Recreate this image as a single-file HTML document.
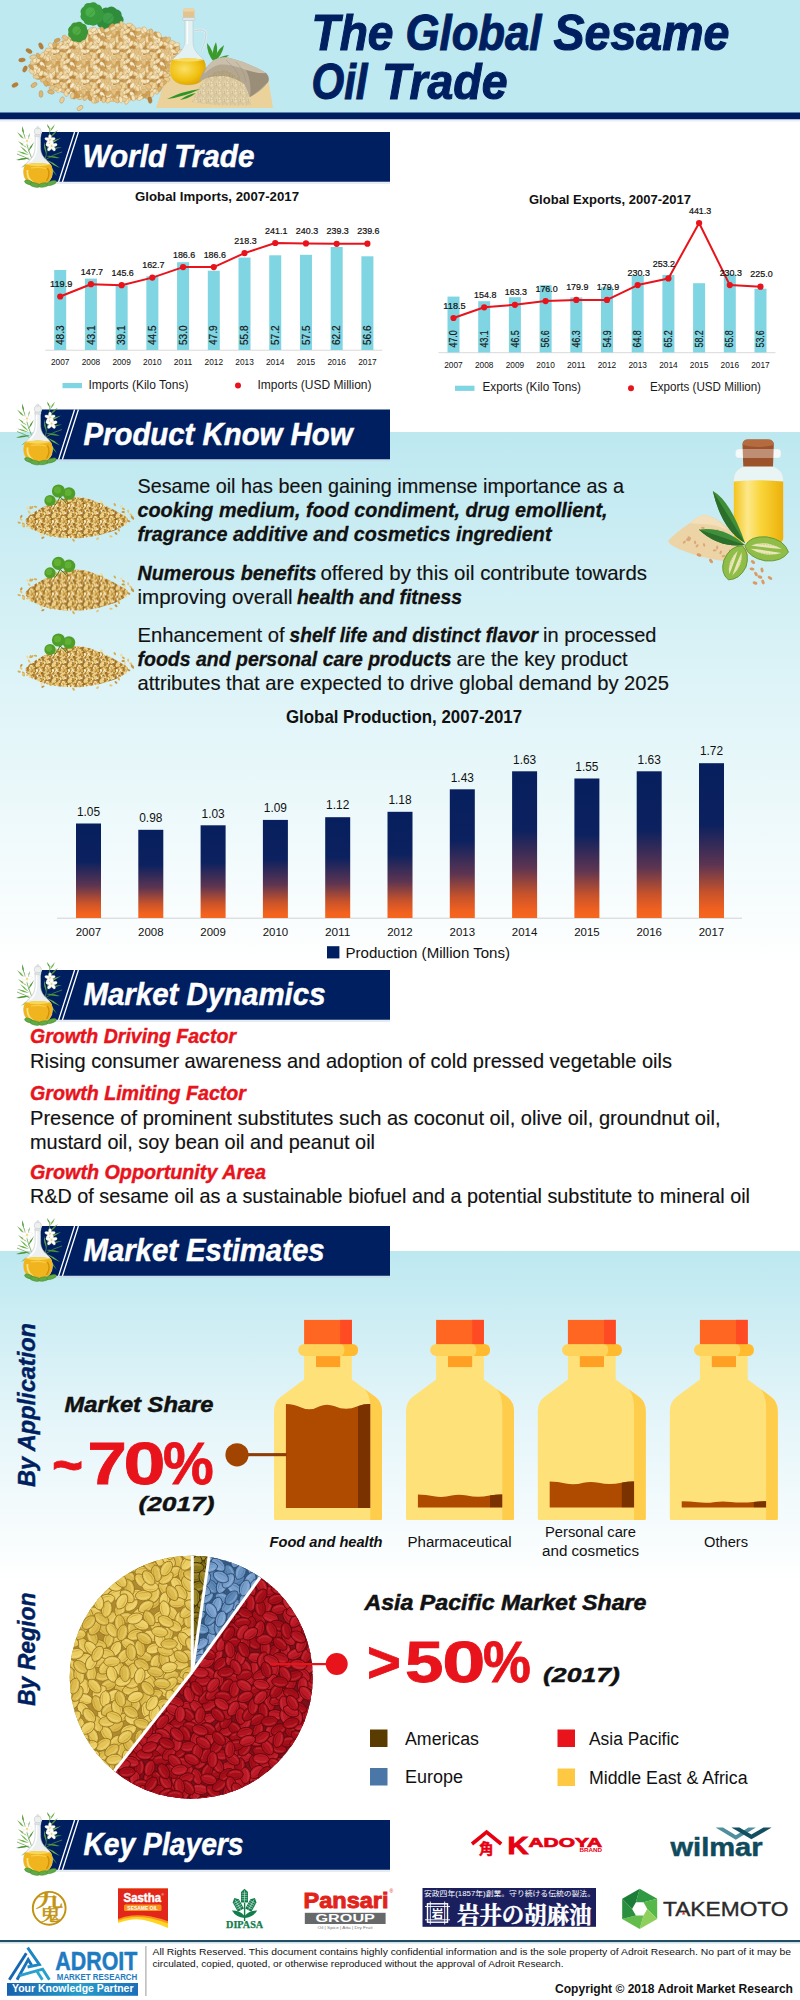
<!DOCTYPE html>
<html lang="en"><head><meta charset="utf-8"><title>The Global Sesame Oil Trade</title>
<style>
html,body{margin:0;padding:0;background:#fff}
svg{display:block}
text{font-family:"Liberation Sans","Noto Sans CJK JP",sans-serif}
</style></head><body>
<svg width="800" height="2000" viewBox="0 0 800 2000">
<defs>
<linearGradient id="gsec1" x1="0" y1="0" x2="0" y2="1"><stop offset="0" stop-color="#bde8f0"/><stop offset="0.45" stop-color="#dcf3f7"/><stop offset="1" stop-color="#ffffff"/></linearGradient>
<linearGradient id="gsec2" x1="0" y1="0" x2="0" y2="1"><stop offset="0" stop-color="#bde8f0"/><stop offset="0.5" stop-color="#e4f5f9"/><stop offset="1" stop-color="#ffffff"/></linearGradient>
<linearGradient id="gbar" x1="0" y1="0" x2="0" y2="1"><stop offset="0" stop-color="#071f5e"/><stop offset="0.40" stop-color="#0c215f"/><stop offset="0.66" stop-color="#5e3551"/><stop offset="0.84" stop-color="#c9532a"/><stop offset="0.95" stop-color="#f2621f"/><stop offset="1" stop-color="#f5661f"/></linearGradient>
<g id="oilicon">
<path d="M33 30 Q28 18 24 2 M33 30 Q24 24 17 22 M45 28 Q49 14 50 -4 M45 28 Q54 22 62 20" stroke="#5a9a40" stroke-width="0.7" fill="none"/>
<path d="M24 3 Q24.6 -1.8 22 -6 Q21.4 -1.2 24 3Z" fill="#4c9636"/>
<path d="M25 8 Q22.2 2.8 17 0 Q19.8 5.2 25 8Z" fill="#6db24a"/>
<path d="M26 12 Q29.5 7.0 30 1 Q26.5 6.0 26 12Z" fill="#4c9636"/>
<path d="M27 16 Q23.5 11.2 18 9 Q21.5 13.8 27 16Z" fill="#6db24a"/>
<path d="M28 20 Q32.3 15.8 34 10 Q29.7 14.2 28 20Z" fill="#4c9636"/>
<path d="M29 23 Q23.5 19.4 17 19 Q22.5 22.6 29 23Z" fill="#6db24a"/>
<path d="M30 26 Q22.8 25.3 16 28 Q23.2 28.7 30 26Z" fill="#4c9636"/>
<path d="M31 29 Q25.1 31.2 21 36 Q26.9 33.8 31 29Z" fill="#6db24a"/>
<path d="M32 31 Q26.8 35.6 24 42 Q29.2 37.4 32 31Z" fill="#4c9636"/>
<path d="M29 22 Q25.5 16.9 20 14 Q23.5 19.1 29 22Z" fill="#6db24a"/>
<path d="M50 -2 Q49.8 -5.6 47 -8 Q47.2 -4.4 50 -2Z" fill="#4c9636"/>
<path d="M50 0 Q53.8 -3.2 55 -8 Q51.2 -4.8 50 0Z" fill="#6db24a"/>
<path d="M49 6 Q54.6 3.2 58 -2 Q52.4 0.8 49 6Z" fill="#4c9636"/>
<path d="M48 12 Q55.2 10.5 61 6 Q53.8 7.5 48 12Z" fill="#6db24a"/>
<path d="M47 18 Q54.8 18.2 62 15 Q54.2 14.8 47 18Z" fill="#4c9636"/>
<path d="M46 22 Q46.4 15.8 44 10 Q43.6 16.2 46 22Z" fill="#6db24a"/>
<path d="M46 24 Q52.8 26.7 60 26 Q53.2 23.3 46 24Z" fill="#4c9636"/>
<path d="M47 28 Q52.6 33.4 60 36 Q54.4 30.6 47 28Z" fill="#6db24a"/>
<path d="M47 31 Q50.7 38.5 57 44 Q53.3 36.5 47 31Z" fill="#4c9636"/>
<path d="M48 14 Q51.8 9.6 53 4 Q49.2 8.4 48 14Z" fill="#6db24a"/>
<ellipse cx="27" cy="6.4" rx="1.6" ry="3.1" fill="#fff" stroke="#e6dfcf" stroke-width="0.3" transform="rotate(0 27 9)"/><ellipse cx="27" cy="6.4" rx="1.6" ry="3.1" fill="#fff" stroke="#e6dfcf" stroke-width="0.3" transform="rotate(72 27 9)"/><ellipse cx="27" cy="6.4" rx="1.6" ry="3.1" fill="#fff" stroke="#e6dfcf" stroke-width="0.3" transform="rotate(144 27 9)"/><ellipse cx="27" cy="6.4" rx="1.6" ry="3.1" fill="#fff" stroke="#e6dfcf" stroke-width="0.3" transform="rotate(216 27 9)"/><ellipse cx="27" cy="6.4" rx="1.6" ry="3.1" fill="#fff" stroke="#e6dfcf" stroke-width="0.3" transform="rotate(288 27 9)"/><circle cx="27" cy="9" r="0.9" fill="#efcf5a"/>
<ellipse cx="50" cy="5.5" rx="1.5" ry="3.0" fill="#fff" stroke="#e6dfcf" stroke-width="0.3" transform="rotate(0 50 8)"/><ellipse cx="50" cy="5.5" rx="1.5" ry="3.0" fill="#fff" stroke="#e6dfcf" stroke-width="0.3" transform="rotate(72 50 8)"/><ellipse cx="50" cy="5.5" rx="1.5" ry="3.0" fill="#fff" stroke="#e6dfcf" stroke-width="0.3" transform="rotate(144 50 8)"/><ellipse cx="50" cy="5.5" rx="1.5" ry="3.0" fill="#fff" stroke="#e6dfcf" stroke-width="0.3" transform="rotate(216 50 8)"/><ellipse cx="50" cy="5.5" rx="1.5" ry="3.0" fill="#fff" stroke="#e6dfcf" stroke-width="0.3" transform="rotate(288 50 8)"/><circle cx="50" cy="8" r="0.9" fill="#efcf5a"/>
<ellipse cx="51.5" cy="11.3" rx="1.6" ry="3.2" fill="#fff" stroke="#e6dfcf" stroke-width="0.3" transform="rotate(0 51.5 14)"/><ellipse cx="51.5" cy="11.3" rx="1.6" ry="3.2" fill="#fff" stroke="#e6dfcf" stroke-width="0.3" transform="rotate(72 51.5 14)"/><ellipse cx="51.5" cy="11.3" rx="1.6" ry="3.2" fill="#fff" stroke="#e6dfcf" stroke-width="0.3" transform="rotate(144 51.5 14)"/><ellipse cx="51.5" cy="11.3" rx="1.6" ry="3.2" fill="#fff" stroke="#e6dfcf" stroke-width="0.3" transform="rotate(216 51.5 14)"/><ellipse cx="51.5" cy="11.3" rx="1.6" ry="3.2" fill="#fff" stroke="#e6dfcf" stroke-width="0.3" transform="rotate(288 51.5 14)"/><circle cx="51.5" cy="14" r="0.9" fill="#efcf5a"/>
<path d="M35.2 3 L35 17 Q34.5 24 29 28.5 Q23.5 33 23.5 39.5 Q23.5 52.5 38 52.5 Q52.5 52.5 52.5 39.5 Q52.5 33 47 28.5 Q41 24 40.6 17 L40.4 3Z" fill="#edf0f0" stroke="#c2c7c7" stroke-width="0.6"/>
<circle cx="37.8" cy="-0.5" r="3.6" fill="#eef0f0" stroke="#c2c7c7" stroke-width="0.6"/><circle cx="37.8" cy="-4.3" r="1.2" fill="#e4e7e7" stroke="#c2c7c7" stroke-width="0.4"/>
<rect x="34.6" y="2.6" width="6.4" height="2.2" rx="1" fill="#dfe3e3" stroke="#c2c7c7" stroke-width="0.4"/>
<path d="M36.6 5 L36.4 17 Q36 25 30 30" stroke="#fff" stroke-width="1.5" fill="none" opacity="0.95"/>
<path d="M25.3 32.5 Q38 29.5 50.7 32.5 Q52.5 35.5 52.5 39.5 Q52.5 52.5 38 52.5 Q23.5 52.5 23.5 39.5 Q23.5 35.5 25.3 32.5Z" fill="#f0b41e"/>
<path d="M25.3 32.5 Q38 29.5 50.7 32.5 Q38 36 25.3 32.5Z" fill="#f9d858"/>
<path d="M27.5 38 Q26.5 46 33 50.5" stroke="#fbe27e" stroke-width="1.8" fill="none"/>
<path d="M31 36 Q38 34.5 46 36.5" stroke="#f8cf4a" stroke-width="1.2" fill="none"/>
<path d="M47.5 36 Q51 42 46.5 49" stroke="#d18f0c" stroke-width="1.3" fill="none"/>
<ellipse cx="29" cy="50.5" rx="4.6" ry="2" fill="#62ab44" stroke="#3f8a2c" stroke-width="0.5" transform="rotate(20 29 50.5)"/>
<ellipse cx="35" cy="53" rx="5" ry="2.1" fill="#62ab44" stroke="#3f8a2c" stroke-width="0.5" transform="rotate(12 35 53)"/>
<ellipse cx="43.5" cy="53" rx="5" ry="2.1" fill="#62ab44" stroke="#3f8a2c" stroke-width="0.5" transform="rotate(-8 43.5 53)"/>
<ellipse cx="51.5" cy="51" rx="5" ry="2" fill="#62ab44" stroke="#3f8a2c" stroke-width="0.5" transform="rotate(-18 51.5 51)"/>
</g>
<g id="sya"><path d="M-8.2 0 Q-6.4 -5.2 0.8 -5.3 Q7.6 -4.4 8.6 0 Q7.6 4.4 0.8 5.3 Q-6.4 5.2 -8.2 0Z" fill="#e4c456" stroke="#9c7a26" stroke-width="0.9"/><path d="M-5.6 2 Q0 5 6.4 1.8 Q1 3.2 -5.6 2Z" fill="#b8922e" opacity="0.55"/><path d="M-4.6 -1.8 Q0 -3.9 5 -2" stroke="#f3df8e" stroke-width="1.6" fill="none" opacity="0.45" stroke-linecap="round"/></g>
<g id="syb"><path d="M-8.2 0 Q-6.4 -5.2 0.8 -5.3 Q7.6 -4.4 8.6 0 Q7.6 4.4 0.8 5.3 Q-6.4 5.2 -8.2 0Z" fill="#dcba4c" stroke="#9c7a26" stroke-width="0.9"/><path d="M-5.6 2 Q0 5 6.4 1.8 Q1 3.2 -5.6 2Z" fill="#b8922e" opacity="0.55"/><path d="M-4.6 -1.8 Q0 -3.9 5 -2" stroke="#f3df8e" stroke-width="1.6" fill="none" opacity="0.45" stroke-linecap="round"/></g>
<g id="syc"><path d="M-8.2 0 Q-6.4 -5.2 0.8 -5.3 Q7.6 -4.4 8.6 0 Q7.6 4.4 0.8 5.3 Q-6.4 5.2 -8.2 0Z" fill="#ebcd62" stroke="#9c7a26" stroke-width="0.9"/><path d="M-5.6 2 Q0 5 6.4 1.8 Q1 3.2 -5.6 2Z" fill="#b8922e" opacity="0.55"/><path d="M-4.6 -1.8 Q0 -3.9 5 -2" stroke="#f3df8e" stroke-width="1.6" fill="none" opacity="0.45" stroke-linecap="round"/></g>
<g id="sra"><path d="M-8.2 0 Q-6.4 -5.2 0.8 -5.3 Q7.6 -4.4 8.6 0 Q7.6 4.4 0.8 5.3 Q-6.4 5.2 -8.2 0Z" fill="#b21420" stroke="#64070f" stroke-width="0.9"/><path d="M-5.6 2 Q0 5 6.4 1.8 Q1 3.2 -5.6 2Z" fill="#760912" opacity="0.55"/><path d="M-4.6 -1.8 Q0 -3.9 5 -2" stroke="#cc3f48" stroke-width="1.6" fill="none" opacity="0.45" stroke-linecap="round"/></g>
<g id="srb"><path d="M-8.2 0 Q-6.4 -5.2 0.8 -5.3 Q7.6 -4.4 8.6 0 Q7.6 4.4 0.8 5.3 Q-6.4 5.2 -8.2 0Z" fill="#a60f1a" stroke="#64070f" stroke-width="0.9"/><path d="M-5.6 2 Q0 5 6.4 1.8 Q1 3.2 -5.6 2Z" fill="#760912" opacity="0.55"/><path d="M-4.6 -1.8 Q0 -3.9 5 -2" stroke="#cc3f48" stroke-width="1.6" fill="none" opacity="0.45" stroke-linecap="round"/></g>
<g id="src"><path d="M-8.2 0 Q-6.4 -5.2 0.8 -5.3 Q7.6 -4.4 8.6 0 Q7.6 4.4 0.8 5.3 Q-6.4 5.2 -8.2 0Z" fill="#bc1a26" stroke="#64070f" stroke-width="0.9"/><path d="M-5.6 2 Q0 5 6.4 1.8 Q1 3.2 -5.6 2Z" fill="#760912" opacity="0.55"/><path d="M-4.6 -1.8 Q0 -3.9 5 -2" stroke="#cc3f48" stroke-width="1.6" fill="none" opacity="0.45" stroke-linecap="round"/></g>
<g id="sba"><path d="M-8.2 0 Q-6.4 -5.2 0.8 -5.3 Q7.6 -4.4 8.6 0 Q7.6 4.4 0.8 5.3 Q-6.4 5.2 -8.2 0Z" fill="#6a95c2" stroke="#2f4f76" stroke-width="0.9"/><path d="M-5.6 2 Q0 5 6.4 1.8 Q1 3.2 -5.6 2Z" fill="#3f6592" opacity="0.55"/><path d="M-4.6 -1.8 Q0 -3.9 5 -2" stroke="#9cbde0" stroke-width="1.6" fill="none" opacity="0.45" stroke-linecap="round"/></g>
<g id="sbb"><path d="M-8.2 0 Q-6.4 -5.2 0.8 -5.3 Q7.6 -4.4 8.6 0 Q7.6 4.4 0.8 5.3 Q-6.4 5.2 -8.2 0Z" fill="#5d87b5" stroke="#2f4f76" stroke-width="0.9"/><path d="M-5.6 2 Q0 5 6.4 1.8 Q1 3.2 -5.6 2Z" fill="#3f6592" opacity="0.55"/><path d="M-4.6 -1.8 Q0 -3.9 5 -2" stroke="#9cbde0" stroke-width="1.6" fill="none" opacity="0.45" stroke-linecap="round"/></g>
<g id="sbc"><path d="M-8.2 0 Q-6.4 -5.2 0.8 -5.3 Q7.6 -4.4 8.6 0 Q7.6 4.4 0.8 5.3 Q-6.4 5.2 -8.2 0Z" fill="#789fcc" stroke="#2f4f76" stroke-width="0.9"/><path d="M-5.6 2 Q0 5 6.4 1.8 Q1 3.2 -5.6 2Z" fill="#3f6592" opacity="0.55"/><path d="M-4.6 -1.8 Q0 -3.9 5 -2" stroke="#9cbde0" stroke-width="1.6" fill="none" opacity="0.45" stroke-linecap="round"/></g>
<g id="soa"><path d="M-8.2 0 Q-6.4 -5.2 0.8 -5.3 Q7.6 -4.4 8.6 0 Q7.6 4.4 0.8 5.3 Q-6.4 5.2 -8.2 0Z" fill="#8f7a1c" stroke="#3f3206" stroke-width="0.9"/><path d="M-5.6 2 Q0 5 6.4 1.8 Q1 3.2 -5.6 2Z" fill="#5a4a0c" opacity="0.55"/><path d="M-4.6 -1.8 Q0 -3.9 5 -2" stroke="#c0ae58" stroke-width="1.6" fill="none" opacity="0.45" stroke-linecap="round"/></g>
<g id="sob"><path d="M-8.2 0 Q-6.4 -5.2 0.8 -5.3 Q7.6 -4.4 8.6 0 Q7.6 4.4 0.8 5.3 Q-6.4 5.2 -8.2 0Z" fill="#816c14" stroke="#3f3206" stroke-width="0.9"/><path d="M-5.6 2 Q0 5 6.4 1.8 Q1 3.2 -5.6 2Z" fill="#5a4a0c" opacity="0.55"/><path d="M-4.6 -1.8 Q0 -3.9 5 -2" stroke="#c0ae58" stroke-width="1.6" fill="none" opacity="0.45" stroke-linecap="round"/></g>
<g id="soc"><path d="M-8.2 0 Q-6.4 -5.2 0.8 -5.3 Q7.6 -4.4 8.6 0 Q7.6 4.4 0.8 5.3 Q-6.4 5.2 -8.2 0Z" fill="#9c8828" stroke="#3f3206" stroke-width="0.9"/><path d="M-5.6 2 Q0 5 6.4 1.8 Q1 3.2 -5.6 2Z" fill="#5a4a0c" opacity="0.55"/><path d="M-4.6 -1.8 Q0 -3.9 5 -2" stroke="#c0ae58" stroke-width="1.6" fill="none" opacity="0.45" stroke-linecap="round"/></g>
<clipPath id="pieclip"><circle cx="191.2" cy="1677.2" r="121.5"/></clipPath>
<pattern id="pbig" width="30" height="30" patternUnits="userSpaceOnUse">
<rect width="30" height="30" fill="#b88a44"/>
<ellipse cx="7.1" cy="16.3" rx="3.1" ry="1.8" fill="#b9823a" stroke="#c59c5a" stroke-width="0.35" transform="rotate(67 7.1 16.3)"/><ellipse cx="17.4" cy="18.2" rx="2.9" ry="1.7" fill="#f1daa8" stroke="#c59c5a" stroke-width="0.35" transform="rotate(164 17.4 18.2)"/><ellipse cx="7.0" cy="-0.1" rx="3.1" ry="1.8" fill="#f3deb0" stroke="#c59c5a" stroke-width="0.35" transform="rotate(85 7.0 -0.1)"/><ellipse cx="7.0" cy="29.9" rx="3.1" ry="1.8" fill="#f3deb0" stroke="#c59c5a" stroke-width="0.35" transform="rotate(85 7.0 29.9)"/><ellipse cx="19.2" cy="4.5" rx="3.0" ry="1.7" fill="#f3deb0" stroke="#c59c5a" stroke-width="0.35" transform="rotate(114 19.2 4.5)"/><ellipse cx="19.2" cy="34.5" rx="3.0" ry="1.7" fill="#f3deb0" stroke="#c59c5a" stroke-width="0.35" transform="rotate(114 19.2 34.5)"/><ellipse cx="0.5" cy="23.3" rx="2.7" ry="1.6" fill="#b9823a" stroke="#c59c5a" stroke-width="0.35" transform="rotate(29 0.5 23.3)"/><ellipse cx="30.5" cy="23.3" rx="2.7" ry="1.6" fill="#b9823a" stroke="#c59c5a" stroke-width="0.35" transform="rotate(29 30.5 23.3)"/><ellipse cx="23.4" cy="24.7" rx="3.3" ry="1.9" fill="#b9823a" stroke="#c59c5a" stroke-width="0.35" transform="rotate(48 23.4 24.7)"/><ellipse cx="-3.6" cy="21.4" rx="3.3" ry="1.9" fill="#f8ecce" stroke="#c59c5a" stroke-width="0.35" transform="rotate(166 -3.6 21.4)"/><ellipse cx="26.4" cy="21.4" rx="3.3" ry="1.9" fill="#f8ecce" stroke="#c59c5a" stroke-width="0.35" transform="rotate(166 26.4 21.4)"/><ellipse cx="17.3" cy="-1.1" rx="2.7" ry="1.6" fill="#cf9e54" stroke="#c59c5a" stroke-width="0.35" transform="rotate(24 17.3 -1.1)"/><ellipse cx="17.3" cy="28.9" rx="2.7" ry="1.6" fill="#cf9e54" stroke="#c59c5a" stroke-width="0.35" transform="rotate(24 17.3 28.9)"/><ellipse cx="4.1" cy="6.5" rx="3.4" ry="1.9" fill="#f8ecce" stroke="#c59c5a" stroke-width="0.35" transform="rotate(174 4.1 6.5)"/><ellipse cx="34.1" cy="6.5" rx="3.4" ry="1.9" fill="#f8ecce" stroke="#c59c5a" stroke-width="0.35" transform="rotate(174 34.1 6.5)"/><ellipse cx="-4.3" cy="12.6" rx="3.0" ry="1.7" fill="#b9823a" stroke="#c59c5a" stroke-width="0.35" transform="rotate(150 -4.3 12.6)"/><ellipse cx="25.7" cy="12.6" rx="3.0" ry="1.7" fill="#b9823a" stroke="#c59c5a" stroke-width="0.35" transform="rotate(150 25.7 12.6)"/><ellipse cx="17.6" cy="17.5" rx="3.5" ry="2.0" fill="#f6e6c0" stroke="#c59c5a" stroke-width="0.35" transform="rotate(163 17.6 17.5)"/><ellipse cx="0.9" cy="8.4" rx="3.3" ry="1.9" fill="#f5e4ba" stroke="#c59c5a" stroke-width="0.35" transform="rotate(109 0.9 8.4)"/><ellipse cx="30.9" cy="8.4" rx="3.3" ry="1.9" fill="#f5e4ba" stroke="#c59c5a" stroke-width="0.35" transform="rotate(109 30.9 8.4)"/><ellipse cx="9.8" cy="16.3" rx="3.3" ry="1.9" fill="#e4c384" stroke="#c59c5a" stroke-width="0.35" transform="rotate(103 9.8 16.3)"/><ellipse cx="6.3" cy="24.9" rx="2.8" ry="1.6" fill="#ebcd90" stroke="#c59c5a" stroke-width="0.35" transform="rotate(103 6.3 24.9)"/><ellipse cx="14.5" cy="19.2" rx="3.4" ry="2.0" fill="#cf9e54" stroke="#c59c5a" stroke-width="0.35" transform="rotate(87 14.5 19.2)"/><ellipse cx="12.3" cy="4.5" rx="3.4" ry="2.0" fill="#f8ecce" stroke="#c59c5a" stroke-width="0.35" transform="rotate(53 12.3 4.5)"/><ellipse cx="12.3" cy="34.5" rx="3.4" ry="2.0" fill="#f8ecce" stroke="#c59c5a" stroke-width="0.35" transform="rotate(53 12.3 34.5)"/><ellipse cx="1.3" cy="18.4" rx="2.9" ry="1.7" fill="#b9823a" stroke="#c59c5a" stroke-width="0.35" transform="rotate(8 1.3 18.4)"/><ellipse cx="31.3" cy="18.4" rx="2.9" ry="1.7" fill="#b9823a" stroke="#c59c5a" stroke-width="0.35" transform="rotate(8 31.3 18.4)"/><ellipse cx="-3.6" cy="-0.6" rx="2.9" ry="1.7" fill="#efd7a2" stroke="#c59c5a" stroke-width="0.35" transform="rotate(91 -3.6 -0.6)"/><ellipse cx="-3.6" cy="29.4" rx="2.9" ry="1.7" fill="#efd7a2" stroke="#c59c5a" stroke-width="0.35" transform="rotate(91 -3.6 29.4)"/><ellipse cx="26.4" cy="-0.6" rx="2.9" ry="1.7" fill="#efd7a2" stroke="#c59c5a" stroke-width="0.35" transform="rotate(91 26.4 -0.6)"/><ellipse cx="26.4" cy="29.4" rx="2.9" ry="1.7" fill="#efd7a2" stroke="#c59c5a" stroke-width="0.35" transform="rotate(91 26.4 29.4)"/><ellipse cx="2.3" cy="18.0" rx="3.5" ry="2.1" fill="#d9ae66" stroke="#c59c5a" stroke-width="0.35" transform="rotate(6 2.3 18.0)"/><ellipse cx="32.3" cy="18.0" rx="3.5" ry="2.1" fill="#d9ae66" stroke="#c59c5a" stroke-width="0.35" transform="rotate(6 32.3 18.0)"/><ellipse cx="8.7" cy="7.9" rx="2.9" ry="1.7" fill="#cf9e54" stroke="#c59c5a" stroke-width="0.35" transform="rotate(124 8.7 7.9)"/><ellipse cx="-1.2" cy="-3.1" rx="3.4" ry="2.0" fill="#f1daa8" stroke="#c59c5a" stroke-width="0.35" transform="rotate(68 -1.2 -3.1)"/><ellipse cx="-1.2" cy="26.9" rx="3.4" ry="2.0" fill="#f1daa8" stroke="#c59c5a" stroke-width="0.35" transform="rotate(68 -1.2 26.9)"/><ellipse cx="28.8" cy="-3.1" rx="3.4" ry="2.0" fill="#f1daa8" stroke="#c59c5a" stroke-width="0.35" transform="rotate(68 28.8 -3.1)"/><ellipse cx="28.8" cy="26.9" rx="3.4" ry="2.0" fill="#f1daa8" stroke="#c59c5a" stroke-width="0.35" transform="rotate(68 28.8 26.9)"/><ellipse cx="11.6" cy="-4.0" rx="3.2" ry="1.9" fill="#e4c384" stroke="#c59c5a" stroke-width="0.35" transform="rotate(123 11.6 -4.0)"/><ellipse cx="11.6" cy="26.0" rx="3.2" ry="1.9" fill="#e4c384" stroke="#c59c5a" stroke-width="0.35" transform="rotate(123 11.6 26.0)"/><ellipse cx="-1.8" cy="15.2" rx="3.5" ry="2.0" fill="#d9ae66" stroke="#c59c5a" stroke-width="0.35" transform="rotate(78 -1.8 15.2)"/><ellipse cx="28.2" cy="15.2" rx="3.5" ry="2.0" fill="#d9ae66" stroke="#c59c5a" stroke-width="0.35" transform="rotate(78 28.2 15.2)"/><ellipse cx="13.1" cy="7.7" rx="2.6" ry="1.5" fill="#cf9e54" stroke="#c59c5a" stroke-width="0.35" transform="rotate(55 13.1 7.7)"/><ellipse cx="12.5" cy="17.4" rx="3.2" ry="1.8" fill="#b9823a" stroke="#c59c5a" stroke-width="0.35" transform="rotate(4 12.5 17.4)"/><ellipse cx="4.0" cy="19.0" rx="3.3" ry="1.9" fill="#cf9e54" stroke="#c59c5a" stroke-width="0.35" transform="rotate(60 4.0 19.0)"/><ellipse cx="34.0" cy="19.0" rx="3.3" ry="1.9" fill="#cf9e54" stroke="#c59c5a" stroke-width="0.35" transform="rotate(60 34.0 19.0)"/><ellipse cx="10.6" cy="21.2" rx="3.2" ry="1.8" fill="#efd7a2" stroke="#c59c5a" stroke-width="0.35" transform="rotate(133 10.6 21.2)"/><ellipse cx="-1.4" cy="0.6" rx="3.1" ry="1.8" fill="#f6e6c0" stroke="#c59c5a" stroke-width="0.35" transform="rotate(66 -1.4 0.6)"/><ellipse cx="-1.4" cy="30.6" rx="3.1" ry="1.8" fill="#f6e6c0" stroke="#c59c5a" stroke-width="0.35" transform="rotate(66 -1.4 30.6)"/><ellipse cx="28.6" cy="0.6" rx="3.1" ry="1.8" fill="#f6e6c0" stroke="#c59c5a" stroke-width="0.35" transform="rotate(66 28.6 0.6)"/><ellipse cx="28.6" cy="30.6" rx="3.1" ry="1.8" fill="#f6e6c0" stroke="#c59c5a" stroke-width="0.35" transform="rotate(66 28.6 30.6)"/><ellipse cx="17.8" cy="9.6" rx="3.3" ry="1.9" fill="#cf9e54" stroke="#c59c5a" stroke-width="0.35" transform="rotate(66 17.8 9.6)"/><ellipse cx="25.3" cy="7.9" rx="3.4" ry="1.9" fill="#e4c384" stroke="#c59c5a" stroke-width="0.35" transform="rotate(142 25.3 7.9)"/><ellipse cx="0.8" cy="17.1" rx="3.1" ry="1.8" fill="#ebcd90" stroke="#c59c5a" stroke-width="0.35" transform="rotate(132 0.8 17.1)"/><ellipse cx="30.8" cy="17.1" rx="3.1" ry="1.8" fill="#ebcd90" stroke="#c59c5a" stroke-width="0.35" transform="rotate(132 30.8 17.1)"/><ellipse cx="19.6" cy="8.1" rx="3.0" ry="1.8" fill="#f6e6c0" stroke="#c59c5a" stroke-width="0.35" transform="rotate(59 19.6 8.1)"/><ellipse cx="20.9" cy="3.1" rx="3.3" ry="1.9" fill="#cf9e54" stroke="#c59c5a" stroke-width="0.35" transform="rotate(58 20.9 3.1)"/><ellipse cx="20.9" cy="33.1" rx="3.3" ry="1.9" fill="#cf9e54" stroke="#c59c5a" stroke-width="0.35" transform="rotate(58 20.9 33.1)"/><ellipse cx="6.7" cy="24.3" rx="2.9" ry="1.7" fill="#e4c384" stroke="#c59c5a" stroke-width="0.35" transform="rotate(173 6.7 24.3)"/><ellipse cx="19.5" cy="-3.5" rx="3.4" ry="2.0" fill="#d9ae66" stroke="#c59c5a" stroke-width="0.35" transform="rotate(81 19.5 -3.5)"/><ellipse cx="19.5" cy="26.5" rx="3.4" ry="2.0" fill="#d9ae66" stroke="#c59c5a" stroke-width="0.35" transform="rotate(81 19.5 26.5)"/><ellipse cx="1.0" cy="-1.3" rx="2.8" ry="1.6" fill="#b9823a" stroke="#c59c5a" stroke-width="0.35" transform="rotate(57 1.0 -1.3)"/><ellipse cx="1.0" cy="28.7" rx="2.8" ry="1.6" fill="#b9823a" stroke="#c59c5a" stroke-width="0.35" transform="rotate(57 1.0 28.7)"/><ellipse cx="31.0" cy="-1.3" rx="2.8" ry="1.6" fill="#b9823a" stroke="#c59c5a" stroke-width="0.35" transform="rotate(57 31.0 -1.3)"/><ellipse cx="31.0" cy="28.7" rx="2.8" ry="1.6" fill="#b9823a" stroke="#c59c5a" stroke-width="0.35" transform="rotate(57 31.0 28.7)"/><ellipse cx="8.4" cy="24.2" rx="3.0" ry="1.7" fill="#b9823a" stroke="#c59c5a" stroke-width="0.35" transform="rotate(116 8.4 24.2)"/><ellipse cx="3.9" cy="8.8" rx="3.1" ry="1.8" fill="#ebcd90" stroke="#c59c5a" stroke-width="0.35" transform="rotate(143 3.9 8.8)"/><ellipse cx="33.9" cy="8.8" rx="3.1" ry="1.8" fill="#ebcd90" stroke="#c59c5a" stroke-width="0.35" transform="rotate(143 33.9 8.8)"/><ellipse cx="19.0" cy="8.7" rx="3.5" ry="2.0" fill="#efd7a2" stroke="#c59c5a" stroke-width="0.35" transform="rotate(102 19.0 8.7)"/><ellipse cx="4.7" cy="0.1" rx="3.6" ry="2.1" fill="#b9823a" stroke="#c59c5a" stroke-width="0.35" transform="rotate(170 4.7 0.1)"/><ellipse cx="4.7" cy="30.1" rx="3.6" ry="2.1" fill="#b9823a" stroke="#c59c5a" stroke-width="0.35" transform="rotate(170 4.7 30.1)"/><ellipse cx="13.0" cy="-1.5" rx="2.7" ry="1.5" fill="#d9ae66" stroke="#c59c5a" stroke-width="0.35" transform="rotate(167 13.0 -1.5)"/><ellipse cx="13.0" cy="28.5" rx="2.7" ry="1.5" fill="#d9ae66" stroke="#c59c5a" stroke-width="0.35" transform="rotate(167 13.0 28.5)"/><ellipse cx="13.7" cy="22.6" rx="3.1" ry="1.8" fill="#ebcd90" stroke="#c59c5a" stroke-width="0.35" transform="rotate(135 13.7 22.6)"/><ellipse cx="-3.3" cy="-4.2" rx="2.7" ry="1.6" fill="#ebcd90" stroke="#c59c5a" stroke-width="0.35" transform="rotate(154 -3.3 -4.2)"/><ellipse cx="-3.3" cy="25.8" rx="2.7" ry="1.6" fill="#ebcd90" stroke="#c59c5a" stroke-width="0.35" transform="rotate(154 -3.3 25.8)"/><ellipse cx="26.7" cy="-4.2" rx="2.7" ry="1.6" fill="#ebcd90" stroke="#c59c5a" stroke-width="0.35" transform="rotate(154 26.7 -4.2)"/><ellipse cx="26.7" cy="25.8" rx="2.7" ry="1.6" fill="#ebcd90" stroke="#c59c5a" stroke-width="0.35" transform="rotate(154 26.7 25.8)"/><ellipse cx="7.3" cy="1.1" rx="3.5" ry="2.0" fill="#f3deb0" stroke="#c59c5a" stroke-width="0.35" transform="rotate(145 7.3 1.1)"/><ellipse cx="7.3" cy="31.1" rx="3.5" ry="2.0" fill="#f3deb0" stroke="#c59c5a" stroke-width="0.35" transform="rotate(145 7.3 31.1)"/><ellipse cx="-3.1" cy="-3.0" rx="3.1" ry="1.8" fill="#efd7a2" stroke="#c59c5a" stroke-width="0.35" transform="rotate(104 -3.1 -3.0)"/><ellipse cx="-3.1" cy="27.0" rx="3.1" ry="1.8" fill="#efd7a2" stroke="#c59c5a" stroke-width="0.35" transform="rotate(104 -3.1 27.0)"/><ellipse cx="26.9" cy="-3.0" rx="3.1" ry="1.8" fill="#efd7a2" stroke="#c59c5a" stroke-width="0.35" transform="rotate(104 26.9 -3.0)"/><ellipse cx="26.9" cy="27.0" rx="3.1" ry="1.8" fill="#efd7a2" stroke="#c59c5a" stroke-width="0.35" transform="rotate(104 26.9 27.0)"/><ellipse cx="3.6" cy="15.1" rx="3.1" ry="1.8" fill="#efd7a2" stroke="#c59c5a" stroke-width="0.35" transform="rotate(43 3.6 15.1)"/><ellipse cx="33.6" cy="15.1" rx="3.1" ry="1.8" fill="#efd7a2" stroke="#c59c5a" stroke-width="0.35" transform="rotate(43 33.6 15.1)"/><ellipse cx="12.4" cy="-1.8" rx="2.8" ry="1.6" fill="#cf9e54" stroke="#c59c5a" stroke-width="0.35" transform="rotate(110 12.4 -1.8)"/><ellipse cx="12.4" cy="28.2" rx="2.8" ry="1.6" fill="#cf9e54" stroke="#c59c5a" stroke-width="0.35" transform="rotate(110 12.4 28.2)"/><ellipse cx="-0.8" cy="16.2" rx="3.0" ry="1.7" fill="#efd7a2" stroke="#c59c5a" stroke-width="0.35" transform="rotate(146 -0.8 16.2)"/><ellipse cx="29.2" cy="16.2" rx="3.0" ry="1.7" fill="#efd7a2" stroke="#c59c5a" stroke-width="0.35" transform="rotate(146 29.2 16.2)"/><ellipse cx="5.9" cy="16.0" rx="2.9" ry="1.7" fill="#f5e4ba" stroke="#c59c5a" stroke-width="0.35" transform="rotate(147 5.9 16.0)"/><ellipse cx="8.2" cy="-3.3" rx="3.1" ry="1.8" fill="#efd7a2" stroke="#c59c5a" stroke-width="0.35" transform="rotate(23 8.2 -3.3)"/><ellipse cx="8.2" cy="26.7" rx="3.1" ry="1.8" fill="#efd7a2" stroke="#c59c5a" stroke-width="0.35" transform="rotate(23 8.2 26.7)"/><ellipse cx="17.1" cy="12.0" rx="2.9" ry="1.7" fill="#d9ae66" stroke="#c59c5a" stroke-width="0.35" transform="rotate(136 17.1 12.0)"/><ellipse cx="15.8" cy="12.7" rx="3.4" ry="2.0" fill="#efd7a2" stroke="#c59c5a" stroke-width="0.35" transform="rotate(85 15.8 12.7)"/><ellipse cx="23.3" cy="1.4" rx="3.5" ry="2.1" fill="#f1daa8" stroke="#c59c5a" stroke-width="0.35" transform="rotate(9 23.3 1.4)"/><ellipse cx="23.3" cy="31.4" rx="3.5" ry="2.1" fill="#f1daa8" stroke="#c59c5a" stroke-width="0.35" transform="rotate(9 23.3 31.4)"/><ellipse cx="-4.4" cy="2.6" rx="2.8" ry="1.6" fill="#cf9e54" stroke="#c59c5a" stroke-width="0.35" transform="rotate(90 -4.4 2.6)"/><ellipse cx="-4.4" cy="32.6" rx="2.8" ry="1.6" fill="#cf9e54" stroke="#c59c5a" stroke-width="0.35" transform="rotate(90 -4.4 32.6)"/><ellipse cx="25.6" cy="2.6" rx="2.8" ry="1.6" fill="#cf9e54" stroke="#c59c5a" stroke-width="0.35" transform="rotate(90 25.6 2.6)"/><ellipse cx="25.6" cy="32.6" rx="2.8" ry="1.6" fill="#cf9e54" stroke="#c59c5a" stroke-width="0.35" transform="rotate(90 25.6 32.6)"/><ellipse cx="2.2" cy="11.6" rx="3.0" ry="1.7" fill="#ebcd90" stroke="#c59c5a" stroke-width="0.35" transform="rotate(70 2.2 11.6)"/><ellipse cx="32.2" cy="11.6" rx="3.0" ry="1.7" fill="#ebcd90" stroke="#c59c5a" stroke-width="0.35" transform="rotate(70 32.2 11.6)"/><ellipse cx="5.7" cy="9.9" rx="2.6" ry="1.5" fill="#f3deb0" stroke="#c59c5a" stroke-width="0.35" transform="rotate(22 5.7 9.9)"/><ellipse cx="21.7" cy="23.9" rx="3.0" ry="1.7" fill="#efd7a2" stroke="#c59c5a" stroke-width="0.35" transform="rotate(102 21.7 23.9)"/><ellipse cx="18.1" cy="23.5" rx="3.2" ry="1.9" fill="#efd7a2" stroke="#c59c5a" stroke-width="0.35" transform="rotate(68 18.1 23.5)"/><ellipse cx="12.9" cy="11.2" rx="3.0" ry="1.8" fill="#cf9e54" stroke="#c59c5a" stroke-width="0.35" transform="rotate(89 12.9 11.2)"/><ellipse cx="20.8" cy="13.8" rx="2.9" ry="1.7" fill="#f3deb0" stroke="#c59c5a" stroke-width="0.35" transform="rotate(44 20.8 13.8)"/><ellipse cx="17.7" cy="24.1" rx="3.5" ry="2.0" fill="#f5e4ba" stroke="#c59c5a" stroke-width="0.35" transform="rotate(40 17.7 24.1)"/><ellipse cx="-1.9" cy="11.2" rx="2.7" ry="1.6" fill="#ebcd90" stroke="#c59c5a" stroke-width="0.35" transform="rotate(162 -1.9 11.2)"/><ellipse cx="28.1" cy="11.2" rx="2.7" ry="1.6" fill="#ebcd90" stroke="#c59c5a" stroke-width="0.35" transform="rotate(162 28.1 11.2)"/><ellipse cx="20.7" cy="-1.8" rx="3.4" ry="2.0" fill="#f3deb0" stroke="#c59c5a" stroke-width="0.35" transform="rotate(132 20.7 -1.8)"/><ellipse cx="20.7" cy="28.2" rx="3.4" ry="2.0" fill="#f3deb0" stroke="#c59c5a" stroke-width="0.35" transform="rotate(132 20.7 28.2)"/><ellipse cx="20.0" cy="22.0" rx="3.4" ry="2.0" fill="#e4c384" stroke="#c59c5a" stroke-width="0.35" transform="rotate(101 20.0 22.0)"/><ellipse cx="21.5" cy="14.2" rx="2.7" ry="1.6" fill="#f8ecce" stroke="#c59c5a" stroke-width="0.35" transform="rotate(42 21.5 14.2)"/><ellipse cx="2.8" cy="3.0" rx="3.4" ry="2.0" fill="#f5e4ba" stroke="#c59c5a" stroke-width="0.35" transform="rotate(158 2.8 3.0)"/><ellipse cx="2.8" cy="33.0" rx="3.4" ry="2.0" fill="#f5e4ba" stroke="#c59c5a" stroke-width="0.35" transform="rotate(158 2.8 33.0)"/><ellipse cx="32.8" cy="3.0" rx="3.4" ry="2.0" fill="#f5e4ba" stroke="#c59c5a" stroke-width="0.35" transform="rotate(158 32.8 3.0)"/><ellipse cx="32.8" cy="33.0" rx="3.4" ry="2.0" fill="#f5e4ba" stroke="#c59c5a" stroke-width="0.35" transform="rotate(158 32.8 33.0)"/><ellipse cx="10.2" cy="-4.4" rx="3.3" ry="1.9" fill="#e4c384" stroke="#c59c5a" stroke-width="0.35" transform="rotate(5 10.2 -4.4)"/><ellipse cx="10.2" cy="25.6" rx="3.3" ry="1.9" fill="#e4c384" stroke="#c59c5a" stroke-width="0.35" transform="rotate(5 10.2 25.6)"/><ellipse cx="25.1" cy="-1.4" rx="2.7" ry="1.5" fill="#e4c384" stroke="#c59c5a" stroke-width="0.35" transform="rotate(104 25.1 -1.4)"/><ellipse cx="25.1" cy="28.6" rx="2.7" ry="1.5" fill="#e4c384" stroke="#c59c5a" stroke-width="0.35" transform="rotate(104 25.1 28.6)"/><ellipse cx="23.0" cy="15.3" rx="3.2" ry="1.8" fill="#e4c384" stroke="#c59c5a" stroke-width="0.35" transform="rotate(129 23.0 15.3)"/><ellipse cx="3.0" cy="16.6" rx="2.8" ry="1.6" fill="#b9823a" stroke="#c59c5a" stroke-width="0.35" transform="rotate(99 3.0 16.6)"/><ellipse cx="33.0" cy="16.6" rx="2.8" ry="1.6" fill="#b9823a" stroke="#c59c5a" stroke-width="0.35" transform="rotate(99 33.0 16.6)"/><ellipse cx="2.3" cy="-0.0" rx="3.2" ry="1.9" fill="#f1daa8" stroke="#c59c5a" stroke-width="0.35" transform="rotate(116 2.3 -0.0)"/><ellipse cx="2.3" cy="30.0" rx="3.2" ry="1.9" fill="#f1daa8" stroke="#c59c5a" stroke-width="0.35" transform="rotate(116 2.3 30.0)"/><ellipse cx="32.3" cy="-0.0" rx="3.2" ry="1.9" fill="#f1daa8" stroke="#c59c5a" stroke-width="0.35" transform="rotate(116 32.3 -0.0)"/><ellipse cx="32.3" cy="30.0" rx="3.2" ry="1.9" fill="#f1daa8" stroke="#c59c5a" stroke-width="0.35" transform="rotate(116 32.3 30.0)"/><ellipse cx="22.6" cy="11.8" rx="3.5" ry="2.0" fill="#f8ecce" stroke="#c59c5a" stroke-width="0.35" transform="rotate(66 22.6 11.8)"/><ellipse cx="16.7" cy="-1.0" rx="3.5" ry="2.1" fill="#d9ae66" stroke="#c59c5a" stroke-width="0.35" transform="rotate(68 16.7 -1.0)"/><ellipse cx="16.7" cy="29.0" rx="3.5" ry="2.1" fill="#d9ae66" stroke="#c59c5a" stroke-width="0.35" transform="rotate(68 16.7 29.0)"/><ellipse cx="12.4" cy="22.4" rx="3.3" ry="1.9" fill="#b9823a" stroke="#c59c5a" stroke-width="0.35" transform="rotate(29 12.4 22.4)"/><ellipse cx="20.2" cy="15.5" rx="3.0" ry="1.7" fill="#f6e6c0" stroke="#c59c5a" stroke-width="0.35" transform="rotate(87 20.2 15.5)"/><ellipse cx="-3.4" cy="4.9" rx="3.5" ry="2.0" fill="#f1daa8" stroke="#c59c5a" stroke-width="0.35" transform="rotate(90 -3.4 4.9)"/><ellipse cx="26.6" cy="4.9" rx="3.5" ry="2.0" fill="#f1daa8" stroke="#c59c5a" stroke-width="0.35" transform="rotate(90 26.6 4.9)"/><ellipse cx="15.5" cy="13.3" rx="2.8" ry="1.6" fill="#f5e4ba" stroke="#c59c5a" stroke-width="0.35" transform="rotate(129 15.5 13.3)"/><ellipse cx="22.6" cy="4.4" rx="3.4" ry="2.0" fill="#d9ae66" stroke="#c59c5a" stroke-width="0.35" transform="rotate(93 22.6 4.4)"/><ellipse cx="22.6" cy="34.4" rx="3.4" ry="2.0" fill="#d9ae66" stroke="#c59c5a" stroke-width="0.35" transform="rotate(93 22.6 34.4)"/><ellipse cx="16.1" cy="23.4" rx="3.2" ry="1.8" fill="#f8ecce" stroke="#c59c5a" stroke-width="0.35" transform="rotate(121 16.1 23.4)"/><ellipse cx="17.5" cy="-0.5" rx="2.7" ry="1.5" fill="#ebcd90" stroke="#c59c5a" stroke-width="0.35" transform="rotate(160 17.5 -0.5)"/><ellipse cx="17.5" cy="29.5" rx="2.7" ry="1.5" fill="#ebcd90" stroke="#c59c5a" stroke-width="0.35" transform="rotate(160 17.5 29.5)"/><ellipse cx="14.4" cy="11.5" rx="2.9" ry="1.7" fill="#cf9e54" stroke="#c59c5a" stroke-width="0.35" transform="rotate(31 14.4 11.5)"/><ellipse cx="14.5" cy="-4.1" rx="3.3" ry="1.9" fill="#f1daa8" stroke="#c59c5a" stroke-width="0.35" transform="rotate(75 14.5 -4.1)"/><ellipse cx="14.5" cy="25.9" rx="3.3" ry="1.9" fill="#f1daa8" stroke="#c59c5a" stroke-width="0.35" transform="rotate(75 14.5 25.9)"/><ellipse cx="6.2" cy="17.4" rx="3.2" ry="1.8" fill="#f6e6c0" stroke="#c59c5a" stroke-width="0.35" transform="rotate(162 6.2 17.4)"/><ellipse cx="14.4" cy="21.6" rx="3.4" ry="2.0" fill="#f8ecce" stroke="#c59c5a" stroke-width="0.35" transform="rotate(154 14.4 21.6)"/><ellipse cx="-3.5" cy="1.4" rx="3.2" ry="1.9" fill="#d9ae66" stroke="#c59c5a" stroke-width="0.35" transform="rotate(164 -3.5 1.4)"/><ellipse cx="-3.5" cy="31.4" rx="3.2" ry="1.9" fill="#d9ae66" stroke="#c59c5a" stroke-width="0.35" transform="rotate(164 -3.5 31.4)"/><ellipse cx="26.5" cy="1.4" rx="3.2" ry="1.9" fill="#d9ae66" stroke="#c59c5a" stroke-width="0.35" transform="rotate(164 26.5 1.4)"/><ellipse cx="26.5" cy="31.4" rx="3.2" ry="1.9" fill="#d9ae66" stroke="#c59c5a" stroke-width="0.35" transform="rotate(164 26.5 31.4)"/><ellipse cx="23.3" cy="2.1" rx="2.9" ry="1.7" fill="#ebcd90" stroke="#c59c5a" stroke-width="0.35" transform="rotate(39 23.3 2.1)"/><ellipse cx="23.3" cy="32.1" rx="2.9" ry="1.7" fill="#ebcd90" stroke="#c59c5a" stroke-width="0.35" transform="rotate(39 23.3 32.1)"/><ellipse cx="5.7" cy="7.8" rx="3.4" ry="2.0" fill="#f6e6c0" stroke="#c59c5a" stroke-width="0.35" transform="rotate(34 5.7 7.8)"/><ellipse cx="-3.0" cy="7.7" rx="2.8" ry="1.6" fill="#cf9e54" stroke="#c59c5a" stroke-width="0.35" transform="rotate(156 -3.0 7.7)"/><ellipse cx="27.0" cy="7.7" rx="2.8" ry="1.6" fill="#cf9e54" stroke="#c59c5a" stroke-width="0.35" transform="rotate(156 27.0 7.7)"/><ellipse cx="2.7" cy="24.0" rx="3.4" ry="2.0" fill="#ebcd90" stroke="#c59c5a" stroke-width="0.35" transform="rotate(21 2.7 24.0)"/><ellipse cx="32.7" cy="24.0" rx="3.4" ry="2.0" fill="#ebcd90" stroke="#c59c5a" stroke-width="0.35" transform="rotate(21 32.7 24.0)"/><ellipse cx="8.8" cy="10.7" rx="2.9" ry="1.7" fill="#f6e6c0" stroke="#c59c5a" stroke-width="0.35" transform="rotate(104 8.8 10.7)"/><ellipse cx="0.9" cy="9.9" rx="2.8" ry="1.6" fill="#e4c384" stroke="#c59c5a" stroke-width="0.35" transform="rotate(68 0.9 9.9)"/><ellipse cx="30.9" cy="9.9" rx="2.8" ry="1.6" fill="#e4c384" stroke="#c59c5a" stroke-width="0.35" transform="rotate(68 30.9 9.9)"/><ellipse cx="17.6" cy="-1.3" rx="2.9" ry="1.7" fill="#f3deb0" stroke="#c59c5a" stroke-width="0.35" transform="rotate(70 17.6 -1.3)"/><ellipse cx="17.6" cy="28.7" rx="2.9" ry="1.7" fill="#f3deb0" stroke="#c59c5a" stroke-width="0.35" transform="rotate(70 17.6 28.7)"/><ellipse cx="-3.5" cy="2.3" rx="3.5" ry="2.0" fill="#f1daa8" stroke="#c59c5a" stroke-width="0.35" transform="rotate(78 -3.5 2.3)"/><ellipse cx="-3.5" cy="32.3" rx="3.5" ry="2.0" fill="#f1daa8" stroke="#c59c5a" stroke-width="0.35" transform="rotate(78 -3.5 32.3)"/><ellipse cx="26.5" cy="2.3" rx="3.5" ry="2.0" fill="#f1daa8" stroke="#c59c5a" stroke-width="0.35" transform="rotate(78 26.5 2.3)"/><ellipse cx="26.5" cy="32.3" rx="3.5" ry="2.0" fill="#f1daa8" stroke="#c59c5a" stroke-width="0.35" transform="rotate(78 26.5 32.3)"/><ellipse cx="-2.7" cy="2.9" rx="3.3" ry="1.9" fill="#cf9e54" stroke="#c59c5a" stroke-width="0.35" transform="rotate(169 -2.7 2.9)"/><ellipse cx="-2.7" cy="32.9" rx="3.3" ry="1.9" fill="#cf9e54" stroke="#c59c5a" stroke-width="0.35" transform="rotate(169 -2.7 32.9)"/><ellipse cx="27.3" cy="2.9" rx="3.3" ry="1.9" fill="#cf9e54" stroke="#c59c5a" stroke-width="0.35" transform="rotate(169 27.3 2.9)"/><ellipse cx="27.3" cy="32.9" rx="3.3" ry="1.9" fill="#cf9e54" stroke="#c59c5a" stroke-width="0.35" transform="rotate(169 27.3 32.9)"/><ellipse cx="11.1" cy="13.5" rx="3.2" ry="1.9" fill="#f6e6c0" stroke="#c59c5a" stroke-width="0.35" transform="rotate(119 11.1 13.5)"/><ellipse cx="24.2" cy="8.0" rx="3.3" ry="1.9" fill="#cf9e54" stroke="#c59c5a" stroke-width="0.35" transform="rotate(136 24.2 8.0)"/><ellipse cx="16.1" cy="3.4" rx="2.7" ry="1.6" fill="#cf9e54" stroke="#c59c5a" stroke-width="0.35" transform="rotate(89 16.1 3.4)"/><ellipse cx="16.1" cy="33.4" rx="2.7" ry="1.6" fill="#cf9e54" stroke="#c59c5a" stroke-width="0.35" transform="rotate(89 16.1 33.4)"/><ellipse cx="8.8" cy="21.8" rx="3.2" ry="1.9" fill="#f6e6c0" stroke="#c59c5a" stroke-width="0.35" transform="rotate(134 8.8 21.8)"/><ellipse cx="18.9" cy="5.4" rx="3.1" ry="1.8" fill="#f6e6c0" stroke="#c59c5a" stroke-width="0.35" transform="rotate(160 18.9 5.4)"/><ellipse cx="3.2" cy="16.8" rx="3.3" ry="1.9" fill="#f6e6c0" stroke="#c59c5a" stroke-width="0.35" transform="rotate(166 3.2 16.8)"/><ellipse cx="33.2" cy="16.8" rx="3.3" ry="1.9" fill="#f6e6c0" stroke="#c59c5a" stroke-width="0.35" transform="rotate(166 33.2 16.8)"/><ellipse cx="17.9" cy="16.6" rx="3.1" ry="1.8" fill="#f1daa8" stroke="#c59c5a" stroke-width="0.35" transform="rotate(117 17.9 16.6)"/><ellipse cx="23.5" cy="21.2" rx="3.3" ry="1.9" fill="#f5e4ba" stroke="#c59c5a" stroke-width="0.35" transform="rotate(19 23.5 21.2)"/><ellipse cx="16.3" cy="22.2" rx="2.9" ry="1.7" fill="#ebcd90" stroke="#c59c5a" stroke-width="0.35" transform="rotate(65 16.3 22.2)"/><ellipse cx="1.6" cy="4.1" rx="2.9" ry="1.7" fill="#ebcd90" stroke="#c59c5a" stroke-width="0.35" transform="rotate(86 1.6 4.1)"/><ellipse cx="1.6" cy="34.1" rx="2.9" ry="1.7" fill="#ebcd90" stroke="#c59c5a" stroke-width="0.35" transform="rotate(86 1.6 34.1)"/><ellipse cx="31.6" cy="4.1" rx="2.9" ry="1.7" fill="#ebcd90" stroke="#c59c5a" stroke-width="0.35" transform="rotate(86 31.6 4.1)"/><ellipse cx="31.6" cy="34.1" rx="2.9" ry="1.7" fill="#ebcd90" stroke="#c59c5a" stroke-width="0.35" transform="rotate(86 31.6 34.1)"/><ellipse cx="23.1" cy="10.6" rx="3.1" ry="1.8" fill="#f8ecce" stroke="#c59c5a" stroke-width="0.35" transform="rotate(60 23.1 10.6)"/><ellipse cx="24.3" cy="2.1" rx="2.8" ry="1.6" fill="#e4c384" stroke="#c59c5a" stroke-width="0.35" transform="rotate(90 24.3 2.1)"/><ellipse cx="24.3" cy="32.1" rx="2.8" ry="1.6" fill="#e4c384" stroke="#c59c5a" stroke-width="0.35" transform="rotate(90 24.3 32.1)"/><ellipse cx="17.7" cy="20.4" rx="2.8" ry="1.6" fill="#e4c384" stroke="#c59c5a" stroke-width="0.35" transform="rotate(102 17.7 20.4)"/><ellipse cx="5.7" cy="12.5" rx="3.2" ry="1.8" fill="#f5e4ba" stroke="#c59c5a" stroke-width="0.35" transform="rotate(134 5.7 12.5)"/><ellipse cx="4.4" cy="12.0" rx="2.8" ry="1.6" fill="#f3deb0" stroke="#c59c5a" stroke-width="0.35" transform="rotate(35 4.4 12.0)"/><ellipse cx="34.4" cy="12.0" rx="2.8" ry="1.6" fill="#f3deb0" stroke="#c59c5a" stroke-width="0.35" transform="rotate(35 34.4 12.0)"/><ellipse cx="5.4" cy="-3.9" rx="2.7" ry="1.5" fill="#ebcd90" stroke="#c59c5a" stroke-width="0.35" transform="rotate(67 5.4 -3.9)"/><ellipse cx="5.4" cy="26.1" rx="2.7" ry="1.5" fill="#ebcd90" stroke="#c59c5a" stroke-width="0.35" transform="rotate(67 5.4 26.1)"/><ellipse cx="24.1" cy="-3.3" rx="2.9" ry="1.7" fill="#f8ecce" stroke="#c59c5a" stroke-width="0.35" transform="rotate(171 24.1 -3.3)"/><ellipse cx="24.1" cy="26.7" rx="2.9" ry="1.7" fill="#f8ecce" stroke="#c59c5a" stroke-width="0.35" transform="rotate(171 24.1 26.7)"/><ellipse cx="-2.8" cy="9.3" rx="3.3" ry="1.9" fill="#f3deb0" stroke="#c59c5a" stroke-width="0.35" transform="rotate(90 -2.8 9.3)"/><ellipse cx="27.2" cy="9.3" rx="3.3" ry="1.9" fill="#f3deb0" stroke="#c59c5a" stroke-width="0.35" transform="rotate(90 27.2 9.3)"/><ellipse cx="9.0" cy="-4.2" rx="2.8" ry="1.6" fill="#b9823a" stroke="#c59c5a" stroke-width="0.35" transform="rotate(87 9.0 -4.2)"/><ellipse cx="9.0" cy="25.8" rx="2.8" ry="1.6" fill="#b9823a" stroke="#c59c5a" stroke-width="0.35" transform="rotate(87 9.0 25.8)"/><ellipse cx="19.0" cy="3.2" rx="3.1" ry="1.8" fill="#d9ae66" stroke="#c59c5a" stroke-width="0.35" transform="rotate(136 19.0 3.2)"/><ellipse cx="19.0" cy="33.2" rx="3.1" ry="1.8" fill="#d9ae66" stroke="#c59c5a" stroke-width="0.35" transform="rotate(136 19.0 33.2)"/><ellipse cx="15.7" cy="13.8" rx="2.8" ry="1.6" fill="#f3deb0" stroke="#c59c5a" stroke-width="0.35" transform="rotate(35 15.7 13.8)"/><ellipse cx="24.4" cy="-2.2" rx="3.2" ry="1.8" fill="#e4c384" stroke="#c59c5a" stroke-width="0.35" transform="rotate(170 24.4 -2.2)"/><ellipse cx="24.4" cy="27.8" rx="3.2" ry="1.8" fill="#e4c384" stroke="#c59c5a" stroke-width="0.35" transform="rotate(170 24.4 27.8)"/><ellipse cx="-1.2" cy="-3.2" rx="3.2" ry="1.9" fill="#e4c384" stroke="#c59c5a" stroke-width="0.35" transform="rotate(24 -1.2 -3.2)"/><ellipse cx="-1.2" cy="26.8" rx="3.2" ry="1.9" fill="#e4c384" stroke="#c59c5a" stroke-width="0.35" transform="rotate(24 -1.2 26.8)"/><ellipse cx="28.8" cy="-3.2" rx="3.2" ry="1.9" fill="#e4c384" stroke="#c59c5a" stroke-width="0.35" transform="rotate(24 28.8 -3.2)"/><ellipse cx="28.8" cy="26.8" rx="3.2" ry="1.9" fill="#e4c384" stroke="#c59c5a" stroke-width="0.35" transform="rotate(24 28.8 26.8)"/><ellipse cx="1.5" cy="10.8" rx="3.1" ry="1.8" fill="#e4c384" stroke="#c59c5a" stroke-width="0.35" transform="rotate(42 1.5 10.8)"/><ellipse cx="31.5" cy="10.8" rx="3.1" ry="1.8" fill="#e4c384" stroke="#c59c5a" stroke-width="0.35" transform="rotate(42 31.5 10.8)"/><ellipse cx="0.6" cy="10.2" rx="3.3" ry="1.9" fill="#cf9e54" stroke="#c59c5a" stroke-width="0.35" transform="rotate(59 0.6 10.2)"/><ellipse cx="30.6" cy="10.2" rx="3.3" ry="1.9" fill="#cf9e54" stroke="#c59c5a" stroke-width="0.35" transform="rotate(59 30.6 10.2)"/><ellipse cx="4.0" cy="-4.3" rx="3.3" ry="1.9" fill="#efd7a2" stroke="#c59c5a" stroke-width="0.35" transform="rotate(108 4.0 -4.3)"/><ellipse cx="4.0" cy="25.7" rx="3.3" ry="1.9" fill="#efd7a2" stroke="#c59c5a" stroke-width="0.35" transform="rotate(108 4.0 25.7)"/><ellipse cx="34.0" cy="-4.3" rx="3.3" ry="1.9" fill="#efd7a2" stroke="#c59c5a" stroke-width="0.35" transform="rotate(108 34.0 -4.3)"/><ellipse cx="34.0" cy="25.7" rx="3.3" ry="1.9" fill="#efd7a2" stroke="#c59c5a" stroke-width="0.35" transform="rotate(108 34.0 25.7)"/><ellipse cx="22.2" cy="10.3" rx="3.4" ry="2.0" fill="#e4c384" stroke="#c59c5a" stroke-width="0.35" transform="rotate(145 22.2 10.3)"/><ellipse cx="13.1" cy="22.7" rx="3.4" ry="2.0" fill="#e4c384" stroke="#c59c5a" stroke-width="0.35" transform="rotate(87 13.1 22.7)"/><ellipse cx="12.3" cy="-4.6" rx="3.1" ry="1.8" fill="#f8ecce" stroke="#c59c5a" stroke-width="0.35" transform="rotate(127 12.3 -4.6)"/><ellipse cx="12.3" cy="25.4" rx="3.1" ry="1.8" fill="#f8ecce" stroke="#c59c5a" stroke-width="0.35" transform="rotate(127 12.3 25.4)"/><ellipse cx="21.0" cy="16.1" rx="3.1" ry="1.8" fill="#f6e6c0" stroke="#c59c5a" stroke-width="0.35" transform="rotate(76 21.0 16.1)"/><ellipse cx="0.7" cy="13.7" rx="2.8" ry="1.6" fill="#f1daa8" stroke="#c59c5a" stroke-width="0.35" transform="rotate(124 0.7 13.7)"/><ellipse cx="30.7" cy="13.7" rx="2.8" ry="1.6" fill="#f1daa8" stroke="#c59c5a" stroke-width="0.35" transform="rotate(124 30.7 13.7)"/>
</pattern>
<pattern id="psmall" width="16" height="16" patternUnits="userSpaceOnUse">
<rect width="16" height="16" fill="#a97a30"/>
<ellipse cx="10.0" cy="11.9" rx="1.2" ry="0.7" fill="#8f6420" transform="rotate(143 10.0 11.9)"/><ellipse cx="7.4" cy="-0.9" rx="1.3" ry="0.7" fill="#f3e0a6" transform="rotate(117 7.4 -0.9)"/><ellipse cx="7.4" cy="15.1" rx="1.3" ry="0.7" fill="#f3e0a6" transform="rotate(117 7.4 15.1)"/><ellipse cx="7.5" cy="3.9" rx="1.2" ry="0.7" fill="#c4943e" transform="rotate(98 7.5 3.9)"/><ellipse cx="3.5" cy="4.5" rx="1.3" ry="0.8" fill="#b27e2e" transform="rotate(165 3.5 4.5)"/><ellipse cx="12.8" cy="2.2" rx="1.3" ry="0.7" fill="#f3e0a6" transform="rotate(111 12.8 2.2)"/><ellipse cx="-0.4" cy="0.1" rx="1.6" ry="0.9" fill="#f3e0a6" transform="rotate(139 -0.4 0.1)"/><ellipse cx="-0.4" cy="16.1" rx="1.6" ry="0.9" fill="#f3e0a6" transform="rotate(139 -0.4 16.1)"/><ellipse cx="15.6" cy="0.1" rx="1.6" ry="0.9" fill="#f3e0a6" transform="rotate(139 15.6 0.1)"/><ellipse cx="15.6" cy="16.1" rx="1.6" ry="0.9" fill="#f3e0a6" transform="rotate(139 15.6 16.1)"/><ellipse cx="4.6" cy="-0.6" rx="1.3" ry="0.8" fill="#c4943e" transform="rotate(97 4.6 -0.6)"/><ellipse cx="4.6" cy="15.4" rx="1.3" ry="0.8" fill="#c4943e" transform="rotate(97 4.6 15.4)"/><ellipse cx="-0.5" cy="3.2" rx="1.4" ry="0.8" fill="#b27e2e" transform="rotate(174 -0.5 3.2)"/><ellipse cx="15.5" cy="3.2" rx="1.4" ry="0.8" fill="#b27e2e" transform="rotate(174 15.5 3.2)"/><ellipse cx="5.8" cy="2.7" rx="1.4" ry="0.8" fill="#d7ad52" transform="rotate(26 5.8 2.7)"/><ellipse cx="13.1" cy="9.4" rx="1.3" ry="0.7" fill="#fcf4da" transform="rotate(107 13.1 9.4)"/><ellipse cx="5.7" cy="4.9" rx="1.4" ry="0.8" fill="#f3e0a6" transform="rotate(125 5.7 4.9)"/><ellipse cx="11.3" cy="0.9" rx="1.6" ry="1.0" fill="#e6c572" transform="rotate(176 11.3 0.9)"/><ellipse cx="11.3" cy="16.9" rx="1.6" ry="1.0" fill="#e6c572" transform="rotate(176 11.3 16.9)"/><ellipse cx="5.7" cy="6.5" rx="1.4" ry="0.8" fill="#b27e2e" transform="rotate(99 5.7 6.5)"/><ellipse cx="9.3" cy="0.1" rx="1.5" ry="0.9" fill="#f3e0a6" transform="rotate(8 9.3 0.1)"/><ellipse cx="9.3" cy="16.1" rx="1.5" ry="0.9" fill="#f3e0a6" transform="rotate(8 9.3 16.1)"/><ellipse cx="-0.7" cy="1.9" rx="1.4" ry="0.8" fill="#e9cc80" transform="rotate(44 -0.7 1.9)"/><ellipse cx="-0.7" cy="17.9" rx="1.4" ry="0.8" fill="#e9cc80" transform="rotate(44 -0.7 17.9)"/><ellipse cx="15.3" cy="1.9" rx="1.4" ry="0.8" fill="#e9cc80" transform="rotate(44 15.3 1.9)"/><ellipse cx="15.3" cy="17.9" rx="1.4" ry="0.8" fill="#e9cc80" transform="rotate(44 15.3 17.9)"/><ellipse cx="5.7" cy="8.4" rx="1.5" ry="0.9" fill="#d7ad52" transform="rotate(140 5.7 8.4)"/><ellipse cx="12.5" cy="5.9" rx="1.6" ry="1.0" fill="#b27e2e" transform="rotate(53 12.5 5.9)"/><ellipse cx="1.5" cy="5.5" rx="1.4" ry="0.8" fill="#f3e0a6" transform="rotate(110 1.5 5.5)"/><ellipse cx="17.5" cy="5.5" rx="1.4" ry="0.8" fill="#f3e0a6" transform="rotate(110 17.5 5.5)"/><ellipse cx="-1.2" cy="8.7" rx="1.4" ry="0.8" fill="#fcf4da" transform="rotate(56 -1.2 8.7)"/><ellipse cx="14.8" cy="8.7" rx="1.4" ry="0.8" fill="#fcf4da" transform="rotate(56 14.8 8.7)"/><ellipse cx="12.8" cy="10.0" rx="1.7" ry="1.0" fill="#edd28a" transform="rotate(130 12.8 10.0)"/><ellipse cx="2.6" cy="0.8" rx="1.6" ry="0.9" fill="#8f6420" transform="rotate(178 2.6 0.8)"/><ellipse cx="2.6" cy="16.8" rx="1.6" ry="0.9" fill="#8f6420" transform="rotate(178 2.6 16.8)"/><ellipse cx="0.5" cy="11.8" rx="1.4" ry="0.8" fill="#edd28a" transform="rotate(62 0.5 11.8)"/><ellipse cx="16.5" cy="11.8" rx="1.4" ry="0.8" fill="#edd28a" transform="rotate(62 16.5 11.8)"/><ellipse cx="6.7" cy="0.9" rx="1.6" ry="0.9" fill="#e6c572" transform="rotate(165 6.7 0.9)"/><ellipse cx="6.7" cy="16.9" rx="1.6" ry="0.9" fill="#e6c572" transform="rotate(165 6.7 16.9)"/><ellipse cx="5.3" cy="3.3" rx="1.5" ry="0.9" fill="#f3e0a6" transform="rotate(177 5.3 3.3)"/><ellipse cx="12.6" cy="1.7" rx="1.3" ry="0.7" fill="#f3e0a6" transform="rotate(78 12.6 1.7)"/><ellipse cx="12.6" cy="17.7" rx="1.3" ry="0.7" fill="#f3e0a6" transform="rotate(78 12.6 17.7)"/><ellipse cx="6.7" cy="2.3" rx="1.7" ry="1.0" fill="#f3e0a6" transform="rotate(166 6.7 2.3)"/><ellipse cx="7.3" cy="7.8" rx="1.4" ry="0.8" fill="#e9cc80" transform="rotate(131 7.3 7.8)"/><ellipse cx="7.5" cy="-1.6" rx="1.7" ry="1.0" fill="#8f6420" transform="rotate(20 7.5 -1.6)"/><ellipse cx="7.5" cy="14.4" rx="1.7" ry="1.0" fill="#8f6420" transform="rotate(20 7.5 14.4)"/><ellipse cx="10.0" cy="8.0" rx="1.4" ry="0.8" fill="#d7ad52" transform="rotate(61 10.0 8.0)"/><ellipse cx="8.2" cy="8.8" rx="1.6" ry="0.9" fill="#d7ad52" transform="rotate(91 8.2 8.8)"/><ellipse cx="12.4" cy="11.1" rx="1.4" ry="0.8" fill="#edd28a" transform="rotate(120 12.4 11.1)"/><ellipse cx="11.3" cy="4.5" rx="1.6" ry="1.0" fill="#edd28a" transform="rotate(87 11.3 4.5)"/><ellipse cx="5.4" cy="2.9" rx="1.5" ry="0.9" fill="#e9cc80" transform="rotate(153 5.4 2.9)"/><ellipse cx="4.0" cy="10.7" rx="1.5" ry="0.9" fill="#8f6420" transform="rotate(83 4.0 10.7)"/><ellipse cx="12.8" cy="5.6" rx="1.4" ry="0.8" fill="#b27e2e" transform="rotate(116 12.8 5.6)"/><ellipse cx="13.5" cy="-2.1" rx="1.6" ry="1.0" fill="#fcf4da" transform="rotate(124 13.5 -2.1)"/><ellipse cx="13.5" cy="13.9" rx="1.6" ry="1.0" fill="#fcf4da" transform="rotate(124 13.5 13.9)"/><ellipse cx="8.3" cy="8.5" rx="1.6" ry="1.0" fill="#fcf4da" transform="rotate(30 8.3 8.5)"/><ellipse cx="7.6" cy="11.1" rx="1.3" ry="0.8" fill="#b27e2e" transform="rotate(130 7.6 11.1)"/><ellipse cx="12.5" cy="9.3" rx="1.4" ry="0.8" fill="#b27e2e" transform="rotate(120 12.5 9.3)"/><ellipse cx="8.9" cy="-2.1" rx="1.3" ry="0.8" fill="#e6c572" transform="rotate(49 8.9 -2.1)"/><ellipse cx="8.9" cy="13.9" rx="1.3" ry="0.8" fill="#e6c572" transform="rotate(49 8.9 13.9)"/><ellipse cx="9.4" cy="10.0" rx="1.5" ry="0.9" fill="#f3e0a6" transform="rotate(33 9.4 10.0)"/><ellipse cx="0.7" cy="7.5" rx="1.6" ry="0.9" fill="#e6c572" transform="rotate(41 0.7 7.5)"/><ellipse cx="16.7" cy="7.5" rx="1.6" ry="0.9" fill="#e6c572" transform="rotate(41 16.7 7.5)"/><ellipse cx="1.8" cy="-0.5" rx="1.2" ry="0.7" fill="#8f6420" transform="rotate(87 1.8 -0.5)"/><ellipse cx="1.8" cy="15.5" rx="1.2" ry="0.7" fill="#8f6420" transform="rotate(87 1.8 15.5)"/><ellipse cx="17.8" cy="-0.5" rx="1.2" ry="0.7" fill="#8f6420" transform="rotate(87 17.8 -0.5)"/><ellipse cx="17.8" cy="15.5" rx="1.2" ry="0.7" fill="#8f6420" transform="rotate(87 17.8 15.5)"/><ellipse cx="7.4" cy="6.1" rx="1.3" ry="0.8" fill="#c4943e" transform="rotate(110 7.4 6.1)"/><ellipse cx="-1.5" cy="0.0" rx="1.6" ry="0.9" fill="#edd28a" transform="rotate(73 -1.5 0.0)"/><ellipse cx="-1.5" cy="16.0" rx="1.6" ry="0.9" fill="#edd28a" transform="rotate(73 -1.5 16.0)"/><ellipse cx="14.5" cy="0.0" rx="1.6" ry="0.9" fill="#edd28a" transform="rotate(73 14.5 0.0)"/><ellipse cx="14.5" cy="16.0" rx="1.6" ry="0.9" fill="#edd28a" transform="rotate(73 14.5 16.0)"/><ellipse cx="-2.1" cy="11.0" rx="1.5" ry="0.9" fill="#e6c572" transform="rotate(99 -2.1 11.0)"/><ellipse cx="13.9" cy="11.0" rx="1.5" ry="0.9" fill="#e6c572" transform="rotate(99 13.9 11.0)"/><ellipse cx="4.8" cy="4.7" rx="1.6" ry="1.0" fill="#edd28a" transform="rotate(92 4.8 4.7)"/><ellipse cx="13.1" cy="6.7" rx="1.4" ry="0.8" fill="#8f6420" transform="rotate(146 13.1 6.7)"/><ellipse cx="2.3" cy="9.5" rx="1.7" ry="1.0" fill="#c4943e" transform="rotate(101 2.3 9.5)"/><ellipse cx="9.7" cy="5.6" rx="1.4" ry="0.8" fill="#e6c572" transform="rotate(161 9.7 5.6)"/><ellipse cx="5.2" cy="-1.3" rx="1.5" ry="0.9" fill="#fcf4da" transform="rotate(97 5.2 -1.3)"/><ellipse cx="5.2" cy="14.7" rx="1.5" ry="0.9" fill="#fcf4da" transform="rotate(97 5.2 14.7)"/><ellipse cx="-1.7" cy="6.0" rx="1.4" ry="0.8" fill="#c4943e" transform="rotate(78 -1.7 6.0)"/><ellipse cx="14.3" cy="6.0" rx="1.4" ry="0.8" fill="#c4943e" transform="rotate(78 14.3 6.0)"/><ellipse cx="7.7" cy="11.3" rx="1.5" ry="0.9" fill="#f3e0a6" transform="rotate(69 7.7 11.3)"/><ellipse cx="4.2" cy="-0.3" rx="1.2" ry="0.7" fill="#b27e2e" transform="rotate(89 4.2 -0.3)"/><ellipse cx="4.2" cy="15.7" rx="1.2" ry="0.7" fill="#b27e2e" transform="rotate(89 4.2 15.7)"/><ellipse cx="-0.9" cy="4.9" rx="1.4" ry="0.8" fill="#f3e0a6" transform="rotate(167 -0.9 4.9)"/><ellipse cx="15.1" cy="4.9" rx="1.4" ry="0.8" fill="#f3e0a6" transform="rotate(167 15.1 4.9)"/><ellipse cx="2.0" cy="9.9" rx="1.2" ry="0.7" fill="#edd28a" transform="rotate(80 2.0 9.9)"/><ellipse cx="18.0" cy="9.9" rx="1.2" ry="0.7" fill="#edd28a" transform="rotate(80 18.0 9.9)"/><ellipse cx="2.2" cy="6.3" rx="1.4" ry="0.8" fill="#8f6420" transform="rotate(86 2.2 6.3)"/><ellipse cx="-1.0" cy="12.5" rx="1.6" ry="0.9" fill="#edd28a" transform="rotate(44 -1.0 12.5)"/><ellipse cx="15.0" cy="12.5" rx="1.6" ry="0.9" fill="#edd28a" transform="rotate(44 15.0 12.5)"/><ellipse cx="11.5" cy="4.6" rx="1.5" ry="0.8" fill="#e9cc80" transform="rotate(89 11.5 4.6)"/><ellipse cx="13.8" cy="-1.9" rx="1.6" ry="0.9" fill="#e6c572" transform="rotate(161 13.8 -1.9)"/><ellipse cx="13.8" cy="14.1" rx="1.6" ry="0.9" fill="#e6c572" transform="rotate(161 13.8 14.1)"/><ellipse cx="4.8" cy="8.5" rx="1.6" ry="0.9" fill="#edd28a" transform="rotate(61 4.8 8.5)"/><ellipse cx="0.4" cy="5.6" rx="1.2" ry="0.7" fill="#f3e0a6" transform="rotate(123 0.4 5.6)"/><ellipse cx="16.4" cy="5.6" rx="1.2" ry="0.7" fill="#f3e0a6" transform="rotate(123 16.4 5.6)"/><ellipse cx="4.0" cy="7.3" rx="1.3" ry="0.8" fill="#8f6420" transform="rotate(165 4.0 7.3)"/><ellipse cx="6.9" cy="12.9" rx="1.6" ry="0.9" fill="#e9cc80" transform="rotate(107 6.9 12.9)"/><ellipse cx="13.5" cy="7.6" rx="1.6" ry="0.9" fill="#c4943e" transform="rotate(123 13.5 7.6)"/><ellipse cx="7.4" cy="12.1" rx="1.5" ry="0.9" fill="#e6c572" transform="rotate(55 7.4 12.1)"/><ellipse cx="6.9" cy="4.6" rx="1.3" ry="0.8" fill="#edd28a" transform="rotate(141 6.9 4.6)"/><ellipse cx="7.7" cy="8.8" rx="1.5" ry="0.9" fill="#fcf4da" transform="rotate(90 7.7 8.8)"/><ellipse cx="6.8" cy="8.7" rx="1.3" ry="0.8" fill="#c4943e" transform="rotate(9 6.8 8.7)"/><ellipse cx="1.4" cy="1.0" rx="1.5" ry="0.9" fill="#fcf4da" transform="rotate(170 1.4 1.0)"/><ellipse cx="1.4" cy="17.0" rx="1.5" ry="0.9" fill="#fcf4da" transform="rotate(170 1.4 17.0)"/><ellipse cx="17.4" cy="1.0" rx="1.5" ry="0.9" fill="#fcf4da" transform="rotate(170 17.4 1.0)"/><ellipse cx="17.4" cy="17.0" rx="1.5" ry="0.9" fill="#fcf4da" transform="rotate(170 17.4 17.0)"/><ellipse cx="-0.3" cy="-0.0" rx="1.3" ry="0.7" fill="#e6c572" transform="rotate(126 -0.3 -0.0)"/><ellipse cx="-0.3" cy="16.0" rx="1.3" ry="0.7" fill="#e6c572" transform="rotate(126 -0.3 16.0)"/><ellipse cx="15.7" cy="-0.0" rx="1.3" ry="0.7" fill="#e6c572" transform="rotate(126 15.7 -0.0)"/><ellipse cx="15.7" cy="16.0" rx="1.3" ry="0.7" fill="#e6c572" transform="rotate(126 15.7 16.0)"/><ellipse cx="2.0" cy="9.8" rx="1.5" ry="0.9" fill="#d7ad52" transform="rotate(148 2.0 9.8)"/><ellipse cx="18.0" cy="9.8" rx="1.5" ry="0.9" fill="#d7ad52" transform="rotate(148 18.0 9.8)"/><ellipse cx="2.2" cy="4.7" rx="1.3" ry="0.8" fill="#f3e0a6" transform="rotate(165 2.2 4.7)"/><ellipse cx="18.2" cy="4.7" rx="1.3" ry="0.8" fill="#f3e0a6" transform="rotate(165 18.2 4.7)"/><ellipse cx="3.0" cy="12.8" rx="1.3" ry="0.7" fill="#c4943e" transform="rotate(12 3.0 12.8)"/><ellipse cx="1.7" cy="6.1" rx="1.5" ry="0.9" fill="#e6c572" transform="rotate(13 1.7 6.1)"/><ellipse cx="17.7" cy="6.1" rx="1.5" ry="0.9" fill="#e6c572" transform="rotate(13 17.7 6.1)"/><ellipse cx="1.9" cy="6.4" rx="1.4" ry="0.8" fill="#e6c572" transform="rotate(112 1.9 6.4)"/><ellipse cx="17.9" cy="6.4" rx="1.4" ry="0.8" fill="#e6c572" transform="rotate(112 17.9 6.4)"/><ellipse cx="5.0" cy="9.6" rx="1.6" ry="0.9" fill="#fcf4da" transform="rotate(88 5.0 9.6)"/><ellipse cx="2.2" cy="4.7" rx="1.4" ry="0.8" fill="#8f6420" transform="rotate(102 2.2 4.7)"/><ellipse cx="-0.9" cy="8.8" rx="1.5" ry="0.9" fill="#d7ad52" transform="rotate(40 -0.9 8.8)"/><ellipse cx="15.1" cy="8.8" rx="1.5" ry="0.9" fill="#d7ad52" transform="rotate(40 15.1 8.8)"/><ellipse cx="4.1" cy="12.0" rx="1.6" ry="0.9" fill="#f3e0a6" transform="rotate(93 4.1 12.0)"/><ellipse cx="13.8" cy="7.3" rx="1.5" ry="0.9" fill="#f3e0a6" transform="rotate(70 13.8 7.3)"/><ellipse cx="10.5" cy="1.4" rx="1.6" ry="0.9" fill="#d7ad52" transform="rotate(120 10.5 1.4)"/><ellipse cx="10.5" cy="17.4" rx="1.6" ry="0.9" fill="#d7ad52" transform="rotate(120 10.5 17.4)"/><ellipse cx="8.1" cy="7.3" rx="1.4" ry="0.8" fill="#e9cc80" transform="rotate(70 8.1 7.3)"/><ellipse cx="5.2" cy="12.7" rx="1.3" ry="0.7" fill="#b27e2e" transform="rotate(5 5.2 12.7)"/><ellipse cx="2.4" cy="-0.8" rx="1.6" ry="0.9" fill="#c4943e" transform="rotate(123 2.4 -0.8)"/><ellipse cx="2.4" cy="15.2" rx="1.6" ry="0.9" fill="#c4943e" transform="rotate(123 2.4 15.2)"/>
</pattern>
<pattern id="pfine" width="8" height="8" patternUnits="userSpaceOnUse">
<rect width="8" height="8" fill="#d9c79e"/>
<ellipse cx="3.7" cy="3.0" rx="0.8" ry="0.4" fill="#eadcb8" transform="rotate(25 3.7 3.0)"/><ellipse cx="3.7" cy="4.8" rx="0.9" ry="0.5" fill="#eadcb8" transform="rotate(60 3.7 4.8)"/><ellipse cx="1.4" cy="-0.4" rx="0.7" ry="0.4" fill="#d3bc8c" transform="rotate(171 1.4 -0.4)"/><ellipse cx="1.4" cy="7.6" rx="0.7" ry="0.4" fill="#d3bc8c" transform="rotate(171 1.4 7.6)"/><ellipse cx="1.9" cy="0.9" rx="0.9" ry="0.5" fill="#eadcb8" transform="rotate(91 1.9 0.9)"/><ellipse cx="1.9" cy="8.9" rx="0.9" ry="0.5" fill="#eadcb8" transform="rotate(91 1.9 8.9)"/><ellipse cx="3.1" cy="6.0" rx="0.7" ry="0.4" fill="#f3e8cc" transform="rotate(18 3.1 6.0)"/><ellipse cx="1.8" cy="6.3" rx="0.9" ry="0.5" fill="#f3e8cc" transform="rotate(160 1.8 6.3)"/><ellipse cx="3.2" cy="2.7" rx="0.9" ry="0.5" fill="#eadcb8" transform="rotate(8 3.2 2.7)"/><ellipse cx="0.4" cy="3.0" rx="0.7" ry="0.4" fill="#eadcb8" transform="rotate(89 0.4 3.0)"/><ellipse cx="8.4" cy="3.0" rx="0.7" ry="0.4" fill="#eadcb8" transform="rotate(89 8.4 3.0)"/><ellipse cx="5.9" cy="-1.2" rx="0.7" ry="0.4" fill="#eadcb8" transform="rotate(174 5.9 -1.2)"/><ellipse cx="5.9" cy="6.8" rx="0.7" ry="0.4" fill="#eadcb8" transform="rotate(174 5.9 6.8)"/><ellipse cx="4.6" cy="-0.8" rx="0.9" ry="0.5" fill="#eadcb8" transform="rotate(37 4.6 -0.8)"/><ellipse cx="4.6" cy="7.2" rx="0.9" ry="0.5" fill="#eadcb8" transform="rotate(37 4.6 7.2)"/><ellipse cx="1.1" cy="-0.7" rx="0.8" ry="0.5" fill="#d3bc8c" transform="rotate(90 1.1 -0.7)"/><ellipse cx="1.1" cy="7.3" rx="0.8" ry="0.5" fill="#d3bc8c" transform="rotate(90 1.1 7.3)"/><ellipse cx="9.1" cy="-0.7" rx="0.8" ry="0.5" fill="#d3bc8c" transform="rotate(90 9.1 -0.7)"/><ellipse cx="9.1" cy="7.3" rx="0.8" ry="0.5" fill="#d3bc8c" transform="rotate(90 9.1 7.3)"/><ellipse cx="1.6" cy="0.6" rx="0.8" ry="0.5" fill="#eadcb8" transform="rotate(35 1.6 0.6)"/><ellipse cx="1.6" cy="8.6" rx="0.8" ry="0.5" fill="#eadcb8" transform="rotate(35 1.6 8.6)"/><ellipse cx="1.2" cy="-0.5" rx="0.7" ry="0.4" fill="#eadcb8" transform="rotate(130 1.2 -0.5)"/><ellipse cx="1.2" cy="7.5" rx="0.7" ry="0.4" fill="#eadcb8" transform="rotate(130 1.2 7.5)"/><ellipse cx="9.2" cy="-0.5" rx="0.7" ry="0.4" fill="#eadcb8" transform="rotate(130 9.2 -0.5)"/><ellipse cx="9.2" cy="7.5" rx="0.7" ry="0.4" fill="#eadcb8" transform="rotate(130 9.2 7.5)"/><ellipse cx="4.4" cy="4.9" rx="0.9" ry="0.5" fill="#f3e8cc" transform="rotate(27 4.4 4.9)"/><ellipse cx="4.6" cy="0.3" rx="0.9" ry="0.5" fill="#d3bc8c" transform="rotate(156 4.6 0.3)"/><ellipse cx="4.6" cy="8.3" rx="0.9" ry="0.5" fill="#d3bc8c" transform="rotate(156 4.6 8.3)"/><ellipse cx="1.9" cy="4.9" rx="0.9" ry="0.5" fill="#f3e8cc" transform="rotate(8 1.9 4.9)"/><ellipse cx="4.2" cy="4.5" rx="0.7" ry="0.4" fill="#f3e8cc" transform="rotate(124 4.2 4.5)"/><ellipse cx="-0.9" cy="2.9" rx="0.9" ry="0.5" fill="#dfcca2" transform="rotate(38 -0.9 2.9)"/><ellipse cx="7.1" cy="2.9" rx="0.9" ry="0.5" fill="#dfcca2" transform="rotate(38 7.1 2.9)"/><ellipse cx="4.6" cy="0.1" rx="0.7" ry="0.4" fill="#f3e8cc" transform="rotate(144 4.6 0.1)"/><ellipse cx="4.6" cy="8.1" rx="0.7" ry="0.4" fill="#f3e8cc" transform="rotate(144 4.6 8.1)"/><ellipse cx="0.9" cy="1.8" rx="0.8" ry="0.4" fill="#eadcb8" transform="rotate(49 0.9 1.8)"/><ellipse cx="8.9" cy="1.8" rx="0.8" ry="0.4" fill="#eadcb8" transform="rotate(49 8.9 1.8)"/><ellipse cx="2.3" cy="4.1" rx="0.9" ry="0.5" fill="#d3bc8c" transform="rotate(10 2.3 4.1)"/><ellipse cx="6.5" cy="4.0" rx="0.8" ry="0.5" fill="#dfcca2" transform="rotate(128 6.5 4.0)"/><ellipse cx="0.5" cy="5.2" rx="0.8" ry="0.5" fill="#d3bc8c" transform="rotate(17 0.5 5.2)"/><ellipse cx="8.5" cy="5.2" rx="0.8" ry="0.5" fill="#d3bc8c" transform="rotate(17 8.5 5.2)"/><ellipse cx="-0.4" cy="4.5" rx="0.7" ry="0.4" fill="#f3e8cc" transform="rotate(25 -0.4 4.5)"/><ellipse cx="7.6" cy="4.5" rx="0.7" ry="0.4" fill="#f3e8cc" transform="rotate(25 7.6 4.5)"/><ellipse cx="6.7" cy="2.1" rx="0.7" ry="0.4" fill="#dfcca2" transform="rotate(9 6.7 2.1)"/><ellipse cx="1.3" cy="1.0" rx="0.7" ry="0.4" fill="#eadcb8" transform="rotate(27 1.3 1.0)"/><ellipse cx="1.3" cy="9.0" rx="0.7" ry="0.4" fill="#eadcb8" transform="rotate(27 1.3 9.0)"/><ellipse cx="1.7" cy="3.1" rx="0.7" ry="0.4" fill="#f3e8cc" transform="rotate(110 1.7 3.1)"/><ellipse cx="3.8" cy="2.2" rx="0.8" ry="0.5" fill="#f3e8cc" transform="rotate(173 3.8 2.2)"/><ellipse cx="0.5" cy="3.6" rx="0.8" ry="0.5" fill="#d3bc8c" transform="rotate(127 0.5 3.6)"/><ellipse cx="8.5" cy="3.6" rx="0.8" ry="0.5" fill="#d3bc8c" transform="rotate(127 8.5 3.6)"/><ellipse cx="6.4" cy="5.3" rx="0.8" ry="0.4" fill="#d3bc8c" transform="rotate(49 6.4 5.3)"/><ellipse cx="-0.6" cy="2.2" rx="0.7" ry="0.4" fill="#eadcb8" transform="rotate(23 -0.6 2.2)"/><ellipse cx="7.4" cy="2.2" rx="0.7" ry="0.4" fill="#eadcb8" transform="rotate(23 7.4 2.2)"/><ellipse cx="6.3" cy="-1.1" rx="0.8" ry="0.5" fill="#d3bc8c" transform="rotate(37 6.3 -1.1)"/><ellipse cx="6.3" cy="6.9" rx="0.8" ry="0.5" fill="#d3bc8c" transform="rotate(37 6.3 6.9)"/><ellipse cx="4.5" cy="3.1" rx="0.8" ry="0.5" fill="#d3bc8c" transform="rotate(31 4.5 3.1)"/><ellipse cx="2.1" cy="0.5" rx="0.8" ry="0.5" fill="#d3bc8c" transform="rotate(117 2.1 0.5)"/><ellipse cx="2.1" cy="8.5" rx="0.8" ry="0.5" fill="#d3bc8c" transform="rotate(117 2.1 8.5)"/><ellipse cx="4.2" cy="4.3" rx="0.9" ry="0.5" fill="#eadcb8" transform="rotate(164 4.2 4.3)"/><ellipse cx="4.6" cy="-0.4" rx="0.9" ry="0.5" fill="#dfcca2" transform="rotate(12 4.6 -0.4)"/><ellipse cx="4.6" cy="7.6" rx="0.9" ry="0.5" fill="#dfcca2" transform="rotate(12 4.6 7.6)"/><ellipse cx="0.8" cy="5.6" rx="0.9" ry="0.5" fill="#d3bc8c" transform="rotate(82 0.8 5.6)"/><ellipse cx="8.8" cy="5.6" rx="0.9" ry="0.5" fill="#d3bc8c" transform="rotate(82 8.8 5.6)"/><ellipse cx="5.8" cy="5.4" rx="0.9" ry="0.5" fill="#dfcca2" transform="rotate(5 5.8 5.4)"/><ellipse cx="1.8" cy="6.6" rx="0.9" ry="0.5" fill="#d3bc8c" transform="rotate(131 1.8 6.6)"/><ellipse cx="0.3" cy="4.8" rx="0.8" ry="0.5" fill="#d3bc8c" transform="rotate(110 0.3 4.8)"/><ellipse cx="8.3" cy="4.8" rx="0.8" ry="0.5" fill="#d3bc8c" transform="rotate(110 8.3 4.8)"/>
</pattern>
<g id="spile">
<path d="M25 521 Q27 516 36 511 Q46 505 56 501 Q66 497 75 497 Q86 497 97 502 Q110 507 121 514 Q128 517 128 520 Q127 525 116 530 Q100 536 82 538 Q62 539 46 535 Q28 529 25 521Z" fill="url(#psmall)"/>
<ellipse cx="23.9" cy="525.9" rx="1.7" ry="1" fill="#d7ad52" transform="rotate(84 23.9 525.9)"/><ellipse cx="97.6" cy="538.6" rx="1.7" ry="1" fill="#e6c572" transform="rotate(143 97.6 538.6)"/><ellipse cx="27.7" cy="525.8" rx="1.7" ry="1" fill="#e6c572" transform="rotate(160 27.7 525.8)"/><ellipse cx="32.1" cy="507.6" rx="1.7" ry="1" fill="#d7ad52" transform="rotate(133 32.1 507.6)"/><ellipse cx="35.5" cy="506.8" rx="1.7" ry="1" fill="#d7ad52" transform="rotate(6 35.5 506.8)"/><ellipse cx="30.4" cy="507.7" rx="1.7" ry="1" fill="#d7ad52" transform="rotate(106 30.4 507.7)"/><ellipse cx="21.3" cy="516.5" rx="1.7" ry="1" fill="#c4943e" transform="rotate(119 21.3 516.5)"/><ellipse cx="46.0" cy="501.8" rx="1.7" ry="1" fill="#e6c572" transform="rotate(168 46.0 501.8)"/><ellipse cx="62.2" cy="501.0" rx="1.7" ry="1" fill="#e6c572" transform="rotate(52 62.2 501.0)"/><ellipse cx="29.1" cy="512.1" rx="1.7" ry="1" fill="#e6c572" transform="rotate(52 29.1 512.1)"/><ellipse cx="130.8" cy="514.6" rx="1.7" ry="1" fill="#e6c572" transform="rotate(38 130.8 514.6)"/><ellipse cx="19.2" cy="522.7" rx="1.7" ry="1" fill="#d7ad52" transform="rotate(13 19.2 522.7)"/><ellipse cx="85.3" cy="501.7" rx="1.7" ry="1" fill="#c4943e" transform="rotate(60 85.3 501.7)"/><ellipse cx="78.6" cy="500.3" rx="1.7" ry="1" fill="#e6c572" transform="rotate(18 78.6 500.3)"/><ellipse cx="23.4" cy="523.8" rx="1.7" ry="1" fill="#d7ad52" transform="rotate(34 23.4 523.8)"/><ellipse cx="131.9" cy="517.2" rx="1.7" ry="1" fill="#c4943e" transform="rotate(69 131.9 517.2)"/><ellipse cx="30.6" cy="528.0" rx="1.7" ry="1" fill="#f0dc9e" transform="rotate(175 30.6 528.0)"/><ellipse cx="126.2" cy="518.8" rx="1.7" ry="1" fill="#e6c572" transform="rotate(179 126.2 518.8)"/><ellipse cx="125.4" cy="524.3" rx="1.7" ry="1" fill="#f0dc9e" transform="rotate(2 125.4 524.3)"/><ellipse cx="101.7" cy="503.7" rx="1.7" ry="1" fill="#d7ad52" transform="rotate(38 101.7 503.7)"/><ellipse cx="128.7" cy="521.1" rx="1.7" ry="1" fill="#c4943e" transform="rotate(23 128.7 521.1)"/><ellipse cx="101.3" cy="501.9" rx="1.7" ry="1" fill="#f0dc9e" transform="rotate(113 101.3 501.9)"/><ellipse cx="123.4" cy="508.8" rx="1.7" ry="1" fill="#d7ad52" transform="rotate(34 123.4 508.8)"/><ellipse cx="55.5" cy="500.2" rx="1.7" ry="1" fill="#e6c572" transform="rotate(14 55.5 500.2)"/><ellipse cx="116.0" cy="533.4" rx="1.7" ry="1" fill="#c4943e" transform="rotate(43 116.0 533.4)"/><ellipse cx="73.5" cy="540.2" rx="1.7" ry="1" fill="#d7ad52" transform="rotate(53 73.5 540.2)"/><ellipse cx="128.2" cy="511.3" rx="1.7" ry="1" fill="#e6c572" transform="rotate(86 128.2 511.3)"/><ellipse cx="65.2" cy="537.1" rx="1.7" ry="1" fill="#f0dc9e" transform="rotate(3 65.2 537.1)"/><ellipse cx="31.9" cy="528.2" rx="1.7" ry="1" fill="#d7ad52" transform="rotate(51 31.9 528.2)"/><ellipse cx="118.8" cy="530.0" rx="1.7" ry="1" fill="#d7ad52" transform="rotate(60 118.8 530.0)"/><ellipse cx="27.5" cy="508.1" rx="1.7" ry="1" fill="#f0dc9e" transform="rotate(64 27.5 508.1)"/><ellipse cx="124.8" cy="514.0" rx="1.7" ry="1" fill="#f0dc9e" transform="rotate(87 124.8 514.0)"/><ellipse cx="51.7" cy="534.9" rx="1.7" ry="1" fill="#e6c572" transform="rotate(98 51.7 534.9)"/><ellipse cx="121.3" cy="506.1" rx="1.7" ry="1" fill="#f0dc9e" transform="rotate(143 121.3 506.1)"/><ellipse cx="42.9" cy="537.7" rx="1.7" ry="1" fill="#c4943e" transform="rotate(157 42.9 537.7)"/><ellipse cx="123.2" cy="512.0" rx="1.7" ry="1" fill="#c4943e" transform="rotate(3 123.2 512.0)"/><ellipse cx="39.7" cy="531.0" rx="1.7" ry="1" fill="#e6c572" transform="rotate(16 39.7 531.0)"/><ellipse cx="133.0" cy="518.1" rx="1.7" ry="1" fill="#c4943e" transform="rotate(70 133.0 518.1)"/><ellipse cx="23.2" cy="525.4" rx="1.7" ry="1" fill="#e6c572" transform="rotate(135 23.2 525.4)"/><ellipse cx="57.3" cy="534.9" rx="1.7" ry="1" fill="#e6c572" transform="rotate(172 57.3 534.9)"/><ellipse cx="21.1" cy="519.4" rx="1.7" ry="1" fill="#e6c572" transform="rotate(46 21.1 519.4)"/><ellipse cx="41.5" cy="534.7" rx="1.7" ry="1" fill="#f0dc9e" transform="rotate(93 41.5 534.7)"/><ellipse cx="50.3" cy="535.3" rx="1.7" ry="1" fill="#d7ad52" transform="rotate(78 50.3 535.3)"/><ellipse cx="114.8" cy="504.6" rx="1.7" ry="1" fill="#d7ad52" transform="rotate(57 114.8 504.6)"/><ellipse cx="111.0" cy="536.4" rx="1.7" ry="1" fill="#e6c572" transform="rotate(7 111.0 536.4)"/>
<circle cx="50" cy="500.5" r="5.6" fill="#4f9e2a"/><circle cx="49" cy="499.5" r="3.1" fill="#66b436" opacity="0.8"/>
<circle cx="69" cy="493.5" r="6.3" fill="#4f9e2a"/><circle cx="68" cy="492.5" r="3.5" fill="#66b436" opacity="0.8"/>
<circle cx="58.5" cy="491" r="6.6" fill="#4f9e2a"/><circle cx="57.5" cy="490" r="3.6" fill="#66b436" opacity="0.8"/>
<path d="M60 497 Q58 502 55 505 M60 497 Q64 500 66 503" stroke="#3c7d1e" stroke-width="1" fill="none"/>
</g>
<linearGradient id="goil" x1="0" y1="0" x2="1" y2="0"><stop offset="0" stop-color="#f3c41c"/><stop offset="0.28" stop-color="#fde88a"/><stop offset="0.55" stop-color="#f9d53a"/><stop offset="1" stop-color="#ecb00a"/></linearGradient>
<radialGradient id="goil2" cx="0.4" cy="0.4" r="0.7"><stop offset="0" stop-color="#fbe066"/><stop offset="0.6" stop-color="#f0c010"/><stop offset="1" stop-color="#d99a00"/></radialGradient>
<linearGradient id="gadr" x1="0" y1="0" x2="1" y2="1"><stop offset="0" stop-color="#2bb0e6"/><stop offset="1" stop-color="#1b5ca8"/></linearGradient>
<linearGradient id="gstrip" x1="0" y1="0" x2="1" y2="0"><stop offset="0" stop-color="#1762ae"/><stop offset="0.55" stop-color="#279dcc"/><stop offset="1" stop-color="#1b6fb8"/></linearGradient>
</defs>
<rect x="0" y="0" width="800" height="2000" fill="#fff"/>
<rect x="0" y="0" width="800" height="113" fill="#bfe9f1"/>
<rect x="0" y="112.5" width="800" height="7" fill="#001f60"/>
<rect x="0" y="119.5" width="800" height="2" fill="#e9eef5"/>
<rect x="0" y="432" width="800" height="534" fill="url(#gsec1)"/>
<rect x="0" y="1251" width="800" height="331" fill="url(#gsec2)"/>
<text font-size="50.5" font-weight="bold" font-style="italic" fill="#001f60" stroke="#001f60" stroke-width="1.1"><tspan x="311.5" y="49.5" textLength="82" lengthAdjust="spacingAndGlyphs">The</tspan> <tspan x="405.5" y="49.5" textLength="136" lengthAdjust="spacingAndGlyphs">Global</tspan> <tspan x="553.5" y="49.5" textLength="176" lengthAdjust="spacingAndGlyphs">Sesame</tspan></text>
<text font-size="50.5" font-weight="bold" font-style="italic" fill="#001f60" stroke="#001f60" stroke-width="1.1"><tspan x="311.5" y="99" textLength="56" lengthAdjust="spacingAndGlyphs">Oil</tspan> <tspan x="382" y="99" textLength="125.5" lengthAdjust="spacingAndGlyphs">Trade</tspan></text>
<g transform="translate(0,132)">
<rect x="40" y="49.7" width="350" height="2.3" fill="#c9d3e2" opacity="0.45"/>
<polygon points="42,0 390,0 390,49.7 26.1,49.7" fill="#001f60"/>
<path d="M74.6 0 L58.6 50 M78.4 0 L62.4 50" stroke="#fff" stroke-width="1.3" fill="none"/>
<text x="82.5" y="35" font-size="31.2" font-weight="bold" font-style="italic" fill="#fff" textLength="172" lengthAdjust="spacingAndGlyphs" stroke="#fff" stroke-width="0.5">World Trade</text>
<use href="#oilicon" x="0" y="0"/>
</g>
<g transform="translate(0,409.5)">
<rect x="40" y="49.7" width="350" height="2.3" fill="#c9d3e2" opacity="0.45"/>
<polygon points="42,0 390,0 390,49.7 26.1,49.7" fill="#001f60"/>
<path d="M74.6 0 L58.6 50 M78.4 0 L62.4 50" stroke="#fff" stroke-width="1.3" fill="none"/>
<text x="83.5" y="35" font-size="31.2" font-weight="bold" font-style="italic" fill="#fff" textLength="269" lengthAdjust="spacingAndGlyphs" stroke="#fff" stroke-width="0.5">Product Know How</text>
<use href="#oilicon" x="0" y="0"/>
</g>
<g transform="translate(0,970)">
<rect x="40" y="49.7" width="350" height="2.3" fill="#c9d3e2" opacity="0.45"/>
<polygon points="42,0 390,0 390,49.7 26.1,49.7" fill="#001f60"/>
<path d="M74.6 0 L58.6 50 M78.4 0 L62.4 50" stroke="#fff" stroke-width="1.3" fill="none"/>
<text x="83.5" y="35" font-size="31.2" font-weight="bold" font-style="italic" fill="#fff" textLength="242" lengthAdjust="spacingAndGlyphs" stroke="#fff" stroke-width="0.5">Market Dynamics</text>
<use href="#oilicon" x="0" y="0"/>
</g>
<g transform="translate(0,1226)">
<rect x="40" y="49.7" width="350" height="2.3" fill="#c9d3e2" opacity="0.45"/>
<polygon points="42,0 390,0 390,49.7 26.1,49.7" fill="#001f60"/>
<path d="M74.6 0 L58.6 50 M78.4 0 L62.4 50" stroke="#fff" stroke-width="1.3" fill="none"/>
<text x="83.5" y="35" font-size="31.2" font-weight="bold" font-style="italic" fill="#fff" textLength="241" lengthAdjust="spacingAndGlyphs" stroke="#fff" stroke-width="0.5">Market Estimates</text>
<use href="#oilicon" x="0" y="0"/>
</g>
<g transform="translate(0,1820)">
<rect x="40" y="49.7" width="350" height="2.3" fill="#c9d3e2" opacity="0.45"/>
<polygon points="42,0 390,0 390,49.7 26.1,49.7" fill="#001f60"/>
<path d="M74.6 0 L58.6 50 M78.4 0 L62.4 50" stroke="#fff" stroke-width="1.3" fill="none"/>
<text x="83.5" y="35" font-size="31.2" font-weight="bold" font-style="italic" fill="#fff" textLength="160" lengthAdjust="spacingAndGlyphs" stroke="#fff" stroke-width="0.5">Key Players</text>
<use href="#oilicon" x="0" y="0"/>
</g>
<rect x="45.2" y="349.7" width="337.2" height="1" fill="#d9d9d9"/>
<rect x="54.2" y="270.0" width="12" height="80.0" fill="#7fd5e2"/>
<rect x="84.92" y="278.6" width="12" height="71.4" fill="#7fd5e2"/>
<rect x="115.64" y="285.3" width="12" height="64.7" fill="#7fd5e2"/>
<rect x="146.36" y="276.3" width="12" height="73.7" fill="#7fd5e2"/>
<rect x="177.08" y="262.2" width="12" height="87.8" fill="#7fd5e2"/>
<rect x="207.8" y="270.7" width="12" height="79.3" fill="#7fd5e2"/>
<rect x="238.52" y="257.6" width="12" height="92.4" fill="#7fd5e2"/>
<rect x="269.24" y="255.3" width="12" height="94.7" fill="#7fd5e2"/>
<rect x="299.96" y="254.8" width="12" height="95.2" fill="#7fd5e2"/>
<rect x="330.68" y="247.0" width="12" height="103.0" fill="#7fd5e2"/>
<rect x="361.4" y="256.3" width="12" height="93.7" fill="#7fd5e2"/>
<text transform="translate(63.8,345) rotate(-90)" font-size="10.3" fill="#1a1a1a" stroke="#1a1a1a" stroke-width="0.2" textLength="19.5" lengthAdjust="spacingAndGlyphs">48.3</text>
<text transform="translate(94.52,345) rotate(-90)" font-size="10.3" fill="#1a1a1a" stroke="#1a1a1a" stroke-width="0.2" textLength="19.5" lengthAdjust="spacingAndGlyphs">43.1</text>
<text transform="translate(125.24,345) rotate(-90)" font-size="10.3" fill="#1a1a1a" stroke="#1a1a1a" stroke-width="0.2" textLength="19.5" lengthAdjust="spacingAndGlyphs">39.1</text>
<text transform="translate(155.96,345) rotate(-90)" font-size="10.3" fill="#1a1a1a" stroke="#1a1a1a" stroke-width="0.2" textLength="19.5" lengthAdjust="spacingAndGlyphs">44.5</text>
<text transform="translate(186.68,345) rotate(-90)" font-size="10.3" fill="#1a1a1a" stroke="#1a1a1a" stroke-width="0.2" textLength="19.5" lengthAdjust="spacingAndGlyphs">53.0</text>
<text transform="translate(217.4,345) rotate(-90)" font-size="10.3" fill="#1a1a1a" stroke="#1a1a1a" stroke-width="0.2" textLength="19.5" lengthAdjust="spacingAndGlyphs">47.9</text>
<text transform="translate(248.12,345) rotate(-90)" font-size="10.3" fill="#1a1a1a" stroke="#1a1a1a" stroke-width="0.2" textLength="19.5" lengthAdjust="spacingAndGlyphs">55.8</text>
<text transform="translate(278.84,345) rotate(-90)" font-size="10.3" fill="#1a1a1a" stroke="#1a1a1a" stroke-width="0.2" textLength="19.5" lengthAdjust="spacingAndGlyphs">57.2</text>
<text transform="translate(309.56,345) rotate(-90)" font-size="10.3" fill="#1a1a1a" stroke="#1a1a1a" stroke-width="0.2" textLength="19.5" lengthAdjust="spacingAndGlyphs">57.5</text>
<text transform="translate(340.28,345) rotate(-90)" font-size="10.3" fill="#1a1a1a" stroke="#1a1a1a" stroke-width="0.2" textLength="19.5" lengthAdjust="spacingAndGlyphs">62.2</text>
<text transform="translate(371,345) rotate(-90)" font-size="10.3" fill="#1a1a1a" stroke="#1a1a1a" stroke-width="0.2" textLength="19.5" lengthAdjust="spacingAndGlyphs">56.6</text>
<polyline points="60.2,296.5 90.92,284.2 121.64,285.2 152.36,277.6 183.08,267.1 213.8,267.1 244.52,253.1 275.24,243.0 305.96,243.4 336.68,243.8 367.4,243.7" fill="none" stroke="#e8131b" stroke-width="2" stroke-linejoin="round"/>
<circle cx="60.2" cy="296.5" r="3.1" fill="#e8131b"/>
<circle cx="90.92" cy="284.2" r="3.1" fill="#e8131b"/>
<circle cx="121.64" cy="285.2" r="3.1" fill="#e8131b"/>
<circle cx="152.36" cy="277.6" r="3.1" fill="#e8131b"/>
<circle cx="183.08" cy="267.1" r="3.1" fill="#e8131b"/>
<circle cx="213.8" cy="267.1" r="3.1" fill="#e8131b"/>
<circle cx="244.52" cy="253.1" r="3.1" fill="#e8131b"/>
<circle cx="275.24" cy="243.0" r="3.1" fill="#e8131b"/>
<circle cx="305.96" cy="243.4" r="3.1" fill="#e8131b"/>
<circle cx="336.68" cy="243.8" r="3.1" fill="#e8131b"/>
<circle cx="367.4" cy="243.7" r="3.1" fill="#e8131b"/>
<text x="61.2" y="287" font-size="9.6" fill="#111" text-anchor="middle" textLength="22.3" lengthAdjust="spacingAndGlyphs" stroke="#111" stroke-width="0.22">119.9</text>
<text x="91.92" y="274.729" font-size="9.6" fill="#111" text-anchor="middle" textLength="22.3" lengthAdjust="spacingAndGlyphs" stroke="#111" stroke-width="0.22">147.7</text>
<text x="122.64" y="275.656" font-size="9.6" fill="#111" text-anchor="middle" textLength="22.3" lengthAdjust="spacingAndGlyphs" stroke="#111" stroke-width="0.22">145.6</text>
<text x="153.36" y="268.108" font-size="9.6" fill="#111" text-anchor="middle" textLength="22.3" lengthAdjust="spacingAndGlyphs" stroke="#111" stroke-width="0.22">162.7</text>
<text x="184.08" y="257.559" font-size="9.6" fill="#111" text-anchor="middle" textLength="22.3" lengthAdjust="spacingAndGlyphs" stroke="#111" stroke-width="0.22">186.6</text>
<text x="214.8" y="257.559" font-size="9.6" fill="#111" text-anchor="middle" textLength="22.3" lengthAdjust="spacingAndGlyphs" stroke="#111" stroke-width="0.22">186.6</text>
<text x="245.52" y="243.566" font-size="9.6" fill="#111" text-anchor="middle" textLength="22.3" lengthAdjust="spacingAndGlyphs" stroke="#111" stroke-width="0.22">218.3</text>
<text x="276.24" y="233.502" font-size="9.6" fill="#111" text-anchor="middle" textLength="22.3" lengthAdjust="spacingAndGlyphs" stroke="#111" stroke-width="0.22">241.1</text>
<text x="306.96" y="233.855" font-size="9.6" fill="#111" text-anchor="middle" textLength="22.3" lengthAdjust="spacingAndGlyphs" stroke="#111" stroke-width="0.22">240.3</text>
<text x="337.68" y="234.297" font-size="9.6" fill="#111" text-anchor="middle" textLength="22.3" lengthAdjust="spacingAndGlyphs" stroke="#111" stroke-width="0.22">239.3</text>
<text x="368.4" y="234.164" font-size="9.6" fill="#111" text-anchor="middle" textLength="22.3" lengthAdjust="spacingAndGlyphs" stroke="#111" stroke-width="0.22">239.6</text>
<text x="60.2" y="365" font-size="8.8" fill="#111" text-anchor="middle" textLength="18.5" lengthAdjust="spacingAndGlyphs">2007</text>
<text x="90.92" y="365" font-size="8.8" fill="#111" text-anchor="middle" textLength="18.5" lengthAdjust="spacingAndGlyphs">2008</text>
<text x="121.64" y="365" font-size="8.8" fill="#111" text-anchor="middle" textLength="18.5" lengthAdjust="spacingAndGlyphs">2009</text>
<text x="152.36" y="365" font-size="8.8" fill="#111" text-anchor="middle" textLength="18.5" lengthAdjust="spacingAndGlyphs">2010</text>
<text x="183.08" y="365" font-size="8.8" fill="#111" text-anchor="middle" textLength="18.5" lengthAdjust="spacingAndGlyphs">2011</text>
<text x="213.8" y="365" font-size="8.8" fill="#111" text-anchor="middle" textLength="18.5" lengthAdjust="spacingAndGlyphs">2012</text>
<text x="244.52" y="365" font-size="8.8" fill="#111" text-anchor="middle" textLength="18.5" lengthAdjust="spacingAndGlyphs">2013</text>
<text x="275.24" y="365" font-size="8.8" fill="#111" text-anchor="middle" textLength="18.5" lengthAdjust="spacingAndGlyphs">2014</text>
<text x="305.96" y="365" font-size="8.8" fill="#111" text-anchor="middle" textLength="18.5" lengthAdjust="spacingAndGlyphs">2015</text>
<text x="336.68" y="365" font-size="8.8" fill="#111" text-anchor="middle" textLength="18.5" lengthAdjust="spacingAndGlyphs">2016</text>
<text x="367.4" y="365" font-size="8.8" fill="#111" text-anchor="middle" textLength="18.5" lengthAdjust="spacingAndGlyphs">2017</text>
<text x="135" y="201" font-size="13.2" font-weight="bold" fill="#111" textLength="164" lengthAdjust="spacingAndGlyphs">Global Imports, 2007-2017</text>
<rect x="62.5" y="383" width="19.5" height="5.2" fill="#7fd5e2"/>
<text x="88.5" y="388.6" font-size="12.3" fill="#1a1a1a" textLength="100" lengthAdjust="spacingAndGlyphs">Imports (Kilo Tons)</text>
<circle cx="238" cy="385.6" r="3" fill="#e8131b"/>
<text x="257.5" y="388.6" font-size="12.3" fill="#1a1a1a" textLength="114" lengthAdjust="spacingAndGlyphs">Imports (USD Million)</text>
<rect x="438.5" y="352.2" width="337" height="1" fill="#d9d9d9"/>
<rect x="447.5" y="296.6" width="12" height="55.9" fill="#7fd5e2"/>
<rect x="478.2" y="301.2" width="12" height="51.3" fill="#7fd5e2"/>
<rect x="508.9" y="297.2" width="12" height="55.3" fill="#7fd5e2"/>
<rect x="539.6" y="285.1" width="12" height="67.4" fill="#7fd5e2"/>
<rect x="570.3" y="297.4" width="12" height="55.1" fill="#7fd5e2"/>
<rect x="601" y="287.2" width="12" height="65.3" fill="#7fd5e2"/>
<rect x="631.7" y="275.4" width="12" height="77.1" fill="#7fd5e2"/>
<rect x="662.4" y="274.9" width="12" height="77.6" fill="#7fd5e2"/>
<rect x="693.1" y="283.2" width="12" height="69.3" fill="#7fd5e2"/>
<rect x="723.8" y="274.2" width="12" height="78.3" fill="#7fd5e2"/>
<rect x="754.5" y="288.7" width="12" height="63.8" fill="#7fd5e2"/>
<text transform="translate(457.1,347.5) rotate(-90)" font-size="10" fill="#1a1a1a" stroke="#1a1a1a" stroke-width="0.2" textLength="17.2" lengthAdjust="spacingAndGlyphs">47.0</text>
<text transform="translate(487.8,347.5) rotate(-90)" font-size="10" fill="#1a1a1a" stroke="#1a1a1a" stroke-width="0.2" textLength="17.2" lengthAdjust="spacingAndGlyphs">43.1</text>
<text transform="translate(518.5,347.5) rotate(-90)" font-size="10" fill="#1a1a1a" stroke="#1a1a1a" stroke-width="0.2" textLength="17.2" lengthAdjust="spacingAndGlyphs">46.5</text>
<text transform="translate(549.2,347.5) rotate(-90)" font-size="10" fill="#1a1a1a" stroke="#1a1a1a" stroke-width="0.2" textLength="17.2" lengthAdjust="spacingAndGlyphs">56.6</text>
<text transform="translate(579.9,347.5) rotate(-90)" font-size="10" fill="#1a1a1a" stroke="#1a1a1a" stroke-width="0.2" textLength="17.2" lengthAdjust="spacingAndGlyphs">46.3</text>
<text transform="translate(610.6,347.5) rotate(-90)" font-size="10" fill="#1a1a1a" stroke="#1a1a1a" stroke-width="0.2" textLength="17.2" lengthAdjust="spacingAndGlyphs">54.9</text>
<text transform="translate(641.3,347.5) rotate(-90)" font-size="10" fill="#1a1a1a" stroke="#1a1a1a" stroke-width="0.2" textLength="17.2" lengthAdjust="spacingAndGlyphs">64.8</text>
<text transform="translate(672,347.5) rotate(-90)" font-size="10" fill="#1a1a1a" stroke="#1a1a1a" stroke-width="0.2" textLength="17.2" lengthAdjust="spacingAndGlyphs">65.2</text>
<text transform="translate(702.7,347.5) rotate(-90)" font-size="10" fill="#1a1a1a" stroke="#1a1a1a" stroke-width="0.2" textLength="17.2" lengthAdjust="spacingAndGlyphs">58.2</text>
<text transform="translate(733.4,347.5) rotate(-90)" font-size="10" fill="#1a1a1a" stroke="#1a1a1a" stroke-width="0.2" textLength="17.2" lengthAdjust="spacingAndGlyphs">65.8</text>
<text transform="translate(764.1,347.5) rotate(-90)" font-size="10" fill="#1a1a1a" stroke="#1a1a1a" stroke-width="0.2" textLength="17.2" lengthAdjust="spacingAndGlyphs">53.6</text>
<polyline points="453.5,318.0 484.2,307.3 514.9,304.8 545.6,301.1 576.3,299.9 607,299.9 637.7,285.1 668.4,278.4 699.1,223.0 729.8,285.1 760.5,286.7" fill="none" stroke="#e8131b" stroke-width="2" stroke-linejoin="round"/>
<circle cx="453.5" cy="318.0" r="3.1" fill="#e8131b"/>
<circle cx="484.2" cy="307.3" r="3.1" fill="#e8131b"/>
<circle cx="514.9" cy="304.8" r="3.1" fill="#e8131b"/>
<circle cx="545.6" cy="301.1" r="3.1" fill="#e8131b"/>
<circle cx="576.3" cy="299.9" r="3.1" fill="#e8131b"/>
<circle cx="607" cy="299.9" r="3.1" fill="#e8131b"/>
<circle cx="637.7" cy="285.1" r="3.1" fill="#e8131b"/>
<circle cx="668.4" cy="278.4" r="3.1" fill="#e8131b"/>
<circle cx="699.1" cy="223.0" r="3.1" fill="#e8131b"/>
<circle cx="729.8" cy="285.1" r="3.1" fill="#e8131b"/>
<circle cx="760.5" cy="286.7" r="3.1" fill="#e8131b"/>
<text x="454.5" y="308.5" font-size="9.6" fill="#111" text-anchor="middle" textLength="22.3" lengthAdjust="spacingAndGlyphs" stroke="#111" stroke-width="0.22">118.5</text>
<text x="485.2" y="297.817" font-size="9.6" fill="#111" text-anchor="middle" textLength="22.3" lengthAdjust="spacingAndGlyphs" stroke="#111" stroke-width="0.22">154.8</text>
<text x="515.9" y="295.315" font-size="9.6" fill="#111" text-anchor="middle" textLength="22.3" lengthAdjust="spacingAndGlyphs" stroke="#111" stroke-width="0.22">163.3</text>
<text x="546.6" y="291.578" font-size="9.6" fill="#111" text-anchor="middle" textLength="22.3" lengthAdjust="spacingAndGlyphs" stroke="#111" stroke-width="0.22">176.0</text>
<text x="577.3" y="290.43" font-size="9.6" fill="#111" text-anchor="middle" textLength="22.3" lengthAdjust="spacingAndGlyphs" stroke="#111" stroke-width="0.22">179.9</text>
<text x="608" y="290.43" font-size="9.6" fill="#111" text-anchor="middle" textLength="22.3" lengthAdjust="spacingAndGlyphs" stroke="#111" stroke-width="0.22">179.9</text>
<text x="638.7" y="275.597" font-size="9.6" fill="#111" text-anchor="middle" textLength="22.3" lengthAdjust="spacingAndGlyphs" stroke="#111" stroke-width="0.22">230.3</text>
<text x="663.9" y="267.458" font-size="9.6" fill="#111" text-anchor="middle" textLength="22.3" lengthAdjust="spacingAndGlyphs" stroke="#111" stroke-width="0.22">253.2</text>
<text x="700.1" y="213.5" font-size="9.6" fill="#111" text-anchor="middle" textLength="22.3" lengthAdjust="spacingAndGlyphs" stroke="#111" stroke-width="0.22">441.3</text>
<text x="730.8" y="275.597" font-size="9.6" fill="#111" text-anchor="middle" textLength="22.3" lengthAdjust="spacingAndGlyphs" stroke="#111" stroke-width="0.22">230.3</text>
<text x="761.5" y="277.157" font-size="9.6" fill="#111" text-anchor="middle" textLength="22.3" lengthAdjust="spacingAndGlyphs" stroke="#111" stroke-width="0.22">225.0</text>
<text x="453.5" y="367.5" font-size="8.8" fill="#111" text-anchor="middle" textLength="18.5" lengthAdjust="spacingAndGlyphs">2007</text>
<text x="484.2" y="367.5" font-size="8.8" fill="#111" text-anchor="middle" textLength="18.5" lengthAdjust="spacingAndGlyphs">2008</text>
<text x="514.9" y="367.5" font-size="8.8" fill="#111" text-anchor="middle" textLength="18.5" lengthAdjust="spacingAndGlyphs">2009</text>
<text x="545.6" y="367.5" font-size="8.8" fill="#111" text-anchor="middle" textLength="18.5" lengthAdjust="spacingAndGlyphs">2010</text>
<text x="576.3" y="367.5" font-size="8.8" fill="#111" text-anchor="middle" textLength="18.5" lengthAdjust="spacingAndGlyphs">2011</text>
<text x="607" y="367.5" font-size="8.8" fill="#111" text-anchor="middle" textLength="18.5" lengthAdjust="spacingAndGlyphs">2012</text>
<text x="637.7" y="367.5" font-size="8.8" fill="#111" text-anchor="middle" textLength="18.5" lengthAdjust="spacingAndGlyphs">2013</text>
<text x="668.4" y="367.5" font-size="8.8" fill="#111" text-anchor="middle" textLength="18.5" lengthAdjust="spacingAndGlyphs">2014</text>
<text x="699.1" y="367.5" font-size="8.8" fill="#111" text-anchor="middle" textLength="18.5" lengthAdjust="spacingAndGlyphs">2015</text>
<text x="729.8" y="367.5" font-size="8.8" fill="#111" text-anchor="middle" textLength="18.5" lengthAdjust="spacingAndGlyphs">2016</text>
<text x="760.5" y="367.5" font-size="8.8" fill="#111" text-anchor="middle" textLength="18.5" lengthAdjust="spacingAndGlyphs">2017</text>
<text x="529" y="204" font-size="13.2" font-weight="bold" fill="#111" textLength="162" lengthAdjust="spacingAndGlyphs">Global Exports, 2007-2017</text>
<rect x="455" y="385.7" width="19.5" height="5.2" fill="#7fd5e2"/>
<text x="482.5" y="391.3" font-size="12.3" fill="#1a1a1a" textLength="98.5" lengthAdjust="spacingAndGlyphs">Exports (Kilo Tons)</text>
<circle cx="631" cy="388.3" r="3" fill="#e8131b"/>
<text x="650" y="391.3" font-size="12.3" fill="#1a1a1a" textLength="111" lengthAdjust="spacingAndGlyphs">Exports (USD Million)</text>
<text x="137.5" y="493" font-size="20.4" fill="#111" textLength="486.5" lengthAdjust="spacingAndGlyphs" stroke="#111" stroke-width="0.15">Sesame oil has been gaining immense importance as a</text>
<text x="137.5" y="517" font-size="20.4" font-weight="bold" font-style="italic" fill="#111" textLength="470" lengthAdjust="spacingAndGlyphs" stroke="#111" stroke-width="0.3">cooking medium, food condiment, drug emollient,</text>
<text x="137.5" y="540.5" font-size="20.4" font-weight="bold" font-style="italic" fill="#111" textLength="414" lengthAdjust="spacingAndGlyphs" stroke="#111" stroke-width="0.3">fragrance additive and cosmetics ingredient</text>
<text x="137.5" y="580" font-size="20.4" font-weight="bold" font-style="italic" fill="#111" textLength="179" lengthAdjust="spacingAndGlyphs" stroke="#111" stroke-width="0.3">Numerous benefits</text>
<text x="320.5" y="580" font-size="20.4" fill="#111" textLength="326.5" lengthAdjust="spacingAndGlyphs" stroke="#111" stroke-width="0.15">offered by this oil contribute towards</text>
<text x="137.5" y="603.7" font-size="20.4" fill="#111" textLength="155" lengthAdjust="spacingAndGlyphs" stroke="#111" stroke-width="0.15">improving overall</text>
<text x="297" y="603.7" font-size="20.4" font-weight="bold" font-style="italic" fill="#111" textLength="165" lengthAdjust="spacingAndGlyphs" stroke="#111" stroke-width="0.3">health and fitness</text>
<text x="137.5" y="642" font-size="20.4" fill="#111" textLength="147" lengthAdjust="spacingAndGlyphs" stroke="#111" stroke-width="0.15">Enhancement of</text>
<text x="289.5" y="642" font-size="20.4" font-weight="bold" font-style="italic" fill="#111" textLength="248.5" lengthAdjust="spacingAndGlyphs" stroke="#111" stroke-width="0.3">shelf life and distinct flavor</text>
<text x="543" y="642" font-size="20.4" fill="#111" textLength="113.5" lengthAdjust="spacingAndGlyphs" stroke="#111" stroke-width="0.15">in processed</text>
<text x="137.5" y="665.7" font-size="20.4" font-weight="bold" font-style="italic" fill="#111" textLength="314" lengthAdjust="spacingAndGlyphs" stroke="#111" stroke-width="0.3">foods and personal care products</text>
<text x="456.5" y="665.7" font-size="20.4" fill="#111" textLength="171" lengthAdjust="spacingAndGlyphs" stroke="#111" stroke-width="0.15">are the key product</text>
<text x="137.5" y="690" font-size="20.4" fill="#111" textLength="531.5" lengthAdjust="spacingAndGlyphs" stroke="#111" stroke-width="0.15">attributes that are expected to drive global demand by 2025</text>
<text x="286" y="722.5" font-size="17.6" font-weight="bold" fill="#111" textLength="236" lengthAdjust="spacingAndGlyphs">Global Production, 2007-2017</text>
<rect x="57" y="917.7" width="685" height="1" fill="#cfd3d6"/>
<rect x="76" y="823.5" width="25" height="94.5" fill="url(#gbar)"/>
<text x="88.5" y="815.7" font-size="11.9" fill="#111" text-anchor="middle">1.05</text>
<text x="88.5" y="936" font-size="11.8" fill="#111" text-anchor="middle" textLength="25.5" lengthAdjust="spacingAndGlyphs">2007</text>
<rect x="138.3" y="829.8" width="25" height="88.2" fill="url(#gbar)"/>
<text x="150.8" y="822" font-size="11.9" fill="#111" text-anchor="middle">0.98</text>
<text x="150.8" y="936" font-size="11.8" fill="#111" text-anchor="middle" textLength="25.5" lengthAdjust="spacingAndGlyphs">2008</text>
<rect x="200.6" y="825.3" width="25" height="92.7" fill="url(#gbar)"/>
<text x="213.1" y="817.5" font-size="11.9" fill="#111" text-anchor="middle">1.03</text>
<text x="213.1" y="936" font-size="11.8" fill="#111" text-anchor="middle" textLength="25.5" lengthAdjust="spacingAndGlyphs">2009</text>
<rect x="262.9" y="819.9" width="25" height="98.1" fill="url(#gbar)"/>
<text x="275.4" y="812.1" font-size="11.9" fill="#111" text-anchor="middle">1.09</text>
<text x="275.4" y="936" font-size="11.8" fill="#111" text-anchor="middle" textLength="25.5" lengthAdjust="spacingAndGlyphs">2010</text>
<rect x="325.2" y="817.2" width="25" height="100.8" fill="url(#gbar)"/>
<text x="337.7" y="809.4" font-size="11.9" fill="#111" text-anchor="middle">1.12</text>
<text x="337.7" y="936" font-size="11.8" fill="#111" text-anchor="middle" textLength="25.5" lengthAdjust="spacingAndGlyphs">2011</text>
<rect x="387.5" y="811.8" width="25" height="106.2" fill="url(#gbar)"/>
<text x="400" y="804" font-size="11.9" fill="#111" text-anchor="middle">1.18</text>
<text x="400" y="936" font-size="11.8" fill="#111" text-anchor="middle" textLength="25.5" lengthAdjust="spacingAndGlyphs">2012</text>
<rect x="449.8" y="789.3" width="25" height="128.7" fill="url(#gbar)"/>
<text x="462.3" y="781.5" font-size="11.9" fill="#111" text-anchor="middle">1.43</text>
<text x="462.3" y="936" font-size="11.8" fill="#111" text-anchor="middle" textLength="25.5" lengthAdjust="spacingAndGlyphs">2013</text>
<rect x="512.1" y="771.3" width="25" height="146.7" fill="url(#gbar)"/>
<text x="524.6" y="763.5" font-size="11.9" fill="#111" text-anchor="middle">1.63</text>
<text x="524.6" y="936" font-size="11.8" fill="#111" text-anchor="middle" textLength="25.5" lengthAdjust="spacingAndGlyphs">2014</text>
<rect x="574.4" y="778.5" width="25" height="139.5" fill="url(#gbar)"/>
<text x="586.9" y="770.7" font-size="11.9" fill="#111" text-anchor="middle">1.55</text>
<text x="586.9" y="936" font-size="11.8" fill="#111" text-anchor="middle" textLength="25.5" lengthAdjust="spacingAndGlyphs">2015</text>
<rect x="636.7" y="771.3" width="25" height="146.7" fill="url(#gbar)"/>
<text x="649.2" y="763.5" font-size="11.9" fill="#111" text-anchor="middle">1.63</text>
<text x="649.2" y="936" font-size="11.8" fill="#111" text-anchor="middle" textLength="25.5" lengthAdjust="spacingAndGlyphs">2016</text>
<rect x="699" y="763.2" width="25" height="154.8" fill="url(#gbar)"/>
<text x="711.5" y="755.4" font-size="11.9" fill="#111" text-anchor="middle">1.72</text>
<text x="711.5" y="936" font-size="11.8" fill="#111" text-anchor="middle" textLength="25.5" lengthAdjust="spacingAndGlyphs">2017</text>
<rect x="327" y="946.2" width="12.4" height="12.2" fill="#001f60"/>
<text x="345.5" y="958.2" font-size="14.6" fill="#111" textLength="164.5" lengthAdjust="spacingAndGlyphs">Production (Million Tons)</text>
<text x="30" y="1042.5" font-size="19.8" font-weight="bold" font-style="italic" fill="#e8131b" textLength="206" lengthAdjust="spacingAndGlyphs" stroke="#e8131b" stroke-width="0.4">Growth Driving Factor</text>
<text x="30" y="1067.5" font-size="20.3" fill="#111" textLength="642" lengthAdjust="spacingAndGlyphs" stroke="#111" stroke-width="0.15">Rising consumer awareness and adoption of cold pressed vegetable oils</text>
<text x="30" y="1100" font-size="19.8" font-weight="bold" font-style="italic" fill="#e8131b" textLength="216" lengthAdjust="spacingAndGlyphs" stroke="#e8131b" stroke-width="0.4">Growth Limiting Factor</text>
<text x="30" y="1125" font-size="20.3" fill="#111" textLength="690.5" lengthAdjust="spacingAndGlyphs" stroke="#111" stroke-width="0.15">Presence of prominent substitutes such as coconut oil, olive oil, groundnut oil,</text>
<text x="30" y="1149" font-size="20.3" fill="#111" textLength="345" lengthAdjust="spacingAndGlyphs" stroke="#111" stroke-width="0.15">mustard oil, soy bean oil and peanut oil</text>
<text x="30" y="1179" font-size="19.8" font-weight="bold" font-style="italic" fill="#e8131b" textLength="236" lengthAdjust="spacingAndGlyphs" stroke="#e8131b" stroke-width="0.4">Growth Opportunity Area</text>
<text x="30" y="1202.5" font-size="20.3" fill="#111" textLength="720" lengthAdjust="spacingAndGlyphs" stroke="#111" stroke-width="0.15">R&amp;D of sesame oil as a sustainable biofuel and a potential substitute to mineral oil</text>
<text transform="translate(35.2,1487) rotate(-90)" font-size="24.2" font-weight="bold" font-style="italic" fill="#001f60" stroke="#001f60" stroke-width="0.45" textLength="164" lengthAdjust="spacingAndGlyphs">By Application</text>
<text transform="translate(35.1,1706) rotate(-90)" font-size="24.2" font-weight="bold" font-style="italic" fill="#001f60" stroke="#001f60" stroke-width="0.45" textLength="113.5" lengthAdjust="spacingAndGlyphs">By Region</text>
<text x="64.5" y="1412" font-size="21.8" font-weight="bold" font-style="italic" fill="#111" textLength="149" lengthAdjust="spacingAndGlyphs" stroke="#111" stroke-width="0.5">Market Share</text>
<text font-size="60" font-weight="bold" fill="#e8131b" stroke="#e8131b" stroke-width="0.8"><tspan x="52.0" y="1485" textLength="31.1" lengthAdjust="spacingAndGlyphs">~</tspan><tspan x="87.5" y="1483.75" textLength="39.3" lengthAdjust="spacingAndGlyphs">7</tspan><tspan x="123.5" y="1483.75" textLength="42.0" lengthAdjust="spacingAndGlyphs">0</tspan><tspan x="163.1" y="1483.75" textLength="50.7" lengthAdjust="spacingAndGlyphs">%</tspan></text>
<text x="138.5" y="1511" font-size="20.4" font-weight="bold" font-style="italic" fill="#111" textLength="76" lengthAdjust="spacingAndGlyphs" stroke="#111" stroke-width="0.4">(2017)</text>
<g transform="translate(274,0)">
<path d="M30.1 1350 L77.9 1350 L77.9 1379.4 L101.5 1397 Q108 1402 108 1411.5 L108 1518.5 Q108 1520 106.5 1520 L1.5 1520 Q0 1520 0 1518.5 L0 1411.5 Q0 1402 6.5 1397 L30.1 1379.4 Z" fill="#ffe17a"/>
<path d="M91 1389.2 L101.5 1397 Q108 1402 108 1411.5 L108 1518.5 Q108 1520 106.5 1520 L96.3 1520 L96.3 1408 Q96.3 1396 91 1389.2Z" fill="#ffcd4c"/>
<rect x="24.2" y="1343.9" width="59.8" height="12.2" rx="6.1" fill="#ffd359"/>
<path d="M68 1343.9 L77.9 1343.9 Q84 1343.9 84 1350 Q84 1356.1 77.9 1356.1 L68 1356.1 Q73 1350 68 1343.9Z" fill="#ffba30"/>
<rect x="30.1" y="1319.9" width="47.8" height="24.2" fill="#ff6621"/>
<rect x="66.2" y="1319.9" width="11.7" height="24.2" fill="#ff4b23"/>
<rect x="42" y="1356.1" width="24.2" height="11" fill="#ffa024"/>
<path d="M11.9 1404 Q20.3 1404 27.9 1407.8 Q36.4 1411.5 45.7 1406.2 Q52.4 1403.2 60.9 1406.2 Q71.8 1411.2 83.6 1406.2 Q91.2 1403.5 96.3 1404 L96.3 1508 L11.9 1508 Z" fill="#ae4b00"/>
<clipPath id="lq274"><path d="M11.9 1404 Q20.3 1404 27.9 1407.8 Q36.4 1411.5 45.7 1406.2 Q52.4 1403.2 60.9 1406.2 Q71.8 1411.2 83.6 1406.2 Q91.2 1403.5 96.3 1404 L96.3 1508 L11.9 1508 Z"/></clipPath>
<rect x="84" y="1401" width="12.3" height="107.0" fill="#7a3300" clip-path="url(#lq274)"/>
</g>
<g transform="translate(406,0)">
<path d="M30.1 1350 L77.9 1350 L77.9 1379.4 L101.5 1397 Q108 1402 108 1411.5 L108 1518.5 Q108 1520 106.5 1520 L1.5 1520 Q0 1520 0 1518.5 L0 1411.5 Q0 1402 6.5 1397 L30.1 1379.4 Z" fill="#ffe17a"/>
<path d="M91 1389.2 L101.5 1397 Q108 1402 108 1411.5 L108 1518.5 Q108 1520 106.5 1520 L96.3 1520 L96.3 1408 Q96.3 1396 91 1389.2Z" fill="#ffcd4c"/>
<rect x="24.2" y="1343.9" width="59.8" height="12.2" rx="6.1" fill="#ffd359"/>
<path d="M68 1343.9 L77.9 1343.9 Q84 1343.9 84 1350 Q84 1356.1 77.9 1356.1 L68 1356.1 Q73 1350 68 1343.9Z" fill="#ffba30"/>
<rect x="30.1" y="1319.9" width="47.8" height="24.2" fill="#ff6621"/>
<rect x="66.2" y="1319.9" width="11.7" height="24.2" fill="#ff4b23"/>
<rect x="42" y="1356.1" width="24.2" height="11" fill="#ffa024"/>
<path d="M11.9 1494.5 Q20.3 1494.5 27.9 1496.3 Q36.4 1498.1 45.7 1495.6 Q52.4 1494.1 60.9 1495.6 Q71.8 1498.0 83.6 1495.6 Q91.2 1494.3 96.3 1494.5 L96.3 1507.4 L11.9 1507.4 Z" fill="#ae4b00"/>
<clipPath id="lq406"><path d="M11.9 1494.5 Q20.3 1494.5 27.9 1496.3 Q36.4 1498.1 45.7 1495.6 Q52.4 1494.1 60.9 1495.6 Q71.8 1498.0 83.6 1495.6 Q91.2 1494.3 96.3 1494.5 L96.3 1507.4 L11.9 1507.4 Z"/></clipPath>
<rect x="84" y="1491.5" width="12.3" height="15.9" fill="#7a3300" clip-path="url(#lq406)"/>
</g>
<g transform="translate(537.8,0)">
<path d="M30.1 1350 L77.9 1350 L77.9 1379.4 L101.5 1397 Q108 1402 108 1411.5 L108 1518.5 Q108 1520 106.5 1520 L1.5 1520 Q0 1520 0 1518.5 L0 1411.5 Q0 1402 6.5 1397 L30.1 1379.4 Z" fill="#ffe17a"/>
<path d="M91 1389.2 L101.5 1397 Q108 1402 108 1411.5 L108 1518.5 Q108 1520 106.5 1520 L96.3 1520 L96.3 1408 Q96.3 1396 91 1389.2Z" fill="#ffcd4c"/>
<rect x="24.2" y="1343.9" width="59.8" height="12.2" rx="6.1" fill="#ffd359"/>
<path d="M68 1343.9 L77.9 1343.9 Q84 1343.9 84 1350 Q84 1356.1 77.9 1356.1 L68 1356.1 Q73 1350 68 1343.9Z" fill="#ffba30"/>
<rect x="30.1" y="1319.9" width="47.8" height="24.2" fill="#ff6621"/>
<rect x="66.2" y="1319.9" width="11.7" height="24.2" fill="#ff4b23"/>
<rect x="42" y="1356.1" width="24.2" height="11" fill="#ffa024"/>
<path d="M11.9 1481.5 Q20.3 1481.5 27.9 1483.5 Q36.4 1485.4 45.7 1482.7 Q52.4 1481.1 60.9 1482.7 Q71.8 1485.3 83.6 1482.7 Q91.2 1481.2 96.3 1481.5 L96.3 1507.4 L11.9 1507.4 Z" fill="#ae4b00"/>
<clipPath id="lq537"><path d="M11.9 1481.5 Q20.3 1481.5 27.9 1483.5 Q36.4 1485.4 45.7 1482.7 Q52.4 1481.1 60.9 1482.7 Q71.8 1485.3 83.6 1482.7 Q91.2 1481.2 96.3 1481.5 L96.3 1507.4 L11.9 1507.4 Z"/></clipPath>
<rect x="84" y="1478.5" width="12.3" height="28.9" fill="#7a3300" clip-path="url(#lq537)"/>
</g>
<g transform="translate(669.8,0)">
<path d="M30.1 1350 L77.9 1350 L77.9 1379.4 L101.5 1397 Q108 1402 108 1411.5 L108 1518.5 Q108 1520 106.5 1520 L1.5 1520 Q0 1520 0 1518.5 L0 1411.5 Q0 1402 6.5 1397 L30.1 1379.4 Z" fill="#ffe17a"/>
<path d="M91 1389.2 L101.5 1397 Q108 1402 108 1411.5 L108 1518.5 Q108 1520 106.5 1520 L96.3 1520 L96.3 1408 Q96.3 1396 91 1389.2Z" fill="#ffcd4c"/>
<rect x="24.2" y="1343.9" width="59.8" height="12.2" rx="6.1" fill="#ffd359"/>
<path d="M68 1343.9 L77.9 1343.9 Q84 1343.9 84 1350 Q84 1356.1 77.9 1356.1 L68 1356.1 Q73 1350 68 1343.9Z" fill="#ffba30"/>
<rect x="30.1" y="1319.9" width="47.8" height="24.2" fill="#ff6621"/>
<rect x="66.2" y="1319.9" width="11.7" height="24.2" fill="#ff4b23"/>
<rect x="42" y="1356.1" width="24.2" height="11" fill="#ffa024"/>
<path d="M11.9 1501.3 Q20.3 1501.3 27.9 1502.3 Q36.4 1503.4 45.7 1501.9 Q52.4 1501.1 60.9 1501.9 Q71.8 1503.3 83.6 1501.9 Q91.2 1501.2 96.3 1501.3 L96.3 1507.4 L11.9 1507.4 Z" fill="#ae4b00"/>
<clipPath id="lq669"><path d="M11.9 1501.3 Q20.3 1501.3 27.9 1502.3 Q36.4 1503.4 45.7 1501.9 Q52.4 1501.1 60.9 1501.9 Q71.8 1503.3 83.6 1501.9 Q91.2 1501.2 96.3 1501.3 L96.3 1507.4 L11.9 1507.4 Z"/></clipPath>
<rect x="84" y="1498.3" width="12.3" height="9.1" fill="#7a3300" clip-path="url(#lq669)"/>
</g>
<rect x="237" y="1453.1" width="49.5" height="3.1" fill="#8e3d08"/>
<circle cx="237" cy="1454.8" r="11.6" fill="#a04400"/>
<text x="326" y="1546.5" font-size="15.2" font-weight="bold" font-style="italic" fill="#111" text-anchor="middle" textLength="113" lengthAdjust="spacingAndGlyphs">Food and health</text>
<text x="459.5" y="1546.5" font-size="15.2" fill="#111" text-anchor="middle" textLength="104" lengthAdjust="spacingAndGlyphs">Pharmaceutical</text>
<text x="590.5" y="1537" font-size="15.2" fill="#111" text-anchor="middle" textLength="91" lengthAdjust="spacingAndGlyphs">Personal care</text>
<text x="590.5" y="1555.5" font-size="15.2" fill="#111" text-anchor="middle" textLength="97" lengthAdjust="spacingAndGlyphs">and cosmetics</text>
<text x="726" y="1546.5" font-size="15.2" fill="#111" text-anchor="middle" textLength="44" lengthAdjust="spacingAndGlyphs">Others</text>
<g clip-path="url(#pieclip)">
<clipPath id="w0"><polygon points="192.3,1671.7 192.3,1411.7 229.8,1414.4"/></clipPath>
<g clip-path="url(#w0)"><rect x="60" y="1545" width="270" height="270" fill="#4a3c0a"/>
<use href="#sob" transform="translate(201.3,1643.1) rotate(183)"/><use href="#sob" transform="translate(204.4,1564.3) rotate(103)"/><use href="#soa" transform="translate(199.3,1586.1) rotate(163)"/><use href="#soa" transform="translate(203.2,1555.0) rotate(215)"/><use href="#sob" transform="translate(196.1,1636.2) rotate(269)"/><use href="#sob" transform="translate(199.0,1610.0) rotate(127)"/><use href="#soa" transform="translate(196.3,1668.8) rotate(135)"/><use href="#soc" transform="translate(194.9,1597.4) rotate(265)"/><use href="#soc" transform="translate(194.6,1558.6) rotate(205)"/><use href="#soa" transform="translate(193.0,1646.2) rotate(316)"/><use href="#sob" transform="translate(206.3,1616.8) rotate(125)"/><use href="#sob" transform="translate(193.0,1618.6) rotate(327)"/><use href="#soc" transform="translate(210.5,1583.9) rotate(102)"/><use href="#soa" transform="translate(197.3,1660.8) rotate(227)"/><use href="#soa" transform="translate(195.3,1576.7) rotate(351)"/><use href="#sob" transform="translate(213.1,1568.9) rotate(20)"/><use href="#soc" transform="translate(206.4,1595.3) rotate(322)"/><use href="#soa" transform="translate(212.0,1560.1) rotate(344)"/><use href="#sob" transform="translate(199.6,1623.0) rotate(184)"/><use href="#soc" transform="translate(204.3,1629.6) rotate(260)"/><use href="#soa" transform="translate(209.8,1550.3) rotate(19)"/><use href="#soa" transform="translate(194.8,1676.4) rotate(248)"/><use href="#soa" transform="translate(205.0,1603.0) rotate(335)"/><use href="#soa" transform="translate(195.5,1567.6) rotate(357)"/><use href="#soc" transform="translate(204.8,1578.2) rotate(62)"/><use href="#sob" transform="translate(188.3,1668.8) rotate(201)"/><use href="#sob" transform="translate(200.8,1653.1) rotate(8)"/><use href="#soa" transform="translate(193.8,1550.5) rotate(120)"/><use href="#sob" transform="translate(192.7,1627.7) rotate(263)"/>
</g>
<clipPath id="w1"><polygon points="192.3,1671.7 229.8,1414.4 315.6,1442.8 344.0,1460.6"/></clipPath>
<g clip-path="url(#w1)"><rect x="60" y="1545" width="270" height="270" fill="#34587f"/>
<use href="#sbc" transform="translate(211.4,1639.8) rotate(86)"/><use href="#sba" transform="translate(210.7,1626.5) rotate(62)"/><use href="#sba" transform="translate(197.4,1615.4) rotate(166)"/><use href="#sbb" transform="translate(237.1,1580.2) rotate(326)"/><use href="#sbc" transform="translate(234.7,1588.8) rotate(211)"/><use href="#sbc" transform="translate(255.1,1571.9) rotate(27)"/><use href="#sba" transform="translate(240.4,1571.8) rotate(293)"/><use href="#sbb" transform="translate(219.5,1628.6) rotate(262)"/><use href="#sbc" transform="translate(236.5,1604.9) rotate(191)"/><use href="#sbc" transform="translate(198.8,1652.1) rotate(90)"/><use href="#sba" transform="translate(222.6,1598.3) rotate(25)"/><use href="#sba" transform="translate(201.1,1628.7) rotate(199)"/><use href="#sbc" transform="translate(252.6,1595.0) rotate(106)"/><use href="#sba" transform="translate(227.7,1555.9) rotate(237)"/><use href="#sbc" transform="translate(216.8,1604.9) rotate(109)"/><use href="#sbc" transform="translate(200.3,1604.8) rotate(231)"/><use href="#sbc" transform="translate(193.1,1646.9) rotate(197)"/><use href="#sbb" transform="translate(229.4,1572.3) rotate(70)"/><use href="#sbb" transform="translate(213.2,1576.8) rotate(252)"/><use href="#sbc" transform="translate(208.9,1655.6) rotate(85)"/><use href="#sba" transform="translate(249.3,1563.6) rotate(343)"/><use href="#sba" transform="translate(220.7,1640.1) rotate(328)"/><use href="#sba" transform="translate(206.9,1597.0) rotate(137)"/><use href="#sbb" transform="translate(232.1,1617.4) rotate(89)"/><use href="#sbb" transform="translate(229.4,1627.9) rotate(92)"/><use href="#sbc" transform="translate(205.2,1557.4) rotate(182)"/><use href="#sbb" transform="translate(210.6,1618.3) rotate(129)"/><use href="#sbc" transform="translate(198.1,1661.1) rotate(133)"/><use href="#sba" transform="translate(236.2,1560.1) rotate(289)"/><use href="#sbc" transform="translate(218.3,1565.0) rotate(222)"/><use href="#sbb" transform="translate(264.1,1579.4) rotate(212)"/><use href="#sbb" transform="translate(211.6,1586.6) rotate(231)"/><use href="#sba" transform="translate(227.8,1606.7) rotate(129)"/><use href="#sbc" transform="translate(250.0,1580.4) rotate(297)"/><use href="#sbc" transform="translate(222.2,1585.4) rotate(115)"/><use href="#sba" transform="translate(244.5,1600.1) rotate(288)"/><use href="#sbc" transform="translate(228.5,1580.7) rotate(125)"/><use href="#sba" transform="translate(192.3,1675.3) rotate(174)"/><use href="#sba" transform="translate(198.7,1596.4) rotate(147)"/><use href="#sbb" transform="translate(215.2,1553.1) rotate(203)"/><use href="#sbc" transform="translate(221.1,1577.0) rotate(208)"/><use href="#sbb" transform="translate(189.2,1668.0) rotate(269)"/><use href="#sbc" transform="translate(203.1,1590.0) rotate(205)"/><use href="#sbc" transform="translate(209.6,1567.1) rotate(172)"/><use href="#sbc" transform="translate(201.0,1643.6) rotate(150)"/><use href="#sbc" transform="translate(220.9,1618.8) rotate(109)"/><use href="#sbc" transform="translate(204.9,1579.3) rotate(116)"/><use href="#sbb" transform="translate(194.2,1638.4) rotate(84)"/><use href="#sbc" transform="translate(241.7,1611.4) rotate(54)"/><use href="#sba" transform="translate(213.8,1648.7) rotate(182)"/><use href="#sbb" transform="translate(231.8,1597.6) rotate(132)"/><use href="#sbc" transform="translate(211.1,1610.3) rotate(60)"/><use href="#sbc" transform="translate(254.7,1587.3) rotate(288)"/><use href="#sba" transform="translate(198.4,1669.8) rotate(71)"/><use href="#sbc" transform="translate(245.0,1587.8) rotate(109)"/><use href="#sba" transform="translate(193.4,1629.7) rotate(245)"/>
</g>
<clipPath id="w2"><polygon points="192.3,1671.7 344.0,1460.6 407.1,1525.2 444.2,1607.5 451.0,1697.5 426.6,1784.5 373.9,1857.8 299.3,1908.7 211.8,1931.0 121.9,1922.0 40.6,1882.8 31.9,1876.3"/></clipPath>
<g clip-path="url(#w2)"><rect x="60" y="1545" width="270" height="270" fill="#7a101a"/>
<use href="#src" transform="translate(298.4,1697.3) rotate(128)"/><use href="#srb" transform="translate(219.9,1727.0) rotate(315)"/><use href="#sra" transform="translate(279.1,1609.2) rotate(352)"/><use href="#sra" transform="translate(160.5,1750.1) rotate(318)"/><use href="#srb" transform="translate(157.7,1801.6) rotate(282)"/><use href="#sra" transform="translate(269.5,1703.0) rotate(252)"/><use href="#srb" transform="translate(258.9,1617.4) rotate(46)"/><use href="#sra" transform="translate(205.1,1689.3) rotate(187)"/><use href="#srb" transform="translate(194.0,1679.0) rotate(112)"/><use href="#srb" transform="translate(275.5,1636.6) rotate(324)"/><use href="#srb" transform="translate(165.8,1697.9) rotate(319)"/><use href="#src" transform="translate(140.0,1732.0) rotate(108)"/><use href="#src" transform="translate(271.6,1757.0) rotate(151)"/><use href="#srb" transform="translate(155.5,1729.7) rotate(217)"/><use href="#sra" transform="translate(171.5,1788.4) rotate(215)"/><use href="#srb" transform="translate(253.5,1643.1) rotate(221)"/><use href="#src" transform="translate(285.5,1649.9) rotate(74)"/><use href="#sra" transform="translate(267.2,1604.9) rotate(101)"/><use href="#srb" transform="translate(245.3,1613.7) rotate(207)"/><use href="#src" transform="translate(208.7,1718.5) rotate(164)"/><use href="#src" transform="translate(276.1,1715.0) rotate(186)"/><use href="#srb" transform="translate(139.4,1766.8) rotate(90)"/><use href="#src" transform="translate(176.8,1779.2) rotate(275)"/><use href="#src" transform="translate(257.2,1575.8) rotate(157)"/><use href="#sra" transform="translate(227.5,1731.0) rotate(158)"/><use href="#srb" transform="translate(178.7,1723.3) rotate(171)"/><use href="#srb" transform="translate(178.1,1753.5) rotate(159)"/><use href="#src" transform="translate(195.1,1797.0) rotate(98)"/><use href="#src" transform="translate(230.4,1766.9) rotate(187)"/><use href="#src" transform="translate(198.2,1664.7) rotate(138)"/><use href="#src" transform="translate(188.9,1706.2) rotate(181)"/><use href="#src" transform="translate(265.8,1765.4) rotate(211)"/><use href="#srb" transform="translate(234.9,1728.4) rotate(48)"/><use href="#src" transform="translate(196.3,1737.6) rotate(118)"/><use href="#srb" transform="translate(251.0,1625.0) rotate(276)"/><use href="#srb" transform="translate(153.3,1755.4) rotate(200)"/><use href="#srb" transform="translate(238.1,1752.6) rotate(244)"/><use href="#srb" transform="translate(273.3,1651.2) rotate(136)"/><use href="#src" transform="translate(217.2,1655.6) rotate(121)"/><use href="#src" transform="translate(169.9,1729.9) rotate(217)"/><use href="#srb" transform="translate(215.8,1773.9) rotate(345)"/><use href="#sra" transform="translate(223.3,1801.6) rotate(287)"/><use href="#srb" transform="translate(263.4,1710.8) rotate(82)"/><use href="#sra" transform="translate(136.5,1756.0) rotate(175)"/><use href="#sra" transform="translate(217.0,1633.1) rotate(269)"/><use href="#src" transform="translate(244.0,1757.6) rotate(348)"/><use href="#srb" transform="translate(254.3,1763.1) rotate(78)"/><use href="#srb" transform="translate(260.6,1751.2) rotate(11)"/><use href="#sra" transform="translate(176.2,1701.9) rotate(203)"/><use href="#srb" transform="translate(237.5,1736.9) rotate(358)"/><use href="#src" transform="translate(314.7,1707.5) rotate(73)"/><use href="#sra" transform="translate(163.0,1706.7) rotate(116)"/><use href="#srb" transform="translate(149.3,1776.4) rotate(304)"/><use href="#src" transform="translate(251.4,1678.3) rotate(298)"/><use href="#src" transform="translate(208.4,1801.1) rotate(319)"/><use href="#src" transform="translate(270.8,1739.5) rotate(298)"/><use href="#sra" transform="translate(265.6,1648.1) rotate(87)"/><use href="#sra" transform="translate(277.3,1700.2) rotate(343)"/><use href="#sra" transform="translate(233.9,1620.4) rotate(144)"/><use href="#src" transform="translate(312.0,1684.4) rotate(28)"/><use href="#sra" transform="translate(272.5,1581.8) rotate(275)"/><use href="#sra" transform="translate(218.0,1765.7) rotate(242)"/><use href="#srb" transform="translate(188.0,1714.7) rotate(45)"/><use href="#src" transform="translate(288.4,1638.6) rotate(44)"/><use href="#sra" transform="translate(182.5,1795.7) rotate(149)"/><use href="#sra" transform="translate(228.3,1792.6) rotate(93)"/><use href="#sra" transform="translate(264.2,1639.4) rotate(357)"/><use href="#srb" transform="translate(245.0,1748.7) rotate(129)"/><use href="#src" transform="translate(168.3,1716.7) rotate(307)"/><use href="#sra" transform="translate(113.4,1772.8) rotate(60)"/><use href="#srb" transform="translate(317.1,1678.5) rotate(172)"/><use href="#sra" transform="translate(306.4,1655.7) rotate(300)"/><use href="#src" transform="translate(308.3,1668.3) rotate(155)"/><use href="#srb" transform="translate(291.0,1731.4) rotate(50)"/><use href="#sra" transform="translate(250.2,1588.1) rotate(63)"/><use href="#srb" transform="translate(207.0,1771.3) rotate(299)"/><use href="#srb" transform="translate(220.7,1663.9) rotate(135)"/><use href="#sra" transform="translate(258.3,1730.6) rotate(108)"/><use href="#srb" transform="translate(256.4,1719.6) rotate(331)"/><use href="#src" transform="translate(270.6,1617.2) rotate(198)"/><use href="#sra" transform="translate(188.1,1769.5) rotate(78)"/><use href="#sra" transform="translate(290.8,1683.3) rotate(290)"/><use href="#sra" transform="translate(255.5,1741.0) rotate(193)"/><use href="#src" transform="translate(199.9,1789.1) rotate(9)"/><use href="#src" transform="translate(197.1,1698.7) rotate(211)"/><use href="#sra" transform="translate(188.5,1746.8) rotate(175)"/><use href="#srb" transform="translate(157.9,1791.1) rotate(137)"/><use href="#src" transform="translate(138.1,1748.2) rotate(51)"/><use href="#src" transform="translate(303.7,1675.1) rotate(224)"/><use href="#src" transform="translate(134.6,1779.7) rotate(280)"/><use href="#srb" transform="translate(184.8,1687.3) rotate(116)"/><use href="#sra" transform="translate(213.6,1646.0) rotate(267)"/><use href="#sra" transform="translate(233.3,1678.3) rotate(19)"/><use href="#srb" transform="translate(308.9,1639.4) rotate(201)"/><use href="#srb" transform="translate(213.4,1791.7) rotate(222)"/><use href="#sra" transform="translate(269.2,1591.5) rotate(355)"/><use href="#srb" transform="translate(160.5,1760.3) rotate(359)"/><use href="#sra" transform="translate(222.6,1755.0) rotate(180)"/><use href="#sra" transform="translate(288.9,1595.2) rotate(257)"/><use href="#src" transform="translate(253.7,1669.0) rotate(102)"/><use href="#src" transform="translate(144.2,1739.9) rotate(65)"/><use href="#src" transform="translate(288.7,1616.9) rotate(59)"/><use href="#sra" transform="translate(123.6,1754.1) rotate(303)"/><use href="#sra" transform="translate(245.4,1787.3) rotate(268)"/><use href="#sra" transform="translate(184.5,1762.6) rotate(16)"/><use href="#srb" transform="translate(225.7,1721.5) rotate(301)"/><use href="#src" transform="translate(197.4,1723.0) rotate(351)"/><use href="#sra" transform="translate(149.5,1768.4) rotate(287)"/><use href="#sra" transform="translate(242.2,1707.1) rotate(28)"/><use href="#src" transform="translate(271.1,1729.8) rotate(303)"/><use href="#sra" transform="translate(260.8,1674.9) rotate(156)"/><use href="#sra" transform="translate(245.7,1667.2) rotate(62)"/><use href="#sra" transform="translate(197.0,1776.9) rotate(253)"/><use href="#srb" transform="translate(287.1,1663.4) rotate(159)"/><use href="#src" transform="translate(231.2,1658.3) rotate(296)"/><use href="#sra" transform="translate(298.8,1628.9) rotate(153)"/><use href="#sra" transform="translate(209.0,1705.9) rotate(154)"/><use href="#sra" transform="translate(200.9,1761.7) rotate(125)"/><use href="#sra" transform="translate(233.6,1698.0) rotate(147)"/><use href="#srb" transform="translate(227.8,1615.6) rotate(215)"/><use href="#src" transform="translate(221.9,1644.0) rotate(302)"/><use href="#src" transform="translate(209.7,1737.4) rotate(95)"/><use href="#sra" transform="translate(225.5,1712.0) rotate(55)"/><use href="#srb" transform="translate(242.3,1593.5) rotate(262)"/><use href="#srb" transform="translate(208.3,1728.5) rotate(30)"/><use href="#src" transform="translate(233.2,1708.7) rotate(300)"/><use href="#srb" transform="translate(205.1,1697.3) rotate(314)"/><use href="#srb" transform="translate(171.7,1771.1) rotate(55)"/><use href="#srb" transform="translate(226.1,1686.2) rotate(309)"/><use href="#sra" transform="translate(244.6,1641.0) rotate(250)"/><use href="#srb" transform="translate(278.9,1729.5) rotate(154)"/><use href="#src" transform="translate(239.3,1782.4) rotate(278)"/><use href="#src" transform="translate(255.9,1782.3) rotate(227)"/><use href="#srb" transform="translate(176.1,1687.4) rotate(130)"/><use href="#srb" transform="translate(278.5,1625.8) rotate(198)"/><use href="#src" transform="translate(240.4,1657.5) rotate(102)"/><use href="#srb" transform="translate(317.0,1663.9) rotate(65)"/><use href="#src" transform="translate(225.7,1743.0) rotate(233)"/><use href="#src" transform="translate(305.9,1624.0) rotate(199)"/><use href="#srb" transform="translate(278.8,1748.4) rotate(195)"/><use href="#srb" transform="translate(291.2,1756.2) rotate(290)"/><use href="#src" transform="translate(283.3,1694.0) rotate(148)"/><use href="#sra" transform="translate(212.1,1693.9) rotate(319)"/><use href="#srb" transform="translate(155.4,1717.9) rotate(339)"/><use href="#sra" transform="translate(169.5,1753.6) rotate(137)"/><use href="#srb" transform="translate(190.7,1727.0) rotate(20)"/><use href="#src" transform="translate(202.9,1647.6) rotate(68)"/><use href="#src" transform="translate(245.7,1722.4) rotate(113)"/><use href="#srb" transform="translate(222.9,1696.3) rotate(6)"/><use href="#src" transform="translate(131.4,1761.8) rotate(195)"/><use href="#src" transform="translate(256.4,1772.1) rotate(319)"/><use href="#src" transform="translate(301.7,1725.3) rotate(164)"/><use href="#src" transform="translate(285.1,1716.1) rotate(260)"/><use href="#srb" transform="translate(253.8,1691.2) rotate(330)"/><use href="#srb" transform="translate(234.8,1629.6) rotate(57)"/><use href="#srb" transform="translate(205.7,1755.4) rotate(299)"/><use href="#src" transform="translate(122.5,1764.7) rotate(172)"/><use href="#src" transform="translate(255.5,1657.4) rotate(7)"/><use href="#srb" transform="translate(140.7,1784.6) rotate(358)"/><use href="#srb" transform="translate(158.4,1778.3) rotate(49)"/><use href="#srb" transform="translate(232.3,1642.4) rotate(347)"/><use href="#srb" transform="translate(217.1,1746.7) rotate(130)"/><use href="#sra" transform="translate(162.6,1734.1) rotate(28)"/><use href="#sra" transform="translate(259.3,1629.0) rotate(284)"/><use href="#sra" transform="translate(307.3,1715.3) rotate(84)"/><use href="#srb" transform="translate(294.7,1676.1) rotate(162)"/><use href="#srb" transform="translate(219.8,1785.1) rotate(142)"/><use href="#sra" transform="translate(283.8,1763.7) rotate(217)"/><use href="#src" transform="translate(223.0,1627.2) rotate(236)"/><use href="#srb" transform="translate(115.0,1761.9) rotate(281)"/><use href="#srb" transform="translate(299.1,1707.8) rotate(203)"/><use href="#srb" transform="translate(125.2,1783.3) rotate(254)"/><use href="#sra" transform="translate(250.6,1602.8) rotate(88)"/><use href="#src" transform="translate(154.6,1738.8) rotate(153)"/><use href="#src" transform="translate(233.2,1605.8) rotate(46)"/><use href="#srb" transform="translate(235.9,1745.1) rotate(350)"/><use href="#src" transform="translate(274.2,1670.6) rotate(287)"/><use href="#src" transform="translate(261.4,1585.4) rotate(64)"/><use href="#src" transform="translate(294.5,1654.2) rotate(335)"/><use href="#src" transform="translate(176.9,1742.9) rotate(93)"/><use href="#sra" transform="translate(265.1,1691.6) rotate(283)"/><use href="#src" transform="translate(196.8,1707.3) rotate(223)"/><use href="#sra" transform="translate(271.4,1630.1) rotate(245)"/><use href="#sra" transform="translate(165.7,1782.2) rotate(237)"/><use href="#srb" transform="translate(226.7,1774.5) rotate(147)"/><use href="#sra" transform="translate(174.6,1761.0) rotate(46)"/><use href="#srb" transform="translate(286.5,1631.1) rotate(257)"/><use href="#srb" transform="translate(218.8,1738.2) rotate(48)"/><use href="#srb" transform="translate(288.2,1741.7) rotate(352)"/><use href="#srb" transform="translate(309.7,1630.8) rotate(177)"/><use href="#srb" transform="translate(298.5,1736.4) rotate(29)"/><use href="#sra" transform="translate(234.7,1689.0) rotate(99)"/><use href="#src" transform="translate(145.4,1793.0) rotate(236)"/><use href="#srb" transform="translate(184.9,1733.2) rotate(61)"/><use href="#sra" transform="translate(186.6,1778.4) rotate(160)"/><use href="#sra" transform="translate(208.3,1672.5) rotate(34)"/><use href="#sra" transform="translate(128.9,1747.6) rotate(278)"/><use href="#src" transform="translate(312.9,1697.6) rotate(194)"/><use href="#srb" transform="translate(188.0,1787.3) rotate(50)"/><use href="#sra" transform="translate(240.7,1716.0) rotate(88)"/><use href="#sra" transform="translate(211.0,1638.1) rotate(150)"/><use href="#srb" transform="translate(244.2,1675.3) rotate(343)"/><use href="#sra" transform="translate(275.3,1764.7) rotate(41)"/><use href="#src" transform="translate(188.8,1694.7) rotate(254)"/><use href="#srb" transform="translate(132.9,1740.3) rotate(258)"/><use href="#srb" transform="translate(265.7,1782.1) rotate(340)"/><use href="#srb" transform="translate(275.7,1599.2) rotate(341)"/><use href="#sra" transform="translate(197.2,1752.3) rotate(276)"/><use href="#src" transform="translate(188.6,1670.2) rotate(16)"/><use href="#src" transform="translate(288.8,1603.5) rotate(236)"/><use href="#srb" transform="translate(127.2,1772.2) rotate(175)"/><use href="#srb" transform="translate(190.1,1805.8) rotate(75)"/><use href="#src" transform="translate(271.3,1682.1) rotate(298)"/><use href="#sra" transform="translate(162.0,1722.0) rotate(310)"/><use href="#srb" transform="translate(242.1,1622.6) rotate(354)"/><use href="#sra" transform="translate(284.9,1673.8) rotate(59)"/><use href="#src" transform="translate(242.5,1632.2) rotate(303)"/><use href="#sra" transform="translate(203.6,1681.0) rotate(177)"/><use href="#src" transform="translate(173.4,1709.8) rotate(29)"/><use href="#sra" transform="translate(235.8,1667.1) rotate(63)"/><use href="#sra" transform="translate(309.7,1724.1) rotate(4)"/><use href="#src" transform="translate(218.5,1678.6) rotate(264)"/><use href="#sra" transform="translate(262.7,1660.1) rotate(287)"/><use href="#src" transform="translate(295.9,1620.5) rotate(310)"/><use href="#src" transform="translate(318.0,1689.8) rotate(257)"/><use href="#srb" transform="translate(248.6,1714.1) rotate(310)"/><use href="#src" transform="translate(284.4,1704.5) rotate(258)"/><use href="#srb" transform="translate(279.5,1589.2) rotate(183)"/><use href="#src" transform="translate(221.8,1704.4) rotate(216)"/><use href="#srb" transform="translate(260.1,1608.1) rotate(262)"/><use href="#sra" transform="translate(169.5,1801.4) rotate(245)"/><use href="#srb" transform="translate(151.4,1784.1) rotate(127)"/><use href="#src" transform="translate(298.8,1664.8) rotate(191)"/><use href="#srb" transform="translate(166.8,1743.6) rotate(205)"/><use href="#srb" transform="translate(265.1,1773.5) rotate(127)"/><use href="#src" transform="translate(301.1,1644.7) rotate(294)"/><use href="#srb" transform="translate(217.8,1714.5) rotate(47)"/><use href="#sra" transform="translate(229.7,1650.0) rotate(260)"/><use href="#sra" transform="translate(179.3,1786.8) rotate(263)"/><use href="#srb" transform="translate(196.9,1689.1) rotate(237)"/><use href="#src" transform="translate(261.5,1684.7) rotate(193)"/><use href="#sra" transform="translate(144.9,1754.6) rotate(183)"/><use href="#src" transform="translate(179.8,1770.0) rotate(171)"/><use href="#srb" transform="translate(240.0,1765.8) rotate(97)"/><use href="#sra" transform="translate(281.0,1658.3) rotate(199)"/><use href="#sra" transform="translate(253.3,1706.2) rotate(97)"/><use href="#sra" transform="translate(208.5,1779.2) rotate(16)"/><use href="#srb" transform="translate(178.6,1802.4) rotate(350)"/><use href="#srb" transform="translate(280.0,1643.6) rotate(42)"/><use href="#srb" transform="translate(228.2,1634.1) rotate(305)"/><use href="#srb" transform="translate(269.8,1721.5) rotate(174)"/><use href="#sra" transform="translate(245.1,1732.7) rotate(164)"/><use href="#src" transform="translate(245.3,1775.2) rotate(87)"/><use href="#sra" transform="translate(298.2,1744.1) rotate(183)"/><use href="#sra" transform="translate(275.4,1773.4) rotate(13)"/><use href="#src" transform="translate(315.1,1649.1) rotate(182)"/><use href="#srb" transform="translate(260.5,1596.4) rotate(307)"/><use href="#sra" transform="translate(198.3,1656.7) rotate(19)"/><use href="#srb" transform="translate(234.8,1774.6) rotate(357)"/><use href="#src" transform="translate(260.2,1697.6) rotate(313)"/><use href="#src" transform="translate(297.1,1716.5) rotate(74)"/><use href="#srb" transform="translate(163.8,1771.5) rotate(240)"/><use href="#sra" transform="translate(191.5,1759.2) rotate(27)"/><use href="#srb" transform="translate(276.1,1691.1) rotate(309)"/><use href="#src" transform="translate(294.5,1611.0) rotate(167)"/><use href="#sra" transform="translate(232.5,1758.7) rotate(38)"/><use href="#src" transform="translate(244.1,1685.5) rotate(32)"/><use href="#src" transform="translate(291.0,1711.0) rotate(24)"/><use href="#sra" transform="translate(303.3,1613.9) rotate(309)"/><use href="#srb" transform="translate(165.8,1794.4) rotate(335)"/><use href="#srb" transform="translate(280.2,1682.1) rotate(187)"/><use href="#srb" transform="translate(243.8,1650.2) rotate(241)"/><use href="#srb" transform="translate(291.4,1694.0) rotate(205)"/><use href="#sra" transform="translate(212.6,1759.4) rotate(91)"/><use href="#src" transform="translate(302.8,1685.2) rotate(94)"/><use href="#src" transform="translate(206.4,1662.4) rotate(336)"/><use href="#sra" transform="translate(245.2,1696.9) rotate(336)"/><use href="#srb" transform="translate(239.4,1601.1) rotate(40)"/><use href="#sra" transform="translate(203.3,1742.7) rotate(35)"/><use href="#sra" transform="translate(135.5,1791.4) rotate(211)"/><use href="#srb" transform="translate(145.8,1721.3) rotate(154)"/><use href="#src" transform="translate(271.6,1660.8) rotate(207)"/><use href="#sra" transform="translate(266.4,1574.7) rotate(165)"/><use href="#sra" transform="translate(147.6,1730.2) rotate(280)"/><use href="#sra" transform="translate(149.9,1747.3) rotate(158)"/><use href="#sra" transform="translate(231.2,1784.9) rotate(255)"/><use href="#sra" transform="translate(278.6,1739.3) rotate(106)"/><use href="#srb" transform="translate(266.5,1669.7) rotate(73)"/><use href="#srb" transform="translate(291.3,1723.2) rotate(163)"/><use href="#sra" transform="translate(177.3,1734.8) rotate(225)"/><use href="#sra" transform="translate(199.8,1715.4) rotate(282)"/><use href="#sra" transform="translate(200.4,1803.0) rotate(320)"/><use href="#sra" transform="translate(237.8,1790.5) rotate(237)"/><use href="#srb" transform="translate(207.9,1653.9) rotate(20)"/><use href="#srb" transform="translate(174.7,1795.6) rotate(1)"/><use href="#src" transform="translate(180.2,1714.0) rotate(94)"/><use href="#sra" transform="translate(181.8,1676.8) rotate(42)"/><use href="#sra" transform="translate(267.4,1747.3) rotate(56)"/><use href="#srb" transform="translate(226.2,1672.2) rotate(172)"/><use href="#sra" transform="translate(298.5,1637.1) rotate(211)"/><use href="#sra" transform="translate(200.3,1730.4) rotate(198)"/><use href="#sra" transform="translate(292.4,1702.6) rotate(57)"/><use href="#src" transform="translate(212.9,1685.3) rotate(309)"/><use href="#sra" transform="translate(262.4,1737.2) rotate(148)"/><use href="#src" transform="translate(305.6,1693.1) rotate(49)"/><use href="#src" transform="translate(250.2,1633.9) rotate(324)"/><use href="#src" transform="translate(200.6,1672.8) rotate(187)"/><use href="#src" transform="translate(261.3,1758.9) rotate(186)"/><use href="#sra" transform="translate(252.9,1789.4) rotate(272)"/><use href="#src" transform="translate(247.2,1740.9) rotate(343)"/><use href="#sra" transform="translate(229.6,1749.7) rotate(274)"/>
</g>
<clipPath id="w3"><polygon points="192.3,1671.7 31.9,1876.3 -28.4,1809.1 -62.1,1725.3 -65.1,1635.1 -37.1,1549.2 18.7,1478.2 95.3,1430.5 183.7,1411.8 192.3,1411.7"/></clipPath>
<g clip-path="url(#w3)"><rect x="60" y="1545" width="270" height="270" fill="#b08a2c"/>
<use href="#sya" transform="translate(118.9,1640.2) rotate(349)"/><use href="#syb" transform="translate(115.7,1726.3) rotate(331)"/><use href="#sya" transform="translate(171.7,1612.8) rotate(51)"/><use href="#syb" transform="translate(185.0,1601.9) rotate(187)"/><use href="#syc" transform="translate(84.6,1686.9) rotate(261)"/><use href="#syb" transform="translate(134.0,1565.9) rotate(132)"/><use href="#syc" transform="translate(177.4,1644.1) rotate(254)"/><use href="#syc" transform="translate(162.7,1674.8) rotate(160)"/><use href="#sya" transform="translate(117.0,1741.0) rotate(334)"/><use href="#sya" transform="translate(119.0,1667.9) rotate(253)"/><use href="#syc" transform="translate(84.4,1699.0) rotate(14)"/><use href="#syc" transform="translate(151.4,1635.7) rotate(21)"/><use href="#sya" transform="translate(106.3,1732.7) rotate(58)"/><use href="#syb" transform="translate(120.7,1689.8) rotate(52)"/><use href="#sya" transform="translate(140.8,1612.8) rotate(344)"/><use href="#syb" transform="translate(140.3,1559.4) rotate(88)"/><use href="#sya" transform="translate(123.4,1715.0) rotate(314)"/><use href="#sya" transform="translate(79.3,1725.8) rotate(102)"/><use href="#sya" transform="translate(149.8,1680.7) rotate(236)"/><use href="#sya" transform="translate(143.5,1571.6) rotate(175)"/><use href="#syb" transform="translate(144.2,1656.4) rotate(18)"/><use href="#syb" transform="translate(108.6,1639.4) rotate(105)"/><use href="#sya" transform="translate(69.7,1664.3) rotate(37)"/><use href="#syb" transform="translate(100.8,1756.8) rotate(146)"/><use href="#syc" transform="translate(131.5,1604.4) rotate(135)"/><use href="#syc" transform="translate(112.6,1695.7) rotate(329)"/><use href="#sya" transform="translate(98.7,1645.0) rotate(194)"/><use href="#syb" transform="translate(103.2,1676.0) rotate(177)"/><use href="#sya" transform="translate(92.3,1735.0) rotate(60)"/><use href="#syb" transform="translate(196.1,1667.5) rotate(339)"/><use href="#sya" transform="translate(130.8,1690.0) rotate(172)"/><use href="#syb" transform="translate(152.7,1603.3) rotate(332)"/><use href="#syb" transform="translate(108.1,1685.1) rotate(339)"/><use href="#sya" transform="translate(128.5,1644.3) rotate(33)"/><use href="#sya" transform="translate(155.4,1662.7) rotate(289)"/><use href="#syc" transform="translate(115.9,1648.7) rotate(120)"/><use href="#syc" transform="translate(133.0,1719.8) rotate(199)"/><use href="#syc" transform="translate(83.7,1709.8) rotate(231)"/><use href="#sya" transform="translate(167.7,1634.0) rotate(286)"/><use href="#syc" transform="translate(83.5,1659.2) rotate(148)"/><use href="#sya" transform="translate(73.3,1702.2) rotate(123)"/><use href="#syb" transform="translate(132.5,1627.1) rotate(298)"/><use href="#syb" transform="translate(139.9,1648.4) rotate(260)"/><use href="#sya" transform="translate(95.8,1613.4) rotate(42)"/><use href="#sya" transform="translate(133.4,1682.4) rotate(157)"/><use href="#syc" transform="translate(176.9,1584.5) rotate(235)"/><use href="#syc" transform="translate(74.1,1717.3) rotate(139)"/><use href="#sya" transform="translate(83.5,1645.5) rotate(245)"/><use href="#sya" transform="translate(158.1,1582.5) rotate(325)"/><use href="#syc" transform="translate(165.9,1691.6) rotate(42)"/><use href="#syc" transform="translate(154.3,1648.4) rotate(161)"/><use href="#syc" transform="translate(99.4,1691.9) rotate(142)"/><use href="#sya" transform="translate(99.5,1662.2) rotate(349)"/><use href="#sya" transform="translate(180.7,1664.8) rotate(179)"/><use href="#syb" transform="translate(135.2,1705.9) rotate(115)"/><use href="#syc" transform="translate(161.3,1558.8) rotate(294)"/><use href="#syc" transform="translate(173.3,1655.1) rotate(279)"/><use href="#sya" transform="translate(87.2,1614.0) rotate(238)"/><use href="#syc" transform="translate(187.5,1631.6) rotate(167)"/><use href="#syc" transform="translate(103.0,1715.1) rotate(255)"/><use href="#sya" transform="translate(106.9,1588.7) rotate(128)"/><use href="#syb" transform="translate(82.1,1735.3) rotate(49)"/><use href="#syb" transform="translate(140.2,1737.7) rotate(94)"/><use href="#sya" transform="translate(110.3,1618.0) rotate(143)"/><use href="#syb" transform="translate(125.0,1706.6) rotate(306)"/><use href="#sya" transform="translate(120.0,1609.4) rotate(98)"/><use href="#syb" transform="translate(177.9,1561.5) rotate(77)"/><use href="#sya" transform="translate(179.8,1677.8) rotate(36)"/><use href="#sya" transform="translate(173.4,1572.2) rotate(334)"/><use href="#syb" transform="translate(92.5,1637.4) rotate(248)"/><use href="#syb" transform="translate(103.5,1628.1) rotate(50)"/><use href="#syb" transform="translate(69.6,1673.5) rotate(65)"/><use href="#syb" transform="translate(83.0,1627.7) rotate(299)"/><use href="#sya" transform="translate(105.2,1667.5) rotate(314)"/><use href="#sya" transform="translate(180.2,1619.3) rotate(281)"/><use href="#syb" transform="translate(97.2,1703.4) rotate(72)"/><use href="#syb" transform="translate(154.7,1694.8) rotate(163)"/><use href="#sya" transform="translate(106.4,1653.7) rotate(192)"/><use href="#syc" transform="translate(171.3,1697.8) rotate(252)"/><use href="#sya" transform="translate(132.1,1661.8) rotate(7)"/><use href="#syb" transform="translate(134.3,1752.8) rotate(110)"/><use href="#syb" transform="translate(94.5,1628.1) rotate(306)"/><use href="#syb" transform="translate(188.9,1619.8) rotate(275)"/><use href="#syb" transform="translate(188.7,1655.0) rotate(15)"/><use href="#sya" transform="translate(135.6,1634.8) rotate(161)"/><use href="#sya" transform="translate(91.2,1673.4) rotate(271)"/><use href="#syb" transform="translate(183.8,1573.6) rotate(97)"/><use href="#sya" transform="translate(154.9,1624.4) rotate(250)"/><use href="#sya" transform="translate(77.5,1634.2) rotate(358)"/><use href="#sya" transform="translate(164.8,1588.7) rotate(50)"/><use href="#syc" transform="translate(128.8,1730.2) rotate(161)"/><use href="#syb" transform="translate(127.4,1575.1) rotate(33)"/><use href="#syb" transform="translate(122.2,1752.0) rotate(270)"/><use href="#syb" transform="translate(109.6,1767.9) rotate(248)"/><use href="#syc" transform="translate(169.0,1560.3) rotate(228)"/><use href="#syc" transform="translate(164.4,1600.3) rotate(282)"/><use href="#sya" transform="translate(154.5,1594.7) rotate(112)"/><use href="#syb" transform="translate(94.2,1593.8) rotate(22)"/><use href="#syc" transform="translate(105.2,1698.8) rotate(94)"/><use href="#syb" transform="translate(108.3,1709.6) rotate(323)"/><use href="#sya" transform="translate(148.8,1731.2) rotate(136)"/><use href="#sya" transform="translate(132.5,1670.7) rotate(108)"/><use href="#sya" transform="translate(112.4,1630.3) rotate(234)"/><use href="#syc" transform="translate(135.8,1594.5) rotate(170)"/><use href="#sya" transform="translate(110.6,1578.3) rotate(343)"/><use href="#syb" transform="translate(145.4,1698.3) rotate(113)"/><use href="#syc" transform="translate(146.6,1710.2) rotate(82)"/><use href="#sya" transform="translate(94.3,1685.9) rotate(48)"/><use href="#syb" transform="translate(64.3,1685.9) rotate(267)"/><use href="#sya" transform="translate(162.1,1704.7) rotate(154)"/><use href="#syb" transform="translate(147.7,1688.7) rotate(228)"/><use href="#sya" transform="translate(117.1,1708.3) rotate(250)"/><use href="#syc" transform="translate(169.6,1551.7) rotate(266)"/><use href="#syb" transform="translate(144.0,1638.2) rotate(32)"/><use href="#sya" transform="translate(166.2,1577.8) rotate(144)"/><use href="#sya" transform="translate(174.4,1626.2) rotate(210)"/><use href="#sya" transform="translate(186.7,1611.9) rotate(321)"/><use href="#syc" transform="translate(115.3,1594.7) rotate(158)"/><use href="#sya" transform="translate(97.5,1724.1) rotate(255)"/><use href="#syc" transform="translate(90.9,1648.1) rotate(52)"/><use href="#sya" transform="translate(187.4,1672.6) rotate(152)"/><use href="#syc" transform="translate(187.4,1563.0) rotate(128)"/><use href="#sya" transform="translate(179.7,1549.1) rotate(38)"/><use href="#sya" transform="translate(160.1,1616.4) rotate(147)"/><use href="#sya" transform="translate(103.5,1744.4) rotate(146)"/><use href="#sya" transform="translate(150.0,1720.0) rotate(343)"/><use href="#syc" transform="translate(118.4,1570.9) rotate(122)"/><use href="#sya" transform="translate(145.7,1606.7) rotate(328)"/><use href="#syb" transform="translate(129.1,1587.5) rotate(77)"/><use href="#sya" transform="translate(116.5,1776.3) rotate(58)"/><use href="#syb" transform="translate(66.8,1653.7) rotate(326)"/><use href="#sya" transform="translate(180.2,1689.2) rotate(1)"/><use href="#syc" transform="translate(189.1,1595.0) rotate(254)"/><use href="#syc" transform="translate(106.9,1599.5) rotate(167)"/><use href="#syb" transform="translate(170.7,1676.2) rotate(340)"/><use href="#sya" transform="translate(183.7,1639.1) rotate(56)"/><use href="#syb" transform="translate(164.2,1659.3) rotate(78)"/><use href="#syb" transform="translate(129.2,1744.8) rotate(61)"/><use href="#syc" transform="translate(91.1,1755.0) rotate(353)"/><use href="#sya" transform="translate(141.5,1581.0) rotate(229)"/><use href="#sya" transform="translate(89.4,1715.8) rotate(232)"/><use href="#syb" transform="translate(126.7,1617.8) rotate(4)"/><use href="#sya" transform="translate(170.2,1684.0) rotate(318)"/><use href="#syb" transform="translate(101.8,1619.2) rotate(215)"/><use href="#syb" transform="translate(112.1,1750.3) rotate(143)"/><use href="#syb" transform="translate(151.0,1565.7) rotate(210)"/><use href="#sya" transform="translate(107.3,1721.7) rotate(176)"/><use href="#sya" transform="translate(120.7,1766.4) rotate(317)"/><use href="#sya" transform="translate(76.7,1618.5) rotate(239)"/><use href="#sya" transform="translate(123.7,1656.1) rotate(310)"/><use href="#sya" transform="translate(187.4,1583.9) rotate(59)"/><use href="#sya" transform="translate(106.8,1608.9) rotate(100)"/><use href="#syc" transform="translate(83.4,1606.8) rotate(171)"/><use href="#syc" transform="translate(135.2,1697.0) rotate(338)"/><use href="#syc" transform="translate(127.8,1757.7) rotate(72)"/><use href="#sya" transform="translate(143.8,1595.5) rotate(176)"/><use href="#syc" transform="translate(168.8,1667.5) rotate(348)"/><use href="#syc" transform="translate(146.6,1672.3) rotate(132)"/><use href="#syb" transform="translate(72.8,1627.2) rotate(188)"/><use href="#syb" transform="translate(77.3,1693.6) rotate(120)"/><use href="#sya" transform="translate(79.1,1675.0) rotate(80)"/><use href="#syb" transform="translate(149.0,1618.0) rotate(61)"/><use href="#syc" transform="translate(75.8,1653.8) rotate(168)"/><use href="#sya" transform="translate(181.0,1592.6) rotate(234)"/><use href="#syb" transform="translate(156.4,1573.1) rotate(80)"/><use href="#syc" transform="translate(140.8,1624.4) rotate(19)"/><use href="#syb" transform="translate(120.3,1698.6) rotate(75)"/><use href="#syb" transform="translate(119.7,1623.3) rotate(264)"/><use href="#sya" transform="translate(177.0,1602.7) rotate(358)"/><use href="#sya" transform="translate(102.2,1765.1) rotate(203)"/><use href="#sya" transform="translate(168.3,1711.4) rotate(51)"/><use href="#sya" transform="translate(71.1,1641.0) rotate(31)"/><use href="#sya" transform="translate(111.7,1661.5) rotate(356)"/><use href="#syb" transform="translate(155.1,1671.6) rotate(15)"/><use href="#sya" transform="translate(127.0,1596.1) rotate(39)"/><use href="#sya" transform="translate(165.1,1650.7) rotate(15)"/><use href="#sya" transform="translate(191.9,1645.2) rotate(236)"/><use href="#sya" transform="translate(89.0,1600.3) rotate(292)"/><use href="#syc" transform="translate(126.1,1567.1) rotate(211)"/><use href="#syc" transform="translate(159.9,1639.8) rotate(258)"/><use href="#syc" transform="translate(111.9,1674.4) rotate(254)"/><use href="#syb" transform="translate(122.5,1632.5) rotate(107)"/><use href="#syc" transform="translate(66.7,1707.0) rotate(96)"/><use href="#syc" transform="translate(114.4,1585.5) rotate(203)"/><use href="#syc" transform="translate(154.7,1712.8) rotate(109)"/><use href="#syb" transform="translate(160.7,1719.0) rotate(122)"/><use href="#syb" transform="translate(142.2,1723.9) rotate(196)"/><use href="#syc" transform="translate(150.0,1586.7) rotate(3)"/><use href="#syc" transform="translate(123.3,1680.9) rotate(165)"/><use href="#syc" transform="translate(152.4,1703.0) rotate(124)"/><use href="#syc" transform="translate(98.3,1601.6) rotate(76)"/><use href="#syc" transform="translate(188.6,1554.6) rotate(204)"/><use href="#syb" transform="translate(142.1,1664.9) rotate(210)"/><use href="#syc" transform="translate(90.2,1746.0) rotate(164)"/><use href="#syb" transform="translate(80.7,1667.2) rotate(221)"/><use href="#syc" transform="translate(164.7,1608.7) rotate(78)"/><use href="#syc" transform="translate(139.6,1676.2) rotate(284)"/><use href="#sya" transform="translate(124.9,1737.1) rotate(322)"/><use href="#syc" transform="translate(91.2,1662.5) rotate(299)"/><use href="#syc" transform="translate(148.0,1557.3) rotate(204)"/><use href="#sya" transform="translate(166.2,1568.8) rotate(303)"/><use href="#syb" transform="translate(62.6,1667.8) rotate(157)"/><use href="#syb" transform="translate(74.4,1685.9) rotate(106)"/><use href="#syc" transform="translate(87.5,1728.1) rotate(323)"/><use href="#sya" transform="translate(166.0,1621.7) rotate(208)"/><use href="#sya" transform="translate(114.2,1759.5) rotate(170)"/><use href="#sya" transform="translate(159.5,1631.7) rotate(10)"/><use href="#syc" transform="translate(64.8,1697.5) rotate(157)"/><use href="#syc" transform="translate(81.4,1743.2) rotate(164)"/><use href="#sya" transform="translate(189.0,1680.3) rotate(241)"/><use href="#sya" transform="translate(97.8,1653.6) rotate(119)"/><use href="#syc" transform="translate(121.7,1601.7) rotate(299)"/><use href="#syb" transform="translate(181.1,1656.5) rotate(36)"/><use href="#syb" transform="translate(169.4,1644.0) rotate(179)"/><use href="#syb" transform="translate(191.7,1575.4) rotate(197)"/><use href="#sya" transform="translate(120.4,1580.0) rotate(52)"/><use href="#syb" transform="translate(172.0,1592.8) rotate(59)"/><use href="#syc" transform="translate(135.1,1618.5) rotate(161)"/><use href="#sya" transform="translate(114.3,1717.5) rotate(204)"/><use href="#sya" transform="translate(148.8,1578.1) rotate(234)"/><use href="#syb" transform="translate(125.0,1673.2) rotate(86)"/><use href="#syb" transform="translate(89.1,1622.4) rotate(133)"/><use href="#syb" transform="translate(161.8,1683.5) rotate(7)"/><use href="#sya" transform="translate(191.9,1605.7) rotate(30)"/><use href="#syb" transform="translate(156.4,1725.6) rotate(189)"/><use href="#sya" transform="translate(196.5,1675.4) rotate(110)"/><use href="#syb" transform="translate(131.0,1712.3) rotate(211)"/><use href="#syb" transform="translate(131.2,1652.0) rotate(83)"/>
</g>
<line x1="192.3" y1="1671.7" x2="192.3" y2="1411.7" stroke="#fff" stroke-width="3"/>
<line x1="192.3" y1="1671.7" x2="229.8" y2="1414.4" stroke="#fff" stroke-width="3"/>
<line x1="192.3" y1="1671.7" x2="344.0" y2="1460.6" stroke="#fff" stroke-width="3"/>
<line x1="192.3" y1="1671.7" x2="31.9" y2="1876.3" stroke="#fff" stroke-width="3"/>
</g>
<rect x="270" y="1663" width="60" height="2.2" fill="#e8131b"/>
<circle cx="336.7" cy="1664" r="11" fill="#e8131b"/>
<text x="364.5" y="1610" font-size="21.2" font-weight="bold" font-style="italic" fill="#111" textLength="282" lengthAdjust="spacingAndGlyphs" stroke="#111" stroke-width="0.5">Asia Pacific Market Share</text>
<text font-size="58" font-weight="bold" fill="#e8131b" stroke="#e8131b" stroke-width="0.8"><tspan x="367.0" y="1682" textLength="33.9" lengthAdjust="spacingAndGlyphs">&gt;</tspan><tspan x="405.1" y="1682" textLength="38.4" lengthAdjust="spacingAndGlyphs">5</tspan><tspan x="442.3" y="1682" textLength="43.2" lengthAdjust="spacingAndGlyphs">0</tspan><tspan x="483.1" y="1682" textLength="47.8" lengthAdjust="spacingAndGlyphs">%</tspan></text>
<text x="543" y="1682" font-size="20.4" font-weight="bold" font-style="italic" fill="#111" textLength="77" lengthAdjust="spacingAndGlyphs" stroke="#111" stroke-width="0.4">(2017)</text>
<rect x="370" y="1729.5" width="17.5" height="17.5" fill="#5a3c00"/>
<text x="405" y="1744.7" font-size="18" fill="#111" textLength="74" lengthAdjust="spacingAndGlyphs">Americas</text>
<rect x="370" y="1768" width="17.5" height="17.5" fill="#4a76a8"/>
<text x="405" y="1783.2" font-size="18" fill="#111" textLength="58" lengthAdjust="spacingAndGlyphs">Europe</text>
<rect x="557.5" y="1729.5" width="17.5" height="17.5" fill="#e8131b"/>
<text x="589" y="1744.7" font-size="18" fill="#111" textLength="90" lengthAdjust="spacingAndGlyphs">Asia Pacific</text>
<rect x="557.5" y="1768.5" width="17.5" height="17.5" fill="#ffc843"/>
<text x="589" y="1783.7" font-size="18" fill="#111" textLength="158.5" lengthAdjust="spacingAndGlyphs">Middle East &amp; Africa</text>
<g>
<polygon points="168,71 268,78 273,108 156,108" fill="#ebd19a"/>
<polygon points="168,71 268,78 268.6,82 166.5,76" fill="#e0c083"/>
<circle cx="117.8" cy="20.0" r="5.8" fill="#2f8c3c"/><circle cx="115.9" cy="25.0" r="5.8" fill="#2f8c3c"/><circle cx="111.3" cy="27.6" r="5.8" fill="#2f8c3c"/><circle cx="106.1" cy="26.7" r="5.8" fill="#2f8c3c"/><circle cx="102.7" cy="22.7" r="5.8" fill="#2f8c3c"/><circle cx="102.7" cy="17.3" r="5.8" fill="#2f8c3c"/><circle cx="106.1" cy="13.3" r="5.8" fill="#2f8c3c"/><circle cx="111.3" cy="12.4" r="5.8" fill="#2f8c3c"/><circle cx="115.9" cy="15.0" r="5.8" fill="#2f8c3c"/><circle cx="110" cy="20" r="8.8" fill="#2f8c3c"/><circle cx="108.1" cy="18.1" r="5.6" fill="#45a64c" opacity="0.75"/><path d="M102.5 26.2 L115.0 13.8" stroke="#2f8c3c" stroke-width="0.8" opacity="0.8"/>
<circle cx="98.8" cy="14.0" r="5.1" fill="#379a3c"/><circle cx="97.2" cy="18.4" r="5.1" fill="#379a3c"/><circle cx="93.2" cy="20.7" r="5.1" fill="#379a3c"/><circle cx="88.6" cy="19.9" r="5.1" fill="#379a3c"/><circle cx="85.6" cy="16.3" r="5.1" fill="#379a3c"/><circle cx="85.6" cy="11.7" r="5.1" fill="#379a3c"/><circle cx="88.6" cy="8.1" r="5.1" fill="#379a3c"/><circle cx="93.2" cy="7.3" r="5.1" fill="#379a3c"/><circle cx="97.2" cy="9.6" r="5.1" fill="#379a3c"/><circle cx="92" cy="14" r="7.7" fill="#379a3c"/><circle cx="90.3" cy="12.3" r="5.0" fill="#52b450" opacity="0.75"/><path d="M85.4 19.5 L96.4 8.5" stroke="#379a3c" stroke-width="0.8" opacity="0.8"/>
<path d="M30 67 Q36 58 47 50 Q58 42 70 37 Q78 33 87 31 Q96 29 105 29 Q116 24 125 25 Q133 26 140 29 Q151 32 160 36 Q169 40 175 44 Q181 47 180 51 Q177 58 172 65 Q169 74 165 82 Q160 90 152 95 Q140 100 125 101 Q112 103 100 101 Q86 99 75 96 Q62 92 50 86 Q40 80 35 75 Q30 71 30 67Z" fill="url(#pbig)"/>
<ellipse cx="31.1" cy="67.0" rx="3.2" ry="1.9" fill="#cf9e54" stroke="#b98c4a" stroke-width="0.35" transform="rotate(50 31.1 67.0)"/><ellipse cx="33.2" cy="62.5" rx="3.2" ry="1.9" fill="#ebcd90" stroke="#b98c4a" stroke-width="0.35" transform="rotate(176 33.2 62.5)"/><ellipse cx="34.6" cy="59.9" rx="3.2" ry="1.9" fill="#f5e4ba" stroke="#b98c4a" stroke-width="0.35" transform="rotate(87 34.6 59.9)"/><ellipse cx="38.5" cy="55.9" rx="3.2" ry="1.9" fill="#d9ae66" stroke="#b98c4a" stroke-width="0.35" transform="rotate(56 38.5 55.9)"/><ellipse cx="42.4" cy="55.0" rx="3.2" ry="1.9" fill="#f1daa8" stroke="#b98c4a" stroke-width="0.35" transform="rotate(122 42.4 55.0)"/><ellipse cx="46.6" cy="51.5" rx="3.2" ry="1.9" fill="#efd7a2" stroke="#b98c4a" stroke-width="0.35" transform="rotate(123 46.6 51.5)"/><ellipse cx="48.3" cy="49.9" rx="3.2" ry="1.9" fill="#efd7a2" stroke="#b98c4a" stroke-width="0.35" transform="rotate(179 48.3 49.9)"/><ellipse cx="51.1" cy="45.6" rx="3.2" ry="1.9" fill="#f5e4ba" stroke="#b98c4a" stroke-width="0.35" transform="rotate(44 51.1 45.6)"/><ellipse cx="54.6" cy="44.7" rx="3.2" ry="1.9" fill="#d9ae66" stroke="#b98c4a" stroke-width="0.35" transform="rotate(100 54.6 44.7)"/><ellipse cx="57.2" cy="40.3" rx="3.2" ry="1.9" fill="#cf9e54" stroke="#b98c4a" stroke-width="0.35" transform="rotate(157 57.2 40.3)"/><ellipse cx="64.8" cy="38.3" rx="3.2" ry="1.9" fill="#f1daa8" stroke="#b98c4a" stroke-width="0.35" transform="rotate(17 64.8 38.3)"/><ellipse cx="65.3" cy="37.6" rx="3.2" ry="1.9" fill="#e4c384" stroke="#b98c4a" stroke-width="0.35" transform="rotate(37 65.3 37.6)"/><ellipse cx="71.0" cy="36.8" rx="3.2" ry="1.9" fill="#ebcd90" stroke="#b98c4a" stroke-width="0.35" transform="rotate(142 71.0 36.8)"/><ellipse cx="75.4" cy="34.8" rx="3.2" ry="1.9" fill="#d9ae66" stroke="#b98c4a" stroke-width="0.35" transform="rotate(13 75.4 34.8)"/><ellipse cx="78.4" cy="33.9" rx="3.2" ry="1.9" fill="#e4c384" stroke="#b98c4a" stroke-width="0.35" transform="rotate(120 78.4 33.9)"/><ellipse cx="80.4" cy="33.2" rx="3.2" ry="1.9" fill="#f1daa8" stroke="#b98c4a" stroke-width="0.35" transform="rotate(57 80.4 33.2)"/><ellipse cx="84.0" cy="31.7" rx="3.2" ry="1.9" fill="#efd7a2" stroke="#b98c4a" stroke-width="0.35" transform="rotate(110 84.0 31.7)"/><ellipse cx="89.7" cy="32.2" rx="3.2" ry="1.9" fill="#f5e4ba" stroke="#b98c4a" stroke-width="0.35" transform="rotate(51 89.7 32.2)"/><ellipse cx="91.5" cy="29.7" rx="3.2" ry="1.9" fill="#f1daa8" stroke="#b98c4a" stroke-width="0.35" transform="rotate(158 91.5 29.7)"/><ellipse cx="93.7" cy="29.8" rx="3.2" ry="1.9" fill="#f5e4ba" stroke="#b98c4a" stroke-width="0.35" transform="rotate(145 93.7 29.8)"/><ellipse cx="99.6" cy="31.1" rx="3.2" ry="1.9" fill="#f5e4ba" stroke="#b98c4a" stroke-width="0.35" transform="rotate(58 99.6 31.1)"/><ellipse cx="102.3" cy="29.9" rx="3.2" ry="1.9" fill="#d9ae66" stroke="#b98c4a" stroke-width="0.35" transform="rotate(64 102.3 29.9)"/><ellipse cx="107.0" cy="30.2" rx="3.2" ry="1.9" fill="#f1daa8" stroke="#b98c4a" stroke-width="0.35" transform="rotate(156 107.0 30.2)"/><ellipse cx="111.6" cy="26.3" rx="3.2" ry="1.9" fill="#cf9e54" stroke="#b98c4a" stroke-width="0.35" transform="rotate(134 111.6 26.3)"/><ellipse cx="113.0" cy="28.3" rx="3.2" ry="1.9" fill="#efd7a2" stroke="#b98c4a" stroke-width="0.35" transform="rotate(153 113.0 28.3)"/><ellipse cx="117.4" cy="25.3" rx="3.2" ry="1.9" fill="#efd7a2" stroke="#b98c4a" stroke-width="0.35" transform="rotate(171 117.4 25.3)"/><ellipse cx="121.7" cy="24.2" rx="3.2" ry="1.9" fill="#ebcd90" stroke="#b98c4a" stroke-width="0.35" transform="rotate(78 121.7 24.2)"/><ellipse cx="125.0" cy="26.8" rx="3.2" ry="1.9" fill="#efd7a2" stroke="#b98c4a" stroke-width="0.35" transform="rotate(74 125.0 26.8)"/><ellipse cx="129.4" cy="25.0" rx="3.2" ry="1.9" fill="#f1daa8" stroke="#b98c4a" stroke-width="0.35" transform="rotate(4 129.4 25.0)"/><ellipse cx="133.2" cy="27.7" rx="3.2" ry="1.9" fill="#efd7a2" stroke="#b98c4a" stroke-width="0.35" transform="rotate(60 133.2 27.7)"/><ellipse cx="138.8" cy="29.7" rx="3.2" ry="1.9" fill="#f1daa8" stroke="#b98c4a" stroke-width="0.35" transform="rotate(174 138.8 29.7)"/><ellipse cx="142.9" cy="30.5" rx="3.2" ry="1.9" fill="#f5e4ba" stroke="#b98c4a" stroke-width="0.35" transform="rotate(90 142.9 30.5)"/><ellipse cx="144.9" cy="29.7" rx="3.2" ry="1.9" fill="#f5e4ba" stroke="#b98c4a" stroke-width="0.35" transform="rotate(60 144.9 29.7)"/><ellipse cx="149.7" cy="31.4" rx="3.2" ry="1.9" fill="#ebcd90" stroke="#b98c4a" stroke-width="0.35" transform="rotate(156 149.7 31.4)"/><ellipse cx="151.3" cy="32.1" rx="3.2" ry="1.9" fill="#e4c384" stroke="#b98c4a" stroke-width="0.35" transform="rotate(75 151.3 32.1)"/><ellipse cx="156.3" cy="34.6" rx="3.2" ry="1.9" fill="#cf9e54" stroke="#b98c4a" stroke-width="0.35" transform="rotate(58 156.3 34.6)"/><ellipse cx="159.0" cy="34.9" rx="3.2" ry="1.9" fill="#f5e4ba" stroke="#b98c4a" stroke-width="0.35" transform="rotate(61 159.0 34.9)"/><ellipse cx="164.6" cy="39.2" rx="3.2" ry="1.9" fill="#d9ae66" stroke="#b98c4a" stroke-width="0.35" transform="rotate(147 164.6 39.2)"/><ellipse cx="168.1" cy="39.8" rx="3.2" ry="1.9" fill="#e4c384" stroke="#b98c4a" stroke-width="0.35" transform="rotate(130 168.1 39.8)"/><ellipse cx="172.3" cy="42.6" rx="3.2" ry="1.9" fill="#efd7a2" stroke="#b98c4a" stroke-width="0.35" transform="rotate(5 172.3 42.6)"/><ellipse cx="176.7" cy="44.7" rx="3.2" ry="1.9" fill="#f5e4ba" stroke="#b98c4a" stroke-width="0.35" transform="rotate(172 176.7 44.7)"/><ellipse cx="177.5" cy="49.1" rx="3.2" ry="1.9" fill="#e4c384" stroke="#b98c4a" stroke-width="0.35" transform="rotate(121 177.5 49.1)"/><ellipse cx="180.3" cy="51.7" rx="3.2" ry="1.9" fill="#efd7a2" stroke="#b98c4a" stroke-width="0.35" transform="rotate(158 180.3 51.7)"/><ellipse cx="177.0" cy="57.2" rx="3.2" ry="1.9" fill="#f1daa8" stroke="#b98c4a" stroke-width="0.35" transform="rotate(157 177.0 57.2)"/><ellipse cx="176.5" cy="58.2" rx="3.2" ry="1.9" fill="#f5e4ba" stroke="#b98c4a" stroke-width="0.35" transform="rotate(131 176.5 58.2)"/><ellipse cx="172.4" cy="63.4" rx="3.2" ry="1.9" fill="#f1daa8" stroke="#b98c4a" stroke-width="0.35" transform="rotate(171 172.4 63.4)"/><ellipse cx="172.1" cy="67.4" rx="3.2" ry="1.9" fill="#d9ae66" stroke="#b98c4a" stroke-width="0.35" transform="rotate(66 172.1 67.4)"/><ellipse cx="169.6" cy="67.2" rx="3.2" ry="1.9" fill="#d9ae66" stroke="#b98c4a" stroke-width="0.35" transform="rotate(30 169.6 67.2)"/><ellipse cx="170.2" cy="73.5" rx="3.2" ry="1.9" fill="#e4c384" stroke="#b98c4a" stroke-width="0.35" transform="rotate(24 170.2 73.5)"/><ellipse cx="166.6" cy="75.5" rx="3.2" ry="1.9" fill="#ebcd90" stroke="#b98c4a" stroke-width="0.35" transform="rotate(163 166.6 75.5)"/><ellipse cx="166.9" cy="79.3" rx="3.2" ry="1.9" fill="#ebcd90" stroke="#b98c4a" stroke-width="0.35" transform="rotate(17 166.9 79.3)"/><ellipse cx="163.8" cy="83.1" rx="3.2" ry="1.9" fill="#d9ae66" stroke="#b98c4a" stroke-width="0.35" transform="rotate(142 163.8 83.1)"/><ellipse cx="161.7" cy="84.8" rx="3.2" ry="1.9" fill="#ebcd90" stroke="#b98c4a" stroke-width="0.35" transform="rotate(97 161.7 84.8)"/><ellipse cx="159.4" cy="89.2" rx="3.2" ry="1.9" fill="#d9ae66" stroke="#b98c4a" stroke-width="0.35" transform="rotate(122 159.4 89.2)"/><ellipse cx="156.2" cy="91.3" rx="3.2" ry="1.9" fill="#f1daa8" stroke="#b98c4a" stroke-width="0.35" transform="rotate(55 156.2 91.3)"/><ellipse cx="154.0" cy="91.8" rx="3.2" ry="1.9" fill="#f5e4ba" stroke="#b98c4a" stroke-width="0.35" transform="rotate(132 154.0 91.8)"/><ellipse cx="152.0" cy="94.4" rx="3.2" ry="1.9" fill="#f1daa8" stroke="#b98c4a" stroke-width="0.35" transform="rotate(108 152.0 94.4)"/><ellipse cx="146.6" cy="96.7" rx="3.2" ry="1.9" fill="#d9ae66" stroke="#b98c4a" stroke-width="0.35" transform="rotate(36 146.6 96.7)"/><ellipse cx="143.7" cy="96.2" rx="3.2" ry="1.9" fill="#cf9e54" stroke="#b98c4a" stroke-width="0.35" transform="rotate(148 143.7 96.2)"/><ellipse cx="140.2" cy="98.2" rx="3.2" ry="1.9" fill="#f5e4ba" stroke="#b98c4a" stroke-width="0.35" transform="rotate(148 140.2 98.2)"/><ellipse cx="135.1" cy="97.4" rx="3.2" ry="1.9" fill="#e4c384" stroke="#b98c4a" stroke-width="0.35" transform="rotate(142 135.1 97.4)"/><ellipse cx="133.3" cy="97.9" rx="3.2" ry="1.9" fill="#f5e4ba" stroke="#b98c4a" stroke-width="0.35" transform="rotate(75 133.3 97.9)"/><ellipse cx="126.9" cy="101.4" rx="3.2" ry="1.9" fill="#f1daa8" stroke="#b98c4a" stroke-width="0.35" transform="rotate(120 126.9 101.4)"/><ellipse cx="123.5" cy="99.6" rx="3.2" ry="1.9" fill="#ebcd90" stroke="#b98c4a" stroke-width="0.35" transform="rotate(3 123.5 99.6)"/><ellipse cx="120.8" cy="99.7" rx="3.2" ry="1.9" fill="#f5e4ba" stroke="#b98c4a" stroke-width="0.35" transform="rotate(81 120.8 99.7)"/><ellipse cx="116.3" cy="100.5" rx="3.2" ry="1.9" fill="#e4c384" stroke="#b98c4a" stroke-width="0.35" transform="rotate(32 116.3 100.5)"/><ellipse cx="109.5" cy="100.0" rx="3.2" ry="1.9" fill="#f5e4ba" stroke="#b98c4a" stroke-width="0.35" transform="rotate(146 109.5 100.0)"/><ellipse cx="108.3" cy="100.3" rx="3.2" ry="1.9" fill="#efd7a2" stroke="#b98c4a" stroke-width="0.35" transform="rotate(120 108.3 100.3)"/><ellipse cx="103.7" cy="99.6" rx="3.2" ry="1.9" fill="#ebcd90" stroke="#b98c4a" stroke-width="0.35" transform="rotate(96 103.7 99.6)"/><ellipse cx="97.2" cy="99.5" rx="3.2" ry="1.9" fill="#e4c384" stroke="#b98c4a" stroke-width="0.35" transform="rotate(89 97.2 99.5)"/><ellipse cx="94.5" cy="100.5" rx="3.2" ry="1.9" fill="#e4c384" stroke="#b98c4a" stroke-width="0.35" transform="rotate(52 94.5 100.5)"/><ellipse cx="93.2" cy="100.0" rx="3.2" ry="1.9" fill="#efd7a2" stroke="#b98c4a" stroke-width="0.35" transform="rotate(88 93.2 100.0)"/><ellipse cx="89.7" cy="97.9" rx="3.2" ry="1.9" fill="#cf9e54" stroke="#b98c4a" stroke-width="0.35" transform="rotate(61 89.7 97.9)"/><ellipse cx="85.5" cy="97.9" rx="3.2" ry="1.9" fill="#e4c384" stroke="#b98c4a" stroke-width="0.35" transform="rotate(130 85.5 97.9)"/><ellipse cx="79.1" cy="97.6" rx="3.2" ry="1.9" fill="#ebcd90" stroke="#b98c4a" stroke-width="0.35" transform="rotate(15 79.1 97.6)"/><ellipse cx="76.9" cy="95.6" rx="3.2" ry="1.9" fill="#cf9e54" stroke="#b98c4a" stroke-width="0.35" transform="rotate(25 76.9 95.6)"/><ellipse cx="74.6" cy="96.1" rx="3.2" ry="1.9" fill="#cf9e54" stroke="#b98c4a" stroke-width="0.35" transform="rotate(110 74.6 96.1)"/><ellipse cx="72.4" cy="95.8" rx="3.2" ry="1.9" fill="#ebcd90" stroke="#b98c4a" stroke-width="0.35" transform="rotate(107 72.4 95.8)"/><ellipse cx="65.9" cy="93.5" rx="3.2" ry="1.9" fill="#f1daa8" stroke="#b98c4a" stroke-width="0.35" transform="rotate(66 65.9 93.5)"/><ellipse cx="62.0" cy="90.3" rx="3.2" ry="1.9" fill="#e4c384" stroke="#b98c4a" stroke-width="0.35" transform="rotate(27 62.0 90.3)"/><ellipse cx="59.0" cy="90.3" rx="3.2" ry="1.9" fill="#f5e4ba" stroke="#b98c4a" stroke-width="0.35" transform="rotate(161 59.0 90.3)"/><ellipse cx="55.6" cy="88.7" rx="3.2" ry="1.9" fill="#ebcd90" stroke="#b98c4a" stroke-width="0.35" transform="rotate(27 55.6 88.7)"/><ellipse cx="52.0" cy="87.5" rx="3.2" ry="1.9" fill="#e4c384" stroke="#b98c4a" stroke-width="0.35" transform="rotate(150 52.0 87.5)"/><ellipse cx="47.1" cy="83.4" rx="3.2" ry="1.9" fill="#d9ae66" stroke="#b98c4a" stroke-width="0.35" transform="rotate(41 47.1 83.4)"/><ellipse cx="45.6" cy="83.4" rx="3.2" ry="1.9" fill="#d9ae66" stroke="#b98c4a" stroke-width="0.35" transform="rotate(65 45.6 83.4)"/><ellipse cx="43.4" cy="79.8" rx="3.2" ry="1.9" fill="#e4c384" stroke="#b98c4a" stroke-width="0.35" transform="rotate(147 43.4 79.8)"/><ellipse cx="38.8" cy="77.7" rx="3.2" ry="1.9" fill="#cf9e54" stroke="#b98c4a" stroke-width="0.35" transform="rotate(178 38.8 77.7)"/><ellipse cx="36.2" cy="76.9" rx="3.2" ry="1.9" fill="#ebcd90" stroke="#b98c4a" stroke-width="0.35" transform="rotate(11 36.2 76.9)"/><ellipse cx="34.7" cy="71.9" rx="3.2" ry="1.9" fill="#f5e4ba" stroke="#b98c4a" stroke-width="0.35" transform="rotate(99 34.7 71.9)"/><ellipse cx="31.7" cy="71.6" rx="3.2" ry="1.9" fill="#efd7a2" stroke="#b98c4a" stroke-width="0.35" transform="rotate(40 31.7 71.6)"/>
<circle cx="83.9" cy="32.0" r="4.4" fill="#3d9636"/><circle cx="82.5" cy="35.8" r="4.4" fill="#3d9636"/><circle cx="79.0" cy="37.8" r="4.4" fill="#3d9636"/><circle cx="75.1" cy="37.1" r="4.4" fill="#3d9636"/><circle cx="72.5" cy="34.0" r="4.4" fill="#3d9636"/><circle cx="72.5" cy="30.0" r="4.4" fill="#3d9636"/><circle cx="75.1" cy="26.9" r="4.4" fill="#3d9636"/><circle cx="79.0" cy="26.2" r="4.4" fill="#3d9636"/><circle cx="82.5" cy="28.2" r="4.4" fill="#3d9636"/><circle cx="78" cy="32" r="6.6" fill="#3d9636"/><circle cx="76.6" cy="30.6" r="4.3" fill="#58b04a" opacity="0.75"/><path d="M72.3 36.8 L81.8 27.2" stroke="#3d9636" stroke-width="0.8" opacity="0.8"/>
<ellipse cx="29" cy="51" rx="3.4" ry="2" fill="#b67f38" stroke="#a57c3e" stroke-width="0.35" transform="rotate(30 29 51)"/><ellipse cx="25" cy="69" rx="3.4" ry="2" fill="#b67f38" stroke="#a57c3e" stroke-width="0.35" transform="rotate(114 25 69)"/><ellipse cx="15" cy="85" rx="3.4" ry="2" fill="#b67f38" stroke="#a57c3e" stroke-width="0.35" transform="rotate(152 15 85)"/><ellipse cx="34" cy="85" rx="3.4" ry="2" fill="#dcb874" stroke="#a57c3e" stroke-width="0.35" transform="rotate(145 34 85)"/><ellipse cx="41" cy="94" rx="3.4" ry="2" fill="#dcb874" stroke="#a57c3e" stroke-width="0.35" transform="rotate(91 41 94)"/><ellipse cx="80" cy="108" rx="3.4" ry="2" fill="#e9cf98" stroke="#a57c3e" stroke-width="0.35" transform="rotate(142 80 108)"/><ellipse cx="41" cy="46" rx="3.4" ry="2" fill="#b67f38" stroke="#a57c3e" stroke-width="0.35" transform="rotate(67 41 46)"/><ellipse cx="51" cy="92" rx="3.4" ry="2" fill="#dcb874" stroke="#a57c3e" stroke-width="0.35" transform="rotate(12 51 92)"/><ellipse cx="33" cy="57" rx="3.4" ry="2" fill="#e9cf98" stroke="#a57c3e" stroke-width="0.35" transform="rotate(166 33 57)"/><ellipse cx="150" cy="100" rx="3.4" ry="2" fill="#b67f38" stroke="#a57c3e" stroke-width="0.35" transform="rotate(79 150 100)"/><ellipse cx="62" cy="100" rx="3.4" ry="2" fill="#e9cf98" stroke="#a57c3e" stroke-width="0.35" transform="rotate(111 62 100)"/><ellipse cx="22" cy="60" rx="3.4" ry="2" fill="#b67f38" stroke="#a57c3e" stroke-width="0.35" transform="rotate(172 22 60)"/>
<path d="M214 62 Q214.3 51.1 207 43 Q206.7 53.9 214 62Z" fill="#3c9a2c"/>
<path d="M214 62 Q219.2 52.4 216 42 Q210.8 51.6 214 62Z" fill="#3c9a2c"/>
<path d="M214 62 Q222.4 55.5 224 45 Q215.6 51.5 214 62Z" fill="#3c9a2c"/>
<path d="M214 62 Q222.9 61.4 229 55 Q220.1 55.6 214 62Z" fill="#3c9a2c"/>
<path d="M185 19 L185 42 Q184 50 176 56 Q170 61 170 69 Q170 85 188 85 Q206 85 206 69 Q206 61 200 56 Q193 50 193 42 L193 19Z" fill="#e3f1f3" stroke="#b9cdd2" stroke-width="0.6"/>
<path d="M194 31 Q204 28 206 33 Q206 42 201 51" fill="none" stroke="#dcecef" stroke-width="2.6"/>
<path d="M194 31 Q204 28 206 33 Q206 42 201 51" fill="none" stroke="#a9bfc6" stroke-width="0.5"/>
<path d="M172 60 Q188 56.5 204 60 Q206 64 206 69 Q206 85 188 85 Q170 85 170 69 Q170 64 172 60Z" fill="url(#goil2)"/>
<path d="M172 60 Q188 56.5 204 60 Q188 63.5 172 60Z" fill="#f8dc60"/>
<path d="M187.3 21 L187.3 44" stroke="#fff" stroke-width="1.5" opacity="0.9"/>
<rect x="183" y="8.5" width="11.5" height="12" rx="1.5" fill="#e4c48e"/><rect x="183" y="8.5" width="11.5" height="3" rx="1.5" fill="#eed3a4"/>
<rect x="182.5" y="17.5" width="12.5" height="3" rx="1.2" fill="#dbe9ec" stroke="#a9bfc6" stroke-width="0.4"/>
<path d="M199 82 Q203 68 214 60 Q221 56 230 58 Q250 63 266 73 Q270 77 268 82 Q262 91 250 97 L236 96 Q224 80 210 78 Q203 79 199 82Z" fill="#b3a791"/>
<path d="M214 60 Q221 56 230 58 Q250 63 266 73 Q258 74 246 70 Q232 64 220 64.5 Q212 66 204 74 Q207 65 214 60Z" fill="#c9bfab"/>
<path d="M246 70 Q252 82 250 97 Q259 91 268 82 Q270 77 266 73 Q258 74 246 70Z" fill="#9a8e78"/>
<path d="M236 62 Q244 70 246 82 M226 60 Q236 68 240 78" stroke="#9a8e78" stroke-width="0.6" fill="none" opacity="0.7"/>
<path d="M192 102 Q197 88 206 78 Q214 70 224 70 Q236 72 244 84 Q250 94 251 105 Q222 107 192 102Z" fill="url(#pfine)"/>
<path d="M206 78 Q214 70 224 70 Q236 72 244 84 Q234 77 224 76 Q214 76 206 78Z" fill="#8e7f62" opacity="0.55"/>
<path d="M200 89 Q182.6 91.1 167 99 Q184.4 96.9 200 89Z" fill="#2f9428"/>
<path d="M196 93 Q187.0 94.3 180 100 Q189.0 98.7 196 93Z" fill="#2f9428"/>
</g>
<use href="#spile"/>
<use href="#spile" y="72.4"/>
<use href="#spile" y="149"/>
<g>
<path d="M668 541 Q676 532 690 523 Q700 514 706 515 Q716 517 728 528 Q742 540 750 552 Q746 560 730 562 Q700 558 684 551 Q670 546 668 541Z" fill="#edd4a6"/>
<path d="M690 523 Q700 514 706 515 Q716 517 728 530 Q714 524 704 524 Q696 524 690 523Z" fill="#f3e0bb"/>
<ellipse cx="702.9" cy="527.9" rx="1.9" ry="1.1" fill="#dba878" transform="rotate(12 702.9 527.9)"/><ellipse cx="730.4" cy="551.1" rx="1.9" ry="1.1" fill="#dba878" transform="rotate(40 730.4 551.1)"/><ellipse cx="712.5" cy="532.5" rx="1.9" ry="1.1" fill="#dba878" transform="rotate(31 712.5 532.5)"/><ellipse cx="739.1" cy="553.5" rx="1.9" ry="1.1" fill="#dba878" transform="rotate(145 739.1 553.5)"/><ellipse cx="697.1" cy="545.8" rx="1.9" ry="1.1" fill="#dba878" transform="rotate(132 697.1 545.8)"/><ellipse cx="734.1" cy="555.4" rx="1.9" ry="1.1" fill="#dba878" transform="rotate(16 734.1 555.4)"/><ellipse cx="717.2" cy="547.5" rx="1.9" ry="1.1" fill="#dba878" transform="rotate(91 717.2 547.5)"/><ellipse cx="688.1" cy="540.0" rx="1.9" ry="1.1" fill="#dba878" transform="rotate(16 688.1 540.0)"/><ellipse cx="739.6" cy="554.9" rx="1.9" ry="1.1" fill="#dba878" transform="rotate(99 739.6 554.9)"/><ellipse cx="704.1" cy="544.8" rx="1.9" ry="1.1" fill="#dba878" transform="rotate(78 704.1 544.8)"/><ellipse cx="695.1" cy="542.3" rx="1.9" ry="1.1" fill="#dba878" transform="rotate(85 695.1 542.3)"/><ellipse cx="689.3" cy="537.7" rx="1.9" ry="1.1" fill="#dba878" transform="rotate(36 689.3 537.7)"/><ellipse cx="719.0" cy="532.5" rx="1.9" ry="1.1" fill="#dba878" transform="rotate(64 719.0 532.5)"/><ellipse cx="717.8" cy="531.0" rx="1.9" ry="1.1" fill="#dba878" transform="rotate(60 717.8 531.0)"/><ellipse cx="688.1" cy="539.4" rx="1.9" ry="1.1" fill="#dba878" transform="rotate(8 688.1 539.4)"/><ellipse cx="723.4" cy="556.0" rx="1.9" ry="1.1" fill="#dba878" transform="rotate(172 723.4 556.0)"/><ellipse cx="726.0" cy="558.5" rx="1.9" ry="1.1" fill="#dba878" transform="rotate(3 726.0 558.5)"/><ellipse cx="689.0" cy="538.9" rx="1.9" ry="1.1" fill="#dba878" transform="rotate(25 689.0 538.9)"/><ellipse cx="684.3" cy="542.1" rx="1.9" ry="1.1" fill="#dba878" transform="rotate(139 684.3 542.1)"/><ellipse cx="708.5" cy="531.2" rx="1.9" ry="1.1" fill="#dba878" transform="rotate(74 708.5 531.2)"/><ellipse cx="737.3" cy="546.9" rx="1.9" ry="1.1" fill="#dba878" transform="rotate(142 737.3 546.9)"/><ellipse cx="726.6" cy="540.8" rx="1.9" ry="1.1" fill="#dba878" transform="rotate(17 726.6 540.8)"/><ellipse cx="737.2" cy="557.1" rx="1.9" ry="1.1" fill="#dba878" transform="rotate(61 737.2 557.1)"/><ellipse cx="720.7" cy="552.4" rx="1.9" ry="1.1" fill="#dba878" transform="rotate(116 720.7 552.4)"/><ellipse cx="731.4" cy="542.1" rx="1.9" ry="1.1" fill="#dba878" transform="rotate(118 731.4 542.1)"/><ellipse cx="738.8" cy="558.3" rx="1.9" ry="1.1" fill="#dba878" transform="rotate(13 738.8 558.3)"/><ellipse cx="742.0" cy="558.5" rx="1.9" ry="1.1" fill="#dba878" transform="rotate(120 742.0 558.5)"/><ellipse cx="714.7" cy="550.4" rx="1.9" ry="1.1" fill="#dba878" transform="rotate(167 714.7 550.4)"/><ellipse cx="731.1" cy="551.8" rx="1.9" ry="1.1" fill="#dba878" transform="rotate(158 731.1 551.8)"/>
<path d="M744 458 L772.5 458 L772.5 466 Q783.5 470 783.5 480 L783.5 538 Q783.5 543 778 543 L739 543 Q733.5 543 733.5 538 L733.5 480 Q733.5 470 744 466Z" fill="#e9f5f5" stroke="#cfe3e4" stroke-width="0.6"/>
<path d="M733.8 481.5 Q758 479 783.2 481.5 L783.2 538 Q783.2 542.7 778 542.7 L739 542.7 Q733.8 542.7 733.8 538Z" fill="url(#goil)"/>
<rect x="735.5" y="449" width="45.5" height="9" rx="3.5" fill="#eef8f8" stroke="#cfe3e4" stroke-width="0.6"/>
<path d="M742.5 445 Q742.5 439.5 748 439.5 L768 439.5 Q773.8 439.5 773.8 445 L773 466.5 L743.3 466.5Z" fill="#9c522b"/>
<path d="M742.5 445 Q742.5 439.5 748 439.5 L768 439.5 Q773.8 439.5 773.8 445 Q758 449 742.5 445Z" fill="#b36b3f"/>
<rect x="735.5" y="449" width="45.5" height="9" rx="3.5" fill="#fff" opacity="0.35"/>
<path d="M712.8 491 Q730 500 745 543 Q722 530 712.8 491Z" fill="#3f8f3a"/><path d="M712.8 491 Q726 512 745 543 Q722 530 712.8 491Z" fill="#2c6e2c"/>
<path d="M698.8 529.5 Q724 526 745 545 Q718 548 698.8 529.5Z" fill="#3f8f3a"/><path d="M698.8 529.5 Q722 537 745 545 Q718 548 698.8 529.5Z" fill="#2c6e2c"/>
<g transform="translate(766.7,549) rotate(8)"><path d="M-22 0 Q-18 -11 -2 -12 Q16 -12 22 0 Q17 11 0 12 Q-17 11 -22 0Z" fill="#8fbd48" stroke="#5f9230" stroke-width="0.8"/><path d="M-16 -1.2 Q-2 -9 15 -2.2 Q2 -1.2 -16 -1.2Z M-16 2 Q0 1 15 2 Q0 9 -16 2Z" fill="#ebe6b8"/><path d="M-12 -4 L12 -4.5 M-12 5 L12 4.5" stroke="#9dc45c" stroke-width="0.6" stroke-dasharray="1.5 1.2"/></g>
<g transform="translate(735.3,562.7) rotate(-68)"><path d="M-18.5 0 Q-15 -10.5 -2 -11.5 Q13 -11.5 18.5 0 Q14 10.5 0 11.5 Q-14 10.5 -18.5 0Z" fill="#8fbd48" stroke="#5f9230" stroke-width="0.8"/><path d="M-13 -1.2 Q-2 -8.5 12 -2.2 Q2 -1.2 -13 -1.2Z M-13 2 Q0 1 12 2 Q0 8.5 -13 2Z" fill="#ebe6b8"/><path d="M-10 -4 L10 -4.3 M-10 4.8 L10 4.3" stroke="#9dc45c" stroke-width="0.6" stroke-dasharray="1.5 1.2"/></g>
<ellipse cx="753" cy="562" rx="2.5" ry="1.5" fill="#d99a66" transform="rotate(40 753 562)"/><ellipse cx="752" cy="569" rx="2.5" ry="1.5" fill="#d99a66" transform="rotate(10 752 569)"/><ellipse cx="756" cy="574" rx="2.5" ry="1.5" fill="#d99a66" transform="rotate(60 756 574)"/><ellipse cx="760" cy="577" rx="2.5" ry="1.5" fill="#d99a66" transform="rotate(20 760 577)"/><ellipse cx="762" cy="570" rx="2.5" ry="1.5" fill="#d99a66" transform="rotate(80 762 570)"/><ellipse cx="770" cy="578" rx="2.5" ry="1.5" fill="#d99a66" transform="rotate(30 770 578)"/><ellipse cx="755" cy="583" rx="2.5" ry="1.5" fill="#d99a66" transform="rotate(15 755 583)"/><ellipse cx="763" cy="582" rx="2.5" ry="1.5" fill="#d99a66" transform="rotate(70 763 582)"/><ellipse cx="699" cy="555" rx="2.5" ry="1.5" fill="#d99a66" transform="rotate(20 699 555)"/><ellipse cx="711" cy="561" rx="2.5" ry="1.5" fill="#d99a66" transform="rotate(50 711 561)"/>
</g>
<path d="M472 1844 L486.6 1832 L501.2 1844" fill="none" stroke="#e60012" stroke-width="3.6" stroke-linejoin="miter"/>
<text x="486.3" y="1853.8" font-size="14.5" font-weight="bold" fill="#e60012" text-anchor="middle" style='font-family:"Liberation Sans","Noto Sans CJK JP",sans-serif' stroke="#e60012" stroke-width="0.5">角</text>
<text x="507.5" y="1854" font-size="24" font-weight="bold" fill="#e60012" textLength="21" lengthAdjust="spacingAndGlyphs" stroke="#e60012" stroke-width="0.9">K</text>
<text x="528.5" y="1847.2" font-size="13" font-weight="bold" fill="#e60012" textLength="73.5" lengthAdjust="spacingAndGlyphs" stroke="#e60012" stroke-width="0.7">ADOYA</text>
<text x="579.5" y="1852" font-size="4.8" font-weight="bold" fill="#e60012" textLength="22.5" lengthAdjust="spacingAndGlyphs">BRAND</text>
<path d="M715.6 1827.6 L735.8 1839.8 L755.9 1827.6 L748.5 1827.6 L735.8 1835.2 L723 1827.6Z" fill="#4f8f9b"/>
<path d="M731.4 1827.6 L751.4 1839.3 L771.6 1827.6 L763.5 1827.6 L751.4 1834.6 L739.4 1827.6Z" fill="#124f60"/>
<text x="670.5" y="1856" font-size="25.5" font-weight="bold" fill="#0f4b5c" textLength="92" lengthAdjust="spacingAndGlyphs" stroke="#0f4b5c" stroke-width="0.5">wilmar</text>
<circle cx="49.2" cy="1908.3" r="16.4" fill="none" stroke="#c2930e" stroke-width="1.9"/>
<text x="49.2" y="1906.6" font-size="16.5" font-weight="600" fill="#c2930e" text-anchor="middle" textLength="28" lengthAdjust="spacingAndGlyphs" style='font-family:"Noto Serif CJK SC","Noto Sans CJK JP",serif' stroke="#c2930e" stroke-width="0.3">九</text>
<text x="50.2" y="1921.4" font-size="16.5" font-weight="500" fill="#c2930e" text-anchor="middle" textLength="21.5" lengthAdjust="spacingAndGlyphs" style='font-family:"Noto Serif CJK SC","Noto Sans CJK JP",serif' stroke="#c2930e" stroke-width="0.3">鬼</text>
<clipPath id="sascl"><path d="M118 1888.5 L168 1888.5 L168 1928 Q160 1924.5 150 1921.5 Q140 1918.5 132 1919.5 Q124 1920.5 118 1923Z"/></clipPath>
<g clip-path="url(#sascl)"><rect x="118" y="1888" width="50" height="42" fill="#ffd51f"/>
<path d="M118 1888 L168 1888 L168 1923.5 Q160 1920.5 150 1918.3 Q140 1916.6 132 1917.3 Q124 1918.2 118 1920.8Z" fill="#f7941d"/>
<path d="M118 1888 L168 1888 L168 1921.3 Q160 1918.3 150 1916.3 Q140 1914.8 132 1915.6 Q124 1916.6 118 1919Z" fill="#e2261c"/></g>
<text x="123.5" y="1902.3" font-size="12.9" font-weight="bold" fill="#fff" textLength="37.5" lengthAdjust="spacingAndGlyphs" stroke="#fff" stroke-width="0.45">Sastha</text>
<text x="161.5" y="1895.5" font-size="3.2" fill="#fff">®</text>
<rect x="124" y="1904.5" width="37.5" height="6.6" rx="1.5" fill="#f7941d"/>
<text x="142.6" y="1909.9" font-size="5.4" font-weight="bold" fill="#fff" text-anchor="middle" textLength="30.5" lengthAdjust="spacingAndGlyphs">SESAME OIL</text>
<g fill="#127d4b">
<path d="M241 1902.5 L241 1892 L244.5 1888.8 L248 1892 L248 1902.5Z"/>
<path d="M241 1902.5 L241 1892 L244.5 1888.8 L248 1892 L248 1902.5Z" transform="translate(-3.6,7.6) rotate(-29 244.5 1902.5)"/>
<path d="M241 1902.5 L241 1892 L244.5 1888.8 L248 1892 L248 1902.5Z" transform="translate(3.8,7.6) rotate(29 244.5 1902.5)"/>
<rect x="243.9" y="1903" width="1.4" height="18"/>
<path d="M244.6 1918 Q236 1917.5 231.9 1910.6 Q240 1910.5 244.6 1916Z M244.6 1918 Q253 1917.5 257.2 1910.6 Q249 1910.5 244.6 1916Z"/>
</g>
<g stroke="#fff" stroke-width="0.55" opacity="0.85"><g transform="translate(0,0) rotate(0 244.5 1902.5)"><line x1="241.6" y1="1893.2" x2="247.4" y2="1893.2"/><line x1="241.6" y1="1895.4" x2="247.4" y2="1895.4"/><line x1="241.6" y1="1897.6" x2="247.4" y2="1897.6"/><line x1="241.6" y1="1899.8" x2="247.4" y2="1899.8"/><line x1="244.5" y1="1890.5" x2="244.5" y2="1902"/></g><g transform="translate(-3.6,7.6) rotate(-29 244.5 1902.5)"><line x1="241.6" y1="1893.2" x2="247.4" y2="1893.2"/><line x1="241.6" y1="1895.4" x2="247.4" y2="1895.4"/><line x1="241.6" y1="1897.6" x2="247.4" y2="1897.6"/><line x1="241.6" y1="1899.8" x2="247.4" y2="1899.8"/><line x1="244.5" y1="1890.5" x2="244.5" y2="1902"/></g><g transform="translate(3.8,7.6) rotate(29 244.5 1902.5)"><line x1="241.6" y1="1893.2" x2="247.4" y2="1893.2"/><line x1="241.6" y1="1895.4" x2="247.4" y2="1895.4"/><line x1="241.6" y1="1897.6" x2="247.4" y2="1897.6"/><line x1="241.6" y1="1899.8" x2="247.4" y2="1899.8"/><line x1="244.5" y1="1890.5" x2="244.5" y2="1902"/></g></g>
<text x="244.6" y="1928" font-size="9.3" font-weight="bold" fill="#127d4b" text-anchor="middle" textLength="37" lengthAdjust="spacingAndGlyphs" style='font-family:"Liberation Serif",serif' stroke="#127d4b" stroke-width="0.25">DIPASA</text>
<text x="303.5" y="1908.3" font-size="22" font-weight="bold" fill="#e2231a" textLength="85" lengthAdjust="spacingAndGlyphs" stroke="#e2231a" stroke-width="0.9">Pansari</text>
<text x="389.5" y="1893" font-size="5" fill="#e2231a">®</text>
<rect x="304.8" y="1912.8" width="80.8" height="11.2" fill="#66686a"/>
<text x="345.2" y="1922" font-size="10.3" font-weight="bold" fill="#fff" text-anchor="middle" textLength="59.5" lengthAdjust="spacingAndGlyphs">GROUP</text>
<text x="345" y="1928.6" font-size="4.2" fill="#777" text-anchor="middle" textLength="55" lengthAdjust="spacingAndGlyphs">Oil | Spice | Atta | Dry Fruit</text>
<rect x="422.5" y="1888" width="173.5" height="38.8" fill="#1b1f5e"/>
<text x="424" y="1896.2" font-size="7.2" fill="#fff" textLength="171" lengthAdjust="spacingAndGlyphs" style='font-family:"Liberation Sans","Noto Sans CJK JP",sans-serif'>安政四年(1857年)創業。守り続ける伝統の製法。</text>
<rect x="427.5" y="1903.8" width="20" height="18.4" fill="none" stroke="#fff" stroke-width="1.4"/>
<path d="M425 1906.5 L450 1906.5 M425 1919.8 L450 1919.8 M430.3 1901.5 L430.3 1924.5 M444.7 1901.5 L444.7 1924.5" stroke="#fff" stroke-width="0.9" fill="none"/>
<text x="437.5" y="1918.2" font-size="11.5" font-weight="bold" fill="#fff" text-anchor="middle" style='font-family:"Noto Sans CJK JP",sans-serif'>岩</text>
<text x="457" y="1923.2" font-size="22.5" font-weight="bold" fill="#fff" textLength="134.5" lengthAdjust="spacingAndGlyphs" style='font-family:"Noto Serif CJK SC","Noto Sans CJK JP",serif' stroke="#fff" stroke-width="0.5">岩井の胡麻油</text>
<polygon points="639.7,1888.7 657.2,1898.8 643.5,1902.3 635.9,1902.3" fill="#2f9a43"/>
<polygon points="657.2,1898.8 657.2,1919.0 647.3,1908.9 643.5,1902.3" fill="#56b848"/>
<polygon points="657.2,1919.0 639.7,1929.1 643.5,1915.5 647.3,1908.9" fill="#8fd05c"/>
<polygon points="639.7,1929.1 622.2,1919.0 635.9,1915.5 643.5,1915.5" fill="#63bd4c"/>
<polygon points="622.2,1919.0 622.2,1898.8 632.1,1908.9 635.9,1915.5" fill="#2a8f3f"/>
<polygon points="622.2,1898.8 639.7,1888.7 635.9,1902.3 632.1,1908.9" fill="#1c7d38"/>
<text x="663" y="1916" font-size="20.6" fill="#2b2b2b" textLength="125.5" lengthAdjust="spacingAndGlyphs" stroke="#2b2b2b" stroke-width="0.35">TAKEMOTO</text>
<path d="M683.6 1911.6 L685.2 1914.6 L682 1914.6Z" fill="#e2231a"/>
<rect x="0" y="1940" width="800" height="2" fill="#1f4f66"/>
<rect x="0" y="1942" width="800" height="1.5" fill="#cfdde4"/>
<g fill="none" stroke-width="2.9" stroke-linecap="butt">
<path d="M9.3 1979.8 L26.3 1953.2" stroke="#1667b2"/>
<path d="M17 1979.8 L28.2 1959.6 L31.6 1965.3" stroke="#1a72ba" stroke-linejoin="miter"/>
<path d="M27.6 1947.6 L39.4 1964.6 L27.6 1967" stroke="#1f86c6" stroke-linejoin="miter"/>
<path d="M19.5 1975.6 L42.6 1969.2 L49.4 1979.8" stroke="#27a0cc" stroke-linejoin="miter"/>
<path d="M36.6 1970.8 L42.4 1979.8" stroke="#2aa8cf"/>
</g>
<text x="55.3" y="1970" font-size="25" font-weight="bold" fill="#1f7bc1" textLength="82" lengthAdjust="spacingAndGlyphs" stroke="#1f7bc1" stroke-width="0.5">ADROIT</text>
<text x="56.8" y="1979.8" font-size="9.7" font-weight="bold" fill="#1f7bc1" textLength="80.5" lengthAdjust="spacingAndGlyphs">MARKET RESEARCH</text>
<rect x="7" y="1983" width="131" height="12.8" fill="url(#gstrip)"/>
<text x="12" y="1992.2" font-size="10.6" font-weight="bold" fill="#fff" textLength="121.5" lengthAdjust="spacingAndGlyphs">Your Knowledge Partner</text>
<rect x="145.4" y="1946" width="1" height="50" fill="#9a9a9a"/>
<text x="152.5" y="1954.5" font-size="9.9" fill="#111" textLength="638.5" lengthAdjust="spacingAndGlyphs">All Rights Reserved. This document contains highly confidential information and is the sole property of Adroit Research. No part of it may be</text>
<text x="152.5" y="1967" font-size="9.9" fill="#111" textLength="411" lengthAdjust="spacingAndGlyphs">circulated, copied, quoted, or otherwise reproduced without the approval of Adroit Research.</text>
<text x="555" y="1992.5" font-size="13" font-weight="bold" fill="#111" textLength="238" lengthAdjust="spacingAndGlyphs">Copyright © 2018 Adroit Market Research</text>
</svg>
</body></html>
